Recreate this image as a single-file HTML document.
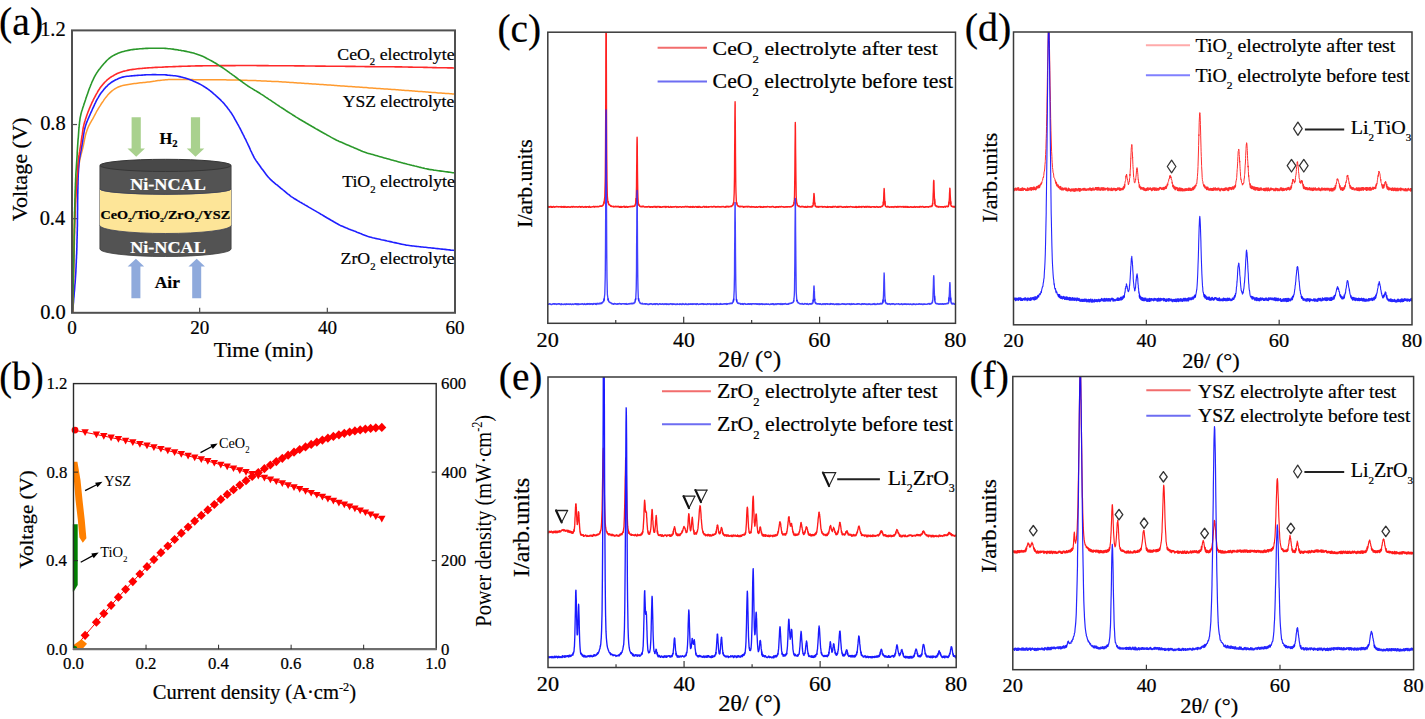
<!DOCTYPE html><html><head><meta charset="utf-8"><title>figure</title><style>html,body{margin:0;padding:0;background:#fff;overflow:hidden;}svg{display:block;}</style></head><body>
<svg width="1425" height="719" viewBox="0 0 1425 719" font-family="Liberation Serif">
<rect width="1425" height="719" fill="#fff"/>
<path d="M131.6,117.3 L140.79999999999998,117.3 L140.79999999999998,148.6 L144.95,148.6 L136.2,156.7 L127.44999999999999,148.6 L131.6,148.6 Z" fill="#a9d18e"/>
<path d="M190.9,117.3 L200.1,117.3 L200.1,148.6 L204.25,148.6 L195.5,156.7 L186.75,148.6 L190.9,148.6 Z" fill="#a9d18e"/>
<path d="M131.4,298.2 L140.4,298.2 L140.4,266.4 L144.15,266.4 L135.9,258.8 L127.65,266.4 L131.4,266.4 Z" fill="#8faadc"/>
<path d="M192.2,298.2 L201.2,298.2 L201.2,266.4 L204.95,266.4 L196.7,258.8 L188.45,266.4 L192.2,266.4 Z" fill="#8faadc"/>
<path d="M99.9,165.4 L231.1,165.4 L231.1,249 A65.6,7.5 0 0 1 99.9,249 Z" fill="#535353" stroke="#3c3c3c" stroke-width="0.8"/>
<path d="M99.9,189 A65.6,5.8 0 0 0 231.1,189 L231.1,225.5 A65.6,8.0 0 0 1 99.9,225.5 Z" fill="#fde598"/>
<path d="M99.9,189 A65.6,5.3 0 0 0 231.1,189" fill="none" stroke="#3a3f55" stroke-width="0.8"/>
<path d="M99.9,225.5 A65.6,8.0 0 0 0 231.1,225.5" fill="none" stroke="#3a3f55" stroke-width="0.8"/>
<ellipse cx="165.5" cy="165.4" rx="65.6" ry="6.1" fill="#484848" stroke="#363636" stroke-width="1.0"/>
<path d="M72.6,313.0 72.6,310.9 72.7,309.8 72.7,308.4 72.7,307.0 72.7,305.5 72.8,304.0 72.8,302.5 72.8,301.0 72.8,299.5 72.9,298.0 72.9,296.5 72.9,295.0 72.9,293.5 73.0,292.0 73.0,290.5 73.0,289.0 73.0,287.5 73.1,286.0 73.1,284.5 73.1,283.0 73.1,281.5 73.2,280.0 73.2,278.5 73.2,277.0 73.2,275.5 73.3,274.0 73.3,272.5 73.3,271.0 73.3,269.5 73.4,268.0 73.4,266.5 73.4,265.0 73.4,263.5 73.5,262.0 73.5,260.5 73.5,259.0 73.6,257.5 73.6,256.0 73.6,254.5 73.7,253.0 73.7,251.5 73.7,250.0 73.8,248.5 73.8,247.0 73.9,245.5 73.9,244.0 73.9,242.5 74.0,241.0 74.0,239.5 74.0,238.0 74.0,236.5 74.1,235.0 74.1,233.5 74.1,232.0 74.1,230.5 74.2,229.0 74.2,227.5 74.2,226.0 74.2,224.5 74.2,223.0 74.3,221.5 74.3,220.0 74.4,218.5 74.4,217.0 74.5,215.5 74.6,214.0 74.6,212.5 74.7,211.0 74.8,209.5 74.9,208.0 74.9,206.5 75.0,205.0 75.1,203.5 75.3,202.0 75.4,200.6 75.5,199.1 75.6,197.6 75.8,196.1 75.9,194.6 76.0,193.1 76.2,191.6 76.3,190.1 76.4,188.6 76.5,187.1 76.6,185.6 76.7,184.1 76.8,182.6 76.9,181.1 77.0,179.6 77.1,178.1 77.2,176.6 77.4,175.1 77.6,173.6 77.8,172.2 78.0,170.7 78.2,169.2 78.5,167.7 78.7,166.2 78.9,164.8 79.2,163.3 79.5,161.8 79.7,160.3 80.1,158.9 80.4,157.4 80.8,156.0 81.1,154.5 81.5,153.0 81.9,151.6 82.3,150.1 82.6,148.7 83.0,147.2 83.3,145.8 83.6,144.3 83.9,142.8 84.2,141.4 84.5,139.9 84.8,138.4 85.1,137.0 85.4,135.5 85.8,134.1 86.3,132.6 86.7,131.2 87.2,129.8 87.7,128.4 88.3,127.0 88.9,125.6 89.6,124.3 90.3,123.0 91.1,121.7 91.8,120.4 92.6,119.1 93.3,117.8 94.0,116.5 94.7,115.2 95.4,113.8 96.1,112.5 96.8,111.2 97.6,109.9 98.3,108.6 99.1,107.3 99.9,106.1 100.7,104.8 101.5,103.5 102.4,102.3 103.2,101.1 104.0,99.8 104.9,98.6 105.8,97.4 106.8,96.3 107.7,95.1 108.7,94.0 109.8,92.9 110.9,91.9 112.0,90.9 113.2,90.0 114.4,89.2 115.7,88.4 117.0,87.7 118.3,87.0 119.7,86.5 121.1,86.0 122.5,85.6 124.0,85.3 125.4,85.0 126.9,84.7 128.4,84.4 129.9,84.2 131.4,84.0 132.8,83.8 134.3,83.6 135.8,83.4 137.3,83.2 138.8,83.0 140.3,82.8 141.8,82.7 143.3,82.5 144.8,82.4 146.2,82.2 147.7,82.0 149.2,81.9 150.7,81.7 152.2,81.5 153.7,81.3 155.2,81.1 156.7,80.8 158.1,80.6 159.6,80.4 161.1,80.2 162.6,80.1 164.1,79.9 165.6,79.8 167.1,79.7 168.6,79.6 170.1,79.6 171.6,79.5 173.1,79.5 174.6,79.4 176.1,79.4 177.6,79.4 179.1,79.4 180.6,79.4 182.1,79.4 183.6,79.4 185.1,79.5 186.6,79.5 188.1,79.5 189.6,79.6 191.1,79.6 192.6,79.6 194.1,79.7 195.6,79.7 197.1,79.7 198.6,79.8 200.1,79.8 201.6,79.8 203.1,79.8 204.6,79.8 206.1,79.8 207.6,79.8 209.1,79.8 210.6,79.7 212.1,79.7 213.6,79.7 215.1,79.7 216.6,79.7 218.1,79.7 219.6,79.7 221.1,79.7 222.6,79.8 224.1,79.8 225.6,79.8 227.1,79.9 228.6,79.9 230.1,79.9 231.6,80.0 233.1,80.0 234.6,80.0 236.1,80.1 237.6,80.1 239.1,80.1 240.6,80.2 242.1,80.2 243.6,80.3 245.1,80.3 246.6,80.3 248.1,80.4 249.6,80.4 251.1,80.5 252.6,80.5 254.1,80.6 255.6,80.6 257.1,80.7 258.6,80.8 260.1,80.8 261.6,80.9 263.1,81.0 264.5,81.0 266.0,81.1 267.5,81.2 269.0,81.2 270.5,81.3 272.0,81.4 273.5,81.4 275.0,81.5 276.5,81.6 278.0,81.6 279.5,81.7 281.0,81.8 282.5,81.9 284.0,82.0 285.5,82.1 287.0,82.2 288.5,82.3 290.0,82.4 291.5,82.5 293.0,82.6 294.5,82.7 296.0,82.8 297.5,82.9 299.0,83.0 300.5,83.1 302.0,83.2 303.5,83.3 305.0,83.4 306.5,83.5 308.0,83.6 309.5,83.7 311.0,83.8 312.5,83.9 314.0,84.0 315.5,84.1 316.9,84.2 318.4,84.3 319.9,84.4 321.4,84.5 322.9,84.6 324.4,84.7 325.9,84.8 327.4,84.9 328.9,85.0 330.4,85.1 331.9,85.2 333.4,85.3 334.9,85.5 336.4,85.6 337.9,85.7 339.4,85.8 340.9,85.9 342.4,86.0 343.9,86.1 345.4,86.2 346.9,86.3 348.4,86.4 349.9,86.5 351.4,86.6 352.9,86.7 354.4,86.8 355.9,86.9 357.4,87.0 358.8,87.1 360.3,87.2 361.8,87.3 363.3,87.4 364.8,87.5 366.3,87.6 367.8,87.7 369.3,87.9 370.8,88.0 372.3,88.1 373.8,88.2 375.3,88.3 376.8,88.4 378.3,88.5 379.8,88.6 381.3,88.7 382.8,88.8 384.3,88.9 385.8,89.0 387.3,89.1 388.8,89.2 390.3,89.3 391.8,89.4 393.3,89.5 394.8,89.6 396.3,89.7 397.8,89.8 399.2,90.0 400.7,90.1 402.2,90.2 403.7,90.3 405.2,90.4 406.7,90.5 408.2,90.6 409.7,90.7 411.2,90.8 412.7,91.0 414.2,91.1 415.7,91.2 417.2,91.3 418.7,91.4 420.2,91.5 421.7,91.6 423.2,91.7 424.7,91.8 426.2,92.0 427.7,92.1 429.2,92.2 430.7,92.3 432.2,92.4 433.7,92.5 435.1,92.6 436.6,92.7 438.1,92.9 439.6,93.0 441.1,93.1 442.6,93.2 444.1,93.3 445.6,93.4 447.1,93.5 448.6,93.6 450.0,93.7 451.4,93.8 452.6,93.9 453.5,94.0 454.8,94.1" fill="none" stroke="#ff9a2e" stroke-width="1.5" stroke-linejoin="round"/>
<path d="M72.6,313.0 72.8,310.9 72.9,309.8 73.0,308.4 73.1,307.0 73.2,305.5 73.3,304.0 73.5,302.5 73.6,301.0 73.7,299.5 73.8,298.1 74.0,296.6 74.1,295.1 74.2,293.6 74.3,292.1 74.5,290.6 74.6,289.1 74.7,287.6 74.8,286.1 74.9,284.6 75.1,283.1 75.2,281.6 75.3,280.1 75.4,278.6 75.5,277.1 75.6,275.6 75.7,274.1 75.8,272.6 75.9,271.1 75.9,269.6 76.0,268.1 76.1,266.6 76.1,265.1 76.2,263.6 76.3,262.1 76.3,260.6 76.4,259.1 76.5,257.6 76.5,256.1 76.6,254.6 76.7,253.1 76.7,251.6 76.8,250.1 76.8,248.7 76.9,247.2 76.9,245.7 76.9,244.2 77.0,242.7 77.0,241.2 77.0,239.7 77.1,238.2 77.1,236.7 77.2,235.2 77.2,233.7 77.2,232.2 77.3,230.7 77.3,229.2 77.3,227.7 77.4,226.2 77.4,224.7 77.4,223.2 77.4,221.7 77.4,220.2 77.5,218.7 77.5,217.2 77.5,215.7 77.5,214.2 77.5,212.7 77.5,211.2 77.6,209.7 77.6,208.2 77.6,206.7 77.6,205.2 77.6,203.7 77.6,202.2 77.6,200.7 77.7,199.2 77.7,197.7 77.7,196.2 77.7,194.7 77.8,193.2 77.8,191.7 77.8,190.2 77.9,188.7 77.9,187.2 77.9,185.7 78.0,184.2 78.0,182.7 78.0,181.2 78.1,179.7 78.1,178.2 78.2,176.7 78.2,175.2 78.3,173.7 78.4,172.2 78.5,170.7 78.6,169.2 78.7,167.7 78.8,166.2 78.9,164.7 79.0,163.2 79.2,161.7 79.3,160.2 79.5,158.7 79.8,157.3 80.0,155.8 80.3,154.3 80.6,152.8 80.9,151.4 81.2,149.9 81.4,148.4 81.7,146.9 82.0,145.5 82.2,144.0 82.4,142.5 82.7,141.0 82.9,139.5 83.1,138.0 83.3,136.6 83.5,135.1 83.8,133.6 84.0,132.1 84.3,130.7 84.6,129.2 85.0,127.7 85.4,126.3 85.8,124.9 86.3,123.4 86.8,122.1 87.4,120.7 88.0,119.3 88.6,117.9 89.2,116.5 89.8,115.2 90.4,113.8 91.0,112.4 91.6,111.1 92.2,109.7 92.8,108.3 93.5,107.0 94.1,105.6 94.7,104.2 95.4,102.9 96.0,101.5 96.7,100.2 97.4,98.9 98.2,97.6 98.9,96.3 99.7,95.0 100.5,93.8 101.4,92.6 102.3,91.4 103.3,90.2 104.2,89.1 105.2,87.9 106.2,86.8 107.3,85.8 108.3,84.7 109.5,83.8 110.7,82.9 111.9,82.0 113.2,81.2 114.5,80.5 115.8,79.8 117.2,79.2 118.5,78.6 119.9,78.1 121.3,77.6 122.7,77.1 124.2,76.8 125.6,76.5 127.1,76.3 128.6,76.2 130.1,76.0 131.6,75.9 133.1,75.8 134.6,75.6 136.1,75.5 137.6,75.4 139.1,75.3 140.6,75.2 142.1,75.1 143.6,75.0 145.0,74.9 146.5,74.8 148.0,74.7 149.5,74.7 151.0,74.7 152.5,74.6 154.0,74.6 155.5,74.6 157.0,74.7 158.5,74.7 160.0,74.7 161.5,74.7 163.0,74.8 164.5,74.8 166.0,74.9 167.5,75.1 169.0,75.2 170.5,75.4 172.0,75.5 173.5,75.7 175.0,75.8 176.5,76.0 177.9,76.3 179.4,76.6 180.9,76.9 182.3,77.3 183.8,77.7 185.2,78.1 186.6,78.5 188.1,79.0 189.5,79.5 190.9,80.0 192.3,80.6 193.6,81.2 195.0,81.8 196.4,82.4 197.7,83.0 199.1,83.7 200.4,84.4 201.7,85.1 203.0,85.9 204.3,86.7 205.5,87.5 206.8,88.3 208.0,89.2 209.2,90.0 210.4,91.0 211.6,91.9 212.7,92.9 213.8,93.9 215.0,94.8 216.1,95.9 217.2,96.9 218.3,97.9 219.4,98.9 220.5,99.9 221.5,101.0 222.6,102.0 223.6,103.1 224.6,104.3 225.5,105.4 226.5,106.6 227.4,107.8 228.3,109.0 229.2,110.1 230.1,111.4 231.0,112.6 231.8,113.8 232.6,115.1 233.4,116.4 234.1,117.7 234.8,119.0 235.6,120.3 236.3,121.6 237.0,122.9 237.7,124.2 238.5,125.5 239.2,126.9 239.9,128.2 240.6,129.5 241.3,130.9 241.9,132.2 242.6,133.5 243.3,134.9 244.0,136.2 244.6,137.6 245.3,138.9 246.0,140.2 246.6,141.6 247.3,143.0 247.9,144.3 248.5,145.7 249.2,147.0 249.8,148.4 250.4,149.8 251.0,151.1 251.7,152.5 252.3,153.8 253.0,155.2 253.6,156.5 254.3,157.8 255.1,159.1 255.9,160.4 256.7,161.6 257.6,162.8 258.5,164.1 259.4,165.3 260.3,166.5 261.1,167.7 262.0,168.9 262.9,170.1 263.8,171.3 264.7,172.5 265.6,173.7 266.5,174.9 267.4,176.1 268.4,177.2 269.4,178.3 270.4,179.4 271.5,180.4 272.6,181.4 273.8,182.4 274.9,183.3 276.1,184.3 277.3,185.2 278.4,186.2 279.6,187.1 280.7,188.1 281.9,189.0 283.1,190.0 284.2,190.9 285.4,191.9 286.5,192.8 287.7,193.8 288.9,194.7 290.0,195.7 291.2,196.6 292.5,197.4 293.7,198.2 295.0,199.0 296.3,199.8 297.6,200.6 298.8,201.3 300.1,202.1 301.4,202.8 302.7,203.6 304.0,204.3 305.3,205.1 306.6,205.8 307.9,206.6 309.2,207.4 310.5,208.1 311.8,208.9 313.1,209.6 314.4,210.4 315.7,211.1 317.0,211.9 318.3,212.6 319.6,213.4 320.9,214.2 322.2,214.9 323.5,215.7 324.8,216.5 326.0,217.2 327.3,218.0 328.6,218.7 329.9,219.5 331.2,220.3 332.5,221.0 333.8,221.8 335.1,222.5 336.4,223.3 337.7,224.0 339.0,224.7 340.3,225.4 341.7,226.0 343.1,226.6 344.5,227.2 345.9,227.8 347.2,228.3 348.6,228.9 350.0,229.4 351.4,230.0 352.8,230.5 354.2,231.1 355.6,231.6 357.0,232.2 358.4,232.7 359.8,233.3 361.2,233.8 362.6,234.4 364.0,234.9 365.4,235.4 366.8,236.0 368.2,236.5 369.6,236.9 371.1,237.3 372.5,237.7 374.0,238.0 375.5,238.4 376.9,238.7 378.4,239.0 379.8,239.3 381.3,239.7 382.8,240.0 384.2,240.3 385.7,240.6 387.2,241.0 388.6,241.3 390.1,241.6 391.6,241.9 393.0,242.3 394.5,242.6 396.0,242.9 397.4,243.2 398.9,243.5 400.3,243.9 401.8,244.2 403.3,244.5 404.8,244.8 406.2,245.1 407.7,245.3 409.2,245.5 410.7,245.7 412.2,245.9 413.7,246.0 415.1,246.2 416.6,246.4 418.1,246.5 419.6,246.7 421.1,246.9 422.6,247.0 424.1,247.2 425.6,247.3 427.1,247.5 428.6,247.7 430.1,247.8 431.5,248.0 433.0,248.1 434.5,248.3 436.0,248.5 437.5,248.6 439.0,248.8 440.5,249.0 442.0,249.1 443.5,249.3 445.0,249.4 446.5,249.6 447.9,249.8 449.4,249.9 450.8,250.1 452.1,250.2 453.1,250.3 454.8,250.5" fill="none" stroke="#1f1fff" stroke-width="1.6" stroke-linejoin="round"/>
<path d="M72.6,313.0 72.7,310.9 72.7,309.8 72.7,308.4 72.8,307.0 72.8,305.5 72.9,304.0 72.9,302.5 73.0,301.0 73.0,299.5 73.1,298.0 73.1,296.5 73.1,295.0 73.2,293.5 73.2,292.0 73.3,290.5 73.3,289.0 73.3,287.5 73.4,286.0 73.4,284.5 73.4,283.0 73.5,281.5 73.5,280.0 73.5,278.5 73.6,277.0 73.6,275.5 73.6,274.0 73.6,272.5 73.7,271.0 73.7,269.5 73.7,268.0 73.8,266.5 73.8,265.0 73.8,263.5 73.9,262.0 73.9,260.5 73.9,259.0 74.0,257.5 74.0,256.0 74.0,254.5 74.1,253.0 74.1,251.5 74.1,250.0 74.2,248.5 74.2,247.0 74.2,245.5 74.3,244.0 74.3,242.5 74.3,241.0 74.4,239.5 74.4,238.0 74.4,236.5 74.5,235.0 74.5,233.5 74.6,232.0 74.6,230.5 74.6,229.0 74.7,227.5 74.7,226.0 74.8,224.5 74.8,223.0 74.9,221.5 74.9,220.0 75.0,218.5 75.0,217.0 75.1,215.5 75.1,214.0 75.2,212.5 75.2,211.0 75.3,209.5 75.3,208.0 75.4,206.5 75.4,205.0 75.5,203.5 75.6,202.0 75.6,200.5 75.7,199.0 75.8,197.5 75.9,196.1 76.0,194.6 76.1,193.1 76.1,191.6 76.2,190.1 76.3,188.6 76.4,187.1 76.5,185.6 76.6,184.1 76.7,182.6 76.8,181.1 76.9,179.6 77.0,178.1 77.2,176.6 77.3,175.1 77.4,173.6 77.5,172.1 77.6,170.6 77.7,169.1 77.7,167.6 77.8,166.1 77.9,164.6 78.0,163.1 78.2,161.6 78.3,160.1 78.5,158.7 78.7,157.2 78.9,155.7 79.2,154.2 79.4,152.7 79.7,151.2 79.9,149.8 80.1,148.3 80.4,146.8 80.6,145.3 80.9,143.8 81.1,142.4 81.3,140.9 81.5,139.4 81.7,137.9 81.9,136.4 82.2,134.9 82.4,133.5 82.6,132.0 82.8,130.5 83.0,129.0 83.3,127.5 83.6,126.1 83.9,124.6 84.3,123.2 84.7,121.7 85.2,120.3 85.6,118.9 86.1,117.5 86.6,116.0 87.1,114.6 87.6,113.2 88.1,111.8 88.7,110.4 89.2,109.0 89.8,107.6 90.4,106.2 91.0,104.9 91.6,103.5 92.2,102.1 92.9,100.8 93.5,99.4 94.2,98.1 94.9,96.8 95.6,95.5 96.3,94.1 97.1,92.8 97.8,91.5 98.6,90.2 99.4,89.0 100.2,87.7 101.1,86.5 102.0,85.4 103.0,84.2 104.0,83.1 105.0,82.0 106.1,81.0 107.2,79.9 108.3,79.0 109.5,78.1 110.7,77.2 112.0,76.4 113.3,75.7 114.6,74.9 115.9,74.2 117.2,73.5 118.6,72.9 119.9,72.4 121.4,71.9 122.8,71.5 124.2,71.1 125.7,70.8 127.2,70.4 128.6,70.1 130.1,69.8 131.6,69.6 133.0,69.4 134.5,69.2 136.0,69.0 137.5,68.8 139.0,68.6 140.5,68.5 142.0,68.4 143.5,68.2 145.0,68.1 146.5,68.0 148.0,67.9 149.5,67.8 151.0,67.7 152.5,67.6 154.0,67.5 155.5,67.4 157.0,67.4 158.5,67.3 160.0,67.2 161.4,67.2 162.9,67.1 164.4,67.0 165.9,66.9 167.4,66.9 168.9,66.8 170.4,66.7 171.9,66.7 173.4,66.6 174.9,66.6 176.4,66.5 177.9,66.5 179.4,66.4 180.9,66.4 182.4,66.3 183.9,66.3 185.4,66.2 186.9,66.2 188.4,66.1 189.9,66.1 191.4,66.0 192.9,66.0 194.4,66.0 195.9,65.9 197.4,65.9 198.9,65.9 200.4,65.9 201.9,65.9 203.4,65.8 204.9,65.8 206.4,65.8 207.9,65.8 209.4,65.8 210.9,65.7 212.4,65.7 213.9,65.7 215.4,65.7 216.9,65.6 218.4,65.6 219.9,65.6 221.4,65.6 222.9,65.6 224.4,65.6 225.9,65.6 227.4,65.6 228.9,65.6 230.4,65.6 231.9,65.6 233.4,65.6 234.9,65.6 236.4,65.5 237.9,65.5 239.4,65.5 240.9,65.5 242.4,65.5 243.9,65.5 245.4,65.5 246.9,65.5 248.4,65.5 249.9,65.5 251.4,65.5 252.9,65.5 254.4,65.5 255.9,65.5 257.4,65.6 258.9,65.6 260.4,65.6 261.9,65.6 263.4,65.6 264.9,65.6 266.4,65.6 267.9,65.6 269.4,65.7 270.9,65.7 272.4,65.7 273.9,65.7 275.4,65.7 276.9,65.7 278.4,65.7 279.9,65.7 281.4,65.8 282.9,65.8 284.4,65.8 285.9,65.8 287.4,65.8 288.9,65.8 290.4,65.8 291.9,65.8 293.4,65.8 294.9,65.9 296.4,65.9 297.9,65.9 299.4,65.9 300.9,65.9 302.4,65.9 303.9,65.9 305.4,66.0 306.9,66.0 308.4,66.0 309.9,66.0 311.4,66.0 312.9,66.0 314.4,66.0 315.9,66.1 317.4,66.1 318.9,66.1 320.4,66.1 321.9,66.1 323.4,66.1 324.9,66.1 326.4,66.2 327.9,66.2 329.4,66.2 330.9,66.2 332.4,66.2 333.9,66.2 335.4,66.3 336.9,66.3 338.4,66.3 339.9,66.3 341.4,66.3 342.9,66.3 344.4,66.3 345.9,66.4 347.4,66.4 348.9,66.4 350.4,66.4 351.9,66.4 353.4,66.4 354.9,66.4 356.4,66.5 357.9,66.5 359.4,66.5 360.9,66.5 362.4,66.5 363.9,66.5 365.4,66.6 366.9,66.6 368.4,66.6 369.9,66.6 371.4,66.6 372.9,66.6 374.4,66.6 375.9,66.7 377.4,66.7 378.9,66.7 380.4,66.7 381.9,66.7 383.4,66.7 384.9,66.7 386.4,66.8 387.9,66.8 389.4,66.8 390.9,66.8 392.4,66.8 393.9,66.8 395.4,66.9 396.9,66.9 398.4,66.9 399.9,66.9 401.4,66.9 402.9,67.0 404.4,67.0 405.9,67.0 407.4,67.0 408.9,67.1 410.4,67.1 411.9,67.1 413.4,67.2 414.9,67.2 416.4,67.2 417.9,67.3 419.4,67.3 420.9,67.3 422.4,67.3 423.9,67.4 425.4,67.4 426.9,67.4 428.4,67.5 429.9,67.5 431.4,67.5 432.9,67.6 434.4,67.6 435.9,67.6 437.4,67.7 438.9,67.7 440.4,67.7 441.9,67.7 443.4,67.8 444.9,67.8 446.4,67.8 447.9,67.9 449.4,67.9 450.8,67.9 452.1,67.9 453.1,68.0 454.8,68.0" fill="none" stroke="#ff2a2a" stroke-width="1.6" stroke-linejoin="round"/>
<path d="M72.6,313.0 72.6,310.9 72.7,309.8 72.7,308.4 72.7,307.0 72.8,305.5 72.8,304.0 72.8,302.5 72.9,301.0 72.9,299.5 72.9,298.0 72.9,296.5 73.0,295.0 73.0,293.5 73.0,292.0 73.1,290.5 73.1,289.0 73.1,287.5 73.2,286.0 73.2,284.5 73.2,283.0 73.3,281.5 73.3,280.0 73.3,278.5 73.4,277.0 73.4,275.5 73.4,274.0 73.5,272.5 73.5,271.0 73.5,269.5 73.6,268.0 73.6,266.5 73.6,265.0 73.7,263.5 73.7,262.0 73.8,260.5 73.8,259.0 73.8,257.5 73.9,256.0 73.9,254.5 73.9,253.0 74.0,251.5 74.0,250.0 74.0,248.5 74.0,247.0 74.1,245.5 74.1,244.0 74.1,242.5 74.1,241.0 74.2,239.5 74.2,238.0 74.2,236.5 74.2,235.0 74.3,233.5 74.3,232.0 74.3,230.5 74.3,229.0 74.4,227.5 74.4,226.0 74.4,224.5 74.5,223.0 74.5,221.5 74.5,220.0 74.5,218.5 74.6,217.0 74.6,215.5 74.6,214.0 74.6,212.5 74.7,211.0 74.7,209.5 74.7,208.0 74.8,206.5 74.8,205.0 74.8,203.5 74.9,202.0 74.9,200.5 74.9,199.0 75.0,197.5 75.0,196.0 75.0,194.5 75.1,193.0 75.1,191.5 75.2,190.0 75.3,188.5 75.3,187.0 75.4,185.5 75.4,184.0 75.5,182.5 75.6,181.0 75.6,179.5 75.7,178.0 75.8,176.5 75.8,175.0 75.9,173.5 76.0,172.0 76.1,170.6 76.2,169.1 76.3,167.6 76.4,166.1 76.5,164.6 76.6,163.1 76.7,161.6 76.8,160.1 76.9,158.6 77.0,157.1 77.1,155.6 77.2,154.1 77.2,152.6 77.3,151.1 77.4,149.6 77.5,148.1 77.6,146.6 77.7,145.1 77.8,143.6 77.9,142.1 78.0,140.6 78.1,139.1 78.3,137.6 78.4,136.1 78.5,134.6 78.6,133.1 78.7,131.6 78.8,130.1 78.9,128.6 79.1,127.2 79.2,125.7 79.4,124.2 79.5,122.7 79.7,121.2 79.9,119.7 80.1,118.2 80.4,116.7 80.7,115.3 81.0,113.8 81.4,112.4 81.8,110.9 82.3,109.5 82.7,108.1 83.2,106.7 83.7,105.2 84.1,103.8 84.6,102.4 85.1,101.0 85.6,99.5 86.0,98.1 86.5,96.7 87.0,95.3 87.5,93.9 88.0,92.5 88.5,91.0 89.0,89.6 89.5,88.2 90.1,86.8 90.6,85.4 91.2,84.0 91.7,82.7 92.3,81.3 93.0,79.9 93.6,78.6 94.3,77.2 95.0,75.9 95.7,74.6 96.5,73.3 97.3,72.1 98.2,70.8 99.1,69.6 100.0,68.5 100.9,67.3 101.9,66.1 102.8,65.0 103.8,63.8 104.8,62.7 105.8,61.6 106.8,60.5 107.9,59.5 109.0,58.5 110.2,57.6 111.4,56.7 112.7,55.9 114.0,55.2 115.3,54.5 116.6,53.9 118.0,53.3 119.4,52.8 120.8,52.3 122.2,51.8 123.7,51.4 125.1,51.0 126.6,50.7 128.1,50.4 129.5,50.1 131.0,49.8 132.5,49.6 134.0,49.4 135.5,49.3 136.9,49.1 138.4,49.0 139.9,48.8 141.4,48.7 142.9,48.6 144.4,48.5 145.9,48.4 147.4,48.4 148.9,48.3 150.4,48.3 151.9,48.3 153.4,48.2 154.9,48.2 156.4,48.2 157.9,48.2 159.4,48.2 160.9,48.2 162.4,48.3 163.9,48.3 165.4,48.4 166.9,48.5 168.4,48.7 169.9,48.8 171.4,49.0 172.9,49.1 174.3,49.4 175.8,49.6 177.3,49.8 178.8,50.1 180.3,50.3 181.7,50.6 183.2,50.8 184.7,51.1 186.2,51.4 187.6,51.7 189.1,52.0 190.6,52.4 192.0,52.7 193.5,53.1 194.9,53.6 196.3,54.0 197.7,54.5 199.2,55.0 200.6,55.5 201.9,56.0 203.3,56.6 204.7,57.3 206.0,58.0 207.3,58.7 208.7,59.4 210.0,60.1 211.3,60.8 212.6,61.5 213.9,62.3 215.2,63.0 216.5,63.8 217.8,64.6 219.0,65.4 220.3,66.2 221.6,67.0 222.8,67.8 224.0,68.7 225.3,69.6 226.5,70.4 227.7,71.3 228.9,72.2 230.1,73.1 231.3,73.9 232.5,74.8 233.8,75.7 235.0,76.6 236.2,77.5 237.4,78.4 238.6,79.3 239.8,80.1 241.0,81.0 242.2,81.9 243.4,82.8 244.6,83.7 245.9,84.6 247.1,85.4 248.3,86.3 249.6,87.1 250.9,87.9 252.2,88.6 253.4,89.4 254.7,90.2 256.0,90.9 257.3,91.7 258.6,92.5 259.9,93.3 261.1,94.1 262.4,94.9 263.6,95.7 264.9,96.6 266.1,97.4 267.4,98.2 268.6,99.1 269.9,99.9 271.1,100.7 272.4,101.6 273.6,102.4 274.8,103.2 276.1,104.1 277.3,104.9 278.6,105.7 279.8,106.6 281.1,107.4 282.4,108.2 283.6,109.0 284.9,109.8 286.1,110.7 287.4,111.5 288.6,112.3 289.9,113.1 291.2,113.9 292.4,114.7 293.7,115.5 295.0,116.3 296.2,117.1 297.5,117.9 298.8,118.7 300.1,119.5 301.4,120.2 302.7,121.0 304.0,121.7 305.3,122.5 306.5,123.3 307.8,124.0 309.1,124.8 310.4,125.5 311.7,126.3 313.0,127.0 314.3,127.8 315.6,128.6 316.9,129.3 318.2,130.0 319.5,130.8 320.8,131.5 322.1,132.2 323.5,133.0 324.8,133.7 326.1,134.4 327.4,135.2 328.7,135.9 330.0,136.6 331.3,137.4 332.6,138.1 333.9,138.8 335.3,139.5 336.6,140.2 338.0,140.8 339.3,141.4 340.7,142.0 342.1,142.6 343.5,143.2 344.8,143.8 346.2,144.4 347.6,145.0 349.0,145.6 350.4,146.2 351.7,146.8 353.1,147.3 354.5,147.9 355.9,148.5 357.2,149.1 358.6,149.7 360.0,150.3 361.4,150.9 362.8,151.5 364.2,152.0 365.6,152.5 367.0,153.0 368.4,153.4 369.9,153.8 371.3,154.2 372.8,154.6 374.2,155.0 375.6,155.4 377.1,155.8 378.5,156.3 380.0,156.7 381.4,157.1 382.9,157.5 384.3,157.9 385.8,158.3 387.2,158.7 388.6,159.1 390.1,159.5 391.5,159.9 393.0,160.3 394.4,160.7 395.9,161.1 397.3,161.5 398.8,161.9 400.2,162.3 401.7,162.7 403.1,163.1 404.6,163.4 406.0,163.8 407.5,164.2 408.9,164.5 410.4,164.9 411.8,165.3 413.3,165.6 414.7,166.0 416.2,166.3 417.7,166.7 419.1,167.1 420.6,167.4 422.0,167.8 423.5,168.1 424.9,168.5 426.4,168.8 427.9,169.1 429.3,169.4 430.8,169.6 432.3,169.8 433.8,170.1 435.3,170.3 436.8,170.5 438.3,170.7 439.7,170.9 441.2,171.1 442.7,171.3 444.2,171.5 445.7,171.7 447.2,171.9 448.6,172.1 450.1,172.3 451.4,172.5 452.6,172.7 453.5,172.8 454.8,173.0" fill="none" stroke="#2a982a" stroke-width="1.6" stroke-linejoin="round"/>
<rect x="72" y="30.4" width="383" height="282.4" fill="none" stroke="#505050" stroke-width="2.0"/>
<line x1="72.00" y1="218.67" x2="77.00" y2="218.67" stroke="#505050" stroke-width="1.2" />
<line x1="72.00" y1="124.53" x2="77.00" y2="124.53" stroke="#505050" stroke-width="1.2" />
<line x1="199.67" y1="312.80" x2="199.67" y2="307.80" stroke="#505050" stroke-width="1.2" />
<line x1="327.33" y1="312.80" x2="327.33" y2="307.80" stroke="#505050" stroke-width="1.2" />
<path d="M73.5,430.1 85.1,432.3 96.4,434.5 103.8,436.0 111.1,437.6 118.4,439.1 125.6,440.7 132.8,442.3 139.9,444.0 147.0,445.6 153.9,447.3 160.9,448.9 167.8,450.6 174.6,452.3 181.3,454.1 188.1,455.8 194.7,457.6 201.3,459.3 207.8,461.1 214.3,462.9 220.8,464.7 227.2,466.5 233.5,468.4 239.8,470.2 246.0,472.1 252.2,473.9 258.3,475.8 264.4,477.7 270.4,479.5 276.3,481.4 282.3,483.3 288.1,485.3 294.0,487.2 299.7,489.1 305.5,491.0 311.2,492.9 316.8,494.9 322.4,496.8 327.9,498.8 333.4,500.7 338.9,502.7 344.3,504.6 349.6,506.6 354.9,508.5 360.2,510.5 365.4,512.4 370.6,514.4 375.8,516.4 381.8,518.7" fill="none" stroke="#ff0000" stroke-width="1.0" stroke-linejoin="round" stroke-linecap="round" />
<path d="M73.5,649.2 85.1,635.3 96.4,622.2 103.8,613.6 111.1,605.3 118.4,597.2 125.6,589.3 132.8,581.6 139.9,574.0 147.0,566.7 153.9,559.6 160.9,552.7 167.8,546.0 174.6,539.5 181.3,533.2 188.1,527.0 194.7,521.1 201.3,515.4 207.8,509.9 214.3,504.5 220.8,499.4 227.2,494.4 233.5,489.7 239.8,485.1 246.0,480.7 252.2,476.5 258.3,472.5 264.4,468.7 270.4,465.0 276.3,461.6 282.3,458.3 288.1,455.2 294.0,452.2 299.7,449.5 305.5,446.9 311.2,444.4 316.8,442.2 322.4,440.1 327.9,438.2 333.4,436.4 338.9,434.8 344.3,433.3 349.6,432.0 354.9,430.9 360.2,429.9 365.4,429.1 370.6,428.4 375.8,427.8 381.8,427.4" fill="none" stroke="#ff0000" stroke-width="1.0" stroke-linejoin="round" stroke-linecap="round" />
<circle cx="75.0" cy="430.1" r="3.4" fill="#ff0000"/>
<path d="M81.4,429.3 L88.8,429.3 L85.1,436.0 Z" fill="#ff0000"/>
<path d="M92.7,431.5 L100.1,431.5 L96.4,438.2 Z" fill="#ff0000"/>
<path d="M100.1,433.0 L107.5,433.0 L103.8,439.7 Z" fill="#ff0000"/>
<path d="M107.4,434.6 L114.8,434.6 L111.1,441.3 Z" fill="#ff0000"/>
<path d="M114.7,436.1 L122.1,436.1 L118.4,442.8 Z" fill="#ff0000"/>
<path d="M121.9,437.7 L129.3,437.7 L125.6,444.4 Z" fill="#ff0000"/>
<path d="M129.1,439.3 L136.5,439.3 L132.8,446.0 Z" fill="#ff0000"/>
<path d="M136.2,441.0 L143.6,441.0 L139.9,447.7 Z" fill="#ff0000"/>
<path d="M143.3,442.6 L150.7,442.6 L147.0,449.3 Z" fill="#ff0000"/>
<path d="M150.2,444.3 L157.6,444.3 L153.9,451.0 Z" fill="#ff0000"/>
<path d="M157.2,445.9 L164.6,445.9 L160.9,452.6 Z" fill="#ff0000"/>
<path d="M164.1,447.6 L171.5,447.6 L167.8,454.3 Z" fill="#ff0000"/>
<path d="M170.9,449.3 L178.3,449.3 L174.6,456.0 Z" fill="#ff0000"/>
<path d="M177.6,451.1 L185.0,451.1 L181.3,457.8 Z" fill="#ff0000"/>
<path d="M184.4,452.8 L191.8,452.8 L188.1,459.5 Z" fill="#ff0000"/>
<path d="M191.0,454.6 L198.4,454.6 L194.7,461.3 Z" fill="#ff0000"/>
<path d="M197.6,456.3 L205.0,456.3 L201.3,463.0 Z" fill="#ff0000"/>
<path d="M204.1,458.1 L211.5,458.1 L207.8,464.8 Z" fill="#ff0000"/>
<path d="M210.6,459.9 L218.0,459.9 L214.3,466.6 Z" fill="#ff0000"/>
<path d="M217.1,461.7 L224.5,461.7 L220.8,468.4 Z" fill="#ff0000"/>
<path d="M223.5,463.5 L230.9,463.5 L227.2,470.2 Z" fill="#ff0000"/>
<path d="M229.8,465.4 L237.2,465.4 L233.5,472.1 Z" fill="#ff0000"/>
<path d="M236.1,467.2 L243.5,467.2 L239.8,473.9 Z" fill="#ff0000"/>
<path d="M242.3,469.1 L249.7,469.1 L246.0,475.8 Z" fill="#ff0000"/>
<path d="M248.5,470.9 L255.9,470.9 L252.2,477.6 Z" fill="#ff0000"/>
<path d="M254.6,472.8 L262.0,472.8 L258.3,479.5 Z" fill="#ff0000"/>
<path d="M260.7,474.7 L268.1,474.7 L264.4,481.4 Z" fill="#ff0000"/>
<path d="M266.7,476.5 L274.1,476.5 L270.4,483.2 Z" fill="#ff0000"/>
<path d="M272.6,478.4 L280.0,478.4 L276.3,485.1 Z" fill="#ff0000"/>
<path d="M278.6,480.3 L286.0,480.3 L282.3,487.0 Z" fill="#ff0000"/>
<path d="M284.4,482.3 L291.8,482.3 L288.1,489.0 Z" fill="#ff0000"/>
<path d="M290.3,484.2 L297.7,484.2 L294.0,490.9 Z" fill="#ff0000"/>
<path d="M296.0,486.1 L303.4,486.1 L299.7,492.8 Z" fill="#ff0000"/>
<path d="M301.8,488.0 L309.2,488.0 L305.5,494.7 Z" fill="#ff0000"/>
<path d="M307.5,489.9 L314.9,489.9 L311.2,496.6 Z" fill="#ff0000"/>
<path d="M313.1,491.9 L320.5,491.9 L316.8,498.6 Z" fill="#ff0000"/>
<path d="M318.7,493.8 L326.1,493.8 L322.4,500.5 Z" fill="#ff0000"/>
<path d="M324.2,495.8 L331.6,495.8 L327.9,502.5 Z" fill="#ff0000"/>
<path d="M329.7,497.7 L337.1,497.7 L333.4,504.4 Z" fill="#ff0000"/>
<path d="M335.2,499.7 L342.6,499.7 L338.9,506.4 Z" fill="#ff0000"/>
<path d="M340.6,501.6 L348.0,501.6 L344.3,508.3 Z" fill="#ff0000"/>
<path d="M345.9,503.6 L353.3,503.6 L349.6,510.3 Z" fill="#ff0000"/>
<path d="M351.2,505.5 L358.6,505.5 L354.9,512.2 Z" fill="#ff0000"/>
<path d="M356.5,507.5 L363.9,507.5 L360.2,514.2 Z" fill="#ff0000"/>
<path d="M361.7,509.4 L369.1,509.4 L365.4,516.1 Z" fill="#ff0000"/>
<path d="M366.9,511.4 L374.3,511.4 L370.6,518.1 Z" fill="#ff0000"/>
<path d="M372.1,513.4 L379.5,513.4 L375.8,520.1 Z" fill="#ff0000"/>
<path d="M378.1,515.7 L385.5,515.7 L381.8,522.4 Z" fill="#ff0000"/>
<path d="M85.1,630.7 L89.6,635.3 L85.1,639.9 L80.6,635.3 Z" fill="#ff0000"/>
<path d="M96.4,617.6 L100.9,622.2 L96.4,626.8 L91.9,622.2 Z" fill="#ff0000"/>
<path d="M103.8,609.0 L108.3,613.6 L103.8,618.2 L99.3,613.6 Z" fill="#ff0000"/>
<path d="M111.1,600.7 L115.6,605.3 L111.1,609.9 L106.6,605.3 Z" fill="#ff0000"/>
<path d="M118.4,592.6 L122.9,597.2 L118.4,601.8 L113.9,597.2 Z" fill="#ff0000"/>
<path d="M125.6,584.7 L130.1,589.3 L125.6,593.9 L121.1,589.3 Z" fill="#ff0000"/>
<path d="M132.8,577.0 L137.3,581.6 L132.8,586.2 L128.3,581.6 Z" fill="#ff0000"/>
<path d="M139.9,569.4 L144.4,574.0 L139.9,578.6 L135.4,574.0 Z" fill="#ff0000"/>
<path d="M147.0,562.1 L151.5,566.7 L147.0,571.3 L142.5,566.7 Z" fill="#ff0000"/>
<path d="M153.9,555.0 L158.4,559.6 L153.9,564.2 L149.4,559.6 Z" fill="#ff0000"/>
<path d="M160.9,548.1 L165.4,552.7 L160.9,557.3 L156.4,552.7 Z" fill="#ff0000"/>
<path d="M167.8,541.4 L172.3,546.0 L167.8,550.6 L163.3,546.0 Z" fill="#ff0000"/>
<path d="M174.6,534.9 L179.1,539.5 L174.6,544.1 L170.1,539.5 Z" fill="#ff0000"/>
<path d="M181.3,528.6 L185.8,533.2 L181.3,537.8 L176.8,533.2 Z" fill="#ff0000"/>
<path d="M188.1,522.4 L192.6,527.0 L188.1,531.6 L183.6,527.0 Z" fill="#ff0000"/>
<path d="M194.7,516.5 L199.2,521.1 L194.7,525.7 L190.2,521.1 Z" fill="#ff0000"/>
<path d="M201.3,510.8 L205.8,515.4 L201.3,520.0 L196.8,515.4 Z" fill="#ff0000"/>
<path d="M207.8,505.3 L212.3,509.9 L207.8,514.5 L203.3,509.9 Z" fill="#ff0000"/>
<path d="M214.3,499.9 L218.8,504.5 L214.3,509.1 L209.8,504.5 Z" fill="#ff0000"/>
<path d="M220.8,494.8 L225.3,499.4 L220.8,504.0 L216.3,499.4 Z" fill="#ff0000"/>
<path d="M227.2,489.8 L231.7,494.4 L227.2,499.0 L222.7,494.4 Z" fill="#ff0000"/>
<path d="M233.5,485.1 L238.0,489.7 L233.5,494.3 L229.0,489.7 Z" fill="#ff0000"/>
<path d="M239.8,480.5 L244.3,485.1 L239.8,489.7 L235.3,485.1 Z" fill="#ff0000"/>
<path d="M246.0,476.1 L250.5,480.7 L246.0,485.3 L241.5,480.7 Z" fill="#ff0000"/>
<path d="M252.2,471.9 L256.7,476.5 L252.2,481.1 L247.7,476.5 Z" fill="#ff0000"/>
<path d="M258.3,467.9 L262.8,472.5 L258.3,477.1 L253.8,472.5 Z" fill="#ff0000"/>
<path d="M264.4,464.1 L268.9,468.7 L264.4,473.3 L259.9,468.7 Z" fill="#ff0000"/>
<path d="M270.4,460.4 L274.9,465.0 L270.4,469.6 L265.9,465.0 Z" fill="#ff0000"/>
<path d="M276.3,457.0 L280.8,461.6 L276.3,466.2 L271.8,461.6 Z" fill="#ff0000"/>
<path d="M282.3,453.7 L286.8,458.3 L282.3,462.9 L277.8,458.3 Z" fill="#ff0000"/>
<path d="M288.1,450.6 L292.6,455.2 L288.1,459.8 L283.6,455.2 Z" fill="#ff0000"/>
<path d="M294.0,447.6 L298.5,452.2 L294.0,456.8 L289.5,452.2 Z" fill="#ff0000"/>
<path d="M299.7,444.9 L304.2,449.5 L299.7,454.1 L295.2,449.5 Z" fill="#ff0000"/>
<path d="M305.5,442.3 L310.0,446.9 L305.5,451.5 L301.0,446.9 Z" fill="#ff0000"/>
<path d="M311.2,439.8 L315.7,444.4 L311.2,449.0 L306.7,444.4 Z" fill="#ff0000"/>
<path d="M316.8,437.6 L321.3,442.2 L316.8,446.8 L312.3,442.2 Z" fill="#ff0000"/>
<path d="M322.4,435.5 L326.9,440.1 L322.4,444.7 L317.9,440.1 Z" fill="#ff0000"/>
<path d="M327.9,433.6 L332.4,438.2 L327.9,442.8 L323.4,438.2 Z" fill="#ff0000"/>
<path d="M333.4,431.8 L337.9,436.4 L333.4,441.0 L328.9,436.4 Z" fill="#ff0000"/>
<path d="M338.9,430.2 L343.4,434.8 L338.9,439.4 L334.4,434.8 Z" fill="#ff0000"/>
<path d="M344.3,428.7 L348.8,433.3 L344.3,437.9 L339.8,433.3 Z" fill="#ff0000"/>
<path d="M349.6,427.4 L354.1,432.0 L349.6,436.6 L345.1,432.0 Z" fill="#ff0000"/>
<path d="M354.9,426.3 L359.4,430.9 L354.9,435.5 L350.4,430.9 Z" fill="#ff0000"/>
<path d="M360.2,425.3 L364.7,429.9 L360.2,434.5 L355.7,429.9 Z" fill="#ff0000"/>
<path d="M365.4,424.5 L369.9,429.1 L365.4,433.7 L360.9,429.1 Z" fill="#ff0000"/>
<path d="M370.6,423.8 L375.1,428.4 L370.6,433.0 L366.1,428.4 Z" fill="#ff0000"/>
<path d="M375.8,423.2 L380.3,427.8 L375.8,432.4 L371.3,427.8 Z" fill="#ff0000"/>
<path d="M381.8,422.8 L386.3,427.4 L381.8,432.0 L377.3,427.4 Z" fill="#ff0000"/>
<path d="M73.4,461.8 L77.4,461.8 L80.5,480 L82.5,500 L84.7,519.4 L86.4,538.2 L82.8,542.8 L79.4,537.5 L77.8,519.4 L75.5,500 L73.9,480 Z" fill="#ff8000"/>
<path d="M73.5,645 L81.5,639.3 L87,643.8 L82,649.5 L73.5,649.5 Z" fill="#ff8000"/>
<path d="M72.8,524.3 L77.7,524.3 L77.7,585.1 L73.8,591.5 L72.8,591.5 Z" fill="#008000"/>
<path d="M73.2,645.3 L76.5,646.5 L78,649.5 L73.2,649.5 Z" fill="#008000"/>
<rect x="73.5" y="383.6" width="362.7" height="265.6" fill="none" stroke="#2a2a2a" stroke-width="1.4"/>
<line x1="73.00" y1="649.20" x2="436.70" y2="649.20" stroke="#6e6e6e" stroke-width="2.2" />
<line x1="73.50" y1="560.67" x2="78.00" y2="560.67" stroke="#2a2a2a" stroke-width="1.0" />
<line x1="73.50" y1="472.13" x2="78.00" y2="472.13" stroke="#2a2a2a" stroke-width="1.0" />
<line x1="436.20" y1="560.67" x2="431.70" y2="560.67" stroke="#2a2a2a" stroke-width="1.0" />
<line x1="436.20" y1="472.13" x2="431.70" y2="472.13" stroke="#2a2a2a" stroke-width="1.0" />
<line x1="146.04" y1="649.20" x2="146.04" y2="644.70" stroke="#2a2a2a" stroke-width="1.0" />
<line x1="218.58" y1="649.20" x2="218.58" y2="644.70" stroke="#2a2a2a" stroke-width="1.0" />
<line x1="291.12" y1="649.20" x2="291.12" y2="644.70" stroke="#2a2a2a" stroke-width="1.0" />
<line x1="363.66" y1="649.20" x2="363.66" y2="644.70" stroke="#2a2a2a" stroke-width="1.0" />
<line x1="200.50" y1="452.60" x2="212.41" y2="446.23" stroke="#000" stroke-width="1.3" />
<path d="M217.7,443.4 L212.8,449.0 L210.3,444.4 Z" fill="#000"/>
<line x1="85.10" y1="490.70" x2="97.16" y2="484.53" stroke="#000" stroke-width="1.3" />
<path d="M102.5,481.8 L97.5,487.3 L95.1,482.7 Z" fill="#000"/>
<line x1="80.70" y1="562.20" x2="93.41" y2="555.42" stroke="#000" stroke-width="1.3" />
<path d="M98.7,552.6 L93.7,558.2 L91.3,553.6 Z" fill="#000"/>
<defs><clipPath id="cc"><rect x="547.8" y="32.2" width="407.7" height="291.1"/></clipPath><clipPath id="cd"><rect x="1013.5" y="32" width="398.5" height="292.8"/></clipPath><clipPath id="ce"><rect x="548" y="377" width="408.2" height="290.5"/></clipPath><clipPath id="cf"><rect x="1012.8" y="376.5" width="400.8" height="293.2"/></clipPath></defs>
<g clip-path="url(#cc)"><path d="M547.8,206.6 548.3,206.5 548.8,207.2 549.3,206.8 549.8,207.1 550.3,206.5 550.8,206.8 551.3,207.1 551.8,206.7 552.3,207.2 552.8,207.2 553.3,206.5 553.8,206.5 554.3,206.9 554.8,207.2 555.3,206.8 555.8,206.7 556.3,206.8 556.8,206.5 557.3,206.7 557.8,206.8 558.3,206.9 558.8,206.7 559.3,206.7 559.8,206.7 560.3,206.9 560.8,206.7 561.3,206.5 561.8,207.2 562.3,206.9 562.8,207.0 563.3,206.6 563.8,207.3 564.3,207.2 564.8,206.6 565.3,206.8 565.8,207.1 566.3,207.1 566.8,207.2 567.3,206.8 567.8,207.1 568.3,207.0 568.8,206.7 569.3,207.0 569.8,207.2 570.3,207.2 570.8,206.9 571.3,207.0 571.8,206.5 572.3,206.7 572.8,207.1 573.3,206.8 573.8,206.6 574.3,206.9 574.8,207.0 575.3,207.0 575.8,206.8 576.3,206.8 576.8,206.9 577.3,207.1 577.8,206.9 578.3,206.8 578.8,206.9 579.3,206.5 579.8,206.5 580.3,207.0 580.8,207.3 581.3,206.9 581.8,206.8 582.3,206.6 582.8,206.9 583.3,207.2 583.8,207.1 584.3,206.9 584.8,207.1 585.3,206.6 585.8,206.9 586.3,207.2 586.8,206.9 587.3,206.8 587.8,206.7 588.3,206.9 588.8,207.2 589.3,206.4 589.8,207.1 590.3,207.1 590.8,207.1 591.3,207.0 591.8,207.0 592.3,206.8 592.8,206.8 593.3,206.7 593.8,206.4 594.3,207.1 594.8,206.8 595.3,206.5 595.8,206.7 596.3,206.7 596.8,206.6 597.3,206.5 597.8,206.6 598.3,206.7 598.8,206.6 599.3,206.4 599.8,206.0 600.3,206.1 600.8,206.0 601.3,206.1 601.8,206.2 602.3,205.8 602.8,205.4 603.3,204.8 603.5,204.0 603.8,203.7 604.3,201.4 M607.9,201.1 608.3,202.8 608.8,204.3 608.8,204.6 609.3,204.7 609.8,205.1 610.3,205.5 610.8,206.2 611.3,205.9 611.8,206.5 612.3,206.5 612.8,206.5 613.3,206.3 613.8,206.9 614.3,206.8 614.8,206.6 615.3,206.4 615.8,206.8 616.3,206.6 616.8,206.8 617.3,206.6 617.8,206.8 618.3,206.4 618.8,206.6 619.3,207.1 619.8,207.1 620.3,206.6 620.8,207.1 621.3,206.6 621.8,207.1 622.3,207.0 622.8,206.7 623.3,206.6 623.8,206.4 624.3,207.1 624.8,206.4 625.3,207.1 625.8,207.2 626.3,206.8 626.8,206.5 627.3,207.1 627.8,207.2 628.3,206.9 628.8,206.8 629.3,206.7 629.8,206.6 630.3,206.5 630.8,206.8 631.3,206.6 631.8,206.4 632.3,206.3 632.8,206.6 633.3,206.2 633.8,206.3 634.3,205.9 634.4,206.2 634.8,205.9 635.3,204.5 635.3,204.6 635.8,203.2 635.8,203.5 636.2,198.0 M638.3,202.8 638.4,203.4 638.8,205.0 638.9,204.7 639.3,205.4 639.7,205.8 639.8,206.3 640.3,206.3 640.8,206.8 641.3,206.8 641.8,206.3 642.3,206.7 642.8,206.4 643.3,206.3 643.8,206.4 644.3,207.0 644.8,207.0 645.3,207.0 645.8,206.7 646.3,206.9 646.8,207.0 647.3,206.7 647.8,206.9 648.3,206.6 648.8,206.5 649.3,206.7 649.8,207.2 650.3,206.9 650.8,207.2 651.3,206.8 651.8,206.7 652.3,207.1 652.8,207.1 653.3,206.5 653.8,207.0 654.3,206.5 654.8,206.6 655.3,207.2 655.8,206.5 656.3,206.7 656.8,207.3 657.3,206.8 657.8,206.6 658.3,206.6 658.8,206.7 659.3,207.1 659.8,206.6 660.3,207.2 660.8,206.8 661.3,207.3 661.8,207.2 662.3,206.7 662.8,206.7 663.3,206.9 663.8,206.6 664.3,207.0 664.8,206.5 665.3,206.5 665.8,207.3 666.3,206.7 666.8,207.0 667.3,206.8 667.8,206.7 668.3,206.5 668.8,207.2 669.3,207.3 669.8,207.3 670.3,206.6 670.8,206.7 671.3,207.0 671.8,207.3 672.3,206.9 672.8,207.0 673.3,207.0 673.8,206.7 674.3,206.9 674.8,206.7 675.3,206.7 675.8,206.6 676.3,206.7 676.8,207.3 677.3,206.8 677.8,207.0 678.3,207.0 678.8,207.2 679.3,206.8 679.8,206.7 680.3,206.8 680.8,206.7 681.3,207.2 681.8,207.2 682.3,206.7 682.8,206.8 683.3,206.9 683.8,207.0 684.3,207.0 684.8,206.7 685.3,206.5 685.8,206.7 686.3,206.5 686.8,206.9 687.3,206.5 687.8,206.5 688.3,207.0 688.8,206.7 689.3,207.1 689.8,206.9 690.3,207.2 690.8,206.6 691.3,206.9 691.8,207.1 692.3,206.6 692.8,207.2 693.3,206.6 693.8,207.1 694.3,207.3 694.8,207.1 695.3,206.7 695.8,206.6 696.3,206.9 696.8,207.2 697.3,206.7 697.8,207.2 698.3,206.6 698.8,207.2 699.3,206.5 699.8,206.7 700.3,207.2 700.8,207.1 701.3,207.2 701.8,207.2 702.3,207.1 702.8,207.0 703.3,206.6 703.8,206.8 704.3,206.6 704.8,207.1 705.3,207.0 705.8,206.7 706.3,206.5 706.8,207.3 707.3,207.1 707.8,206.9 708.3,206.9 708.8,207.2 709.3,206.8 709.8,206.8 710.3,206.7 710.8,206.7 711.3,206.5 711.8,207.0 712.3,206.8 712.8,206.9 713.3,206.5 713.8,206.8 714.3,206.6 714.8,206.6 715.3,206.7 715.8,207.1 716.3,206.8 716.8,206.8 717.3,207.0 717.8,206.6 718.3,206.5 718.8,206.9 719.3,206.9 719.8,207.0 720.3,206.8 720.8,207.0 721.3,207.0 721.8,206.6 722.3,206.8 722.8,206.8 723.3,206.6 723.8,206.7 724.3,206.9 724.8,207.1 725.3,207.1 725.8,206.6 726.3,206.9 726.8,206.4 727.3,206.4 727.8,206.7 728.3,207.0 728.8,206.4 729.3,206.8 729.8,206.8 730.3,206.3 730.8,206.5 731.3,206.5 731.8,205.8 732.3,205.8 732.4,205.7 732.8,205.0 733.3,204.1 733.8,201.8 M736.4,201.9 736.8,204.0 736.8,203.5 737.3,205.1 737.7,205.7 737.8,205.7 738.3,206.1 738.8,206.1 739.3,206.7 739.8,206.8 740.3,206.4 740.8,206.8 741.3,206.6 741.8,206.4 742.3,206.6 742.8,206.4 743.3,207.1 743.8,207.1 744.3,206.5 744.8,206.9 745.3,206.7 745.8,206.5 746.3,206.6 746.8,206.6 747.3,207.0 747.8,206.4 748.3,206.6 748.8,206.8 749.3,206.5 749.8,206.9 750.3,206.9 750.8,207.1 751.3,206.6 751.8,206.7 752.3,206.9 752.8,206.7 753.3,206.9 753.8,206.7 754.3,207.0 754.8,207.1 755.3,207.1 755.8,207.2 756.3,206.9 756.8,206.9 757.3,207.2 757.8,207.1 758.3,206.9 758.8,206.8 759.3,206.7 759.8,206.6 760.3,207.1 760.8,206.6 761.3,207.1 761.8,206.9 762.3,207.2 762.8,207.1 763.3,207.3 763.8,206.6 764.3,206.9 764.8,206.9 765.3,206.7 765.8,206.9 766.3,206.8 766.8,206.9 767.3,206.5 767.8,206.8 768.3,206.8 768.8,206.7 769.3,206.8 769.8,207.1 770.3,207.0 770.8,206.9 771.3,207.0 771.8,206.8 772.3,206.6 772.8,206.5 773.3,206.7 773.8,207.0 774.3,207.2 774.8,207.1 775.3,206.9 775.8,207.3 776.3,206.8 776.8,207.1 777.3,206.8 777.8,207.1 778.3,207.3 778.8,206.7 779.3,206.6 779.8,207.0 780.3,206.9 780.8,206.7 781.3,206.5 781.8,206.8 782.3,206.8 782.8,206.8 783.3,207.1 783.8,206.9 784.3,207.0 784.8,207.1 785.3,207.0 785.8,206.8 786.3,207.0 786.8,206.9 787.3,206.9 787.8,206.9 788.3,206.7 788.8,206.8 789.3,206.8 789.8,207.0 790.3,206.8 790.8,206.8 791.3,206.6 791.8,206.5 792.3,206.1 792.7,205.6 792.8,205.5 793.3,205.2 793.6,204.7 793.8,203.7 794.0,202.3 M796.7,202.9 796.8,203.1 797.1,204.1 797.3,205.1 797.8,205.6 798.0,205.6 798.3,206.0 798.8,206.4 799.3,206.1 799.8,206.6 800.3,206.7 800.8,206.9 801.3,206.5 801.8,206.8 802.3,206.5 802.8,206.8 803.3,206.5 803.8,207.0 804.3,207.1 804.8,206.7 805.3,206.6 805.8,207.2 806.3,207.0 806.8,207.1 807.3,206.4 807.8,207.1 808.3,206.9 808.8,206.6 809.3,206.7 809.8,207.0 810.3,207.0 810.8,206.5 811.2,206.8 811.3,206.4 811.8,206.9 812.1,206.4 812.3,206.7 812.6,206.4 812.8,206.0 813.1,204.9 813.3,203.5 813.4,202.6 M814.7,202.5 814.8,203.7 815.0,204.7 815.3,206.1 815.5,206.5 815.8,206.2 815.9,206.1 816.3,206.8 816.8,206.9 816.9,207.1 817.3,206.8 817.8,206.6 818.3,207.1 818.8,206.5 819.3,207.0 819.8,206.5 820.3,206.8 820.8,206.8 821.3,206.8 821.8,206.6 822.3,206.6 822.8,207.1 823.3,206.8 823.8,206.9 824.3,206.6 824.8,207.0 825.3,206.7 825.8,207.0 826.3,207.2 826.8,207.3 827.3,206.5 827.8,207.1 828.3,207.2 828.8,206.7 829.3,206.8 829.8,206.9 830.3,207.2 830.8,206.8 831.3,207.2 831.8,207.1 832.3,206.6 832.8,207.2 833.3,206.5 833.8,206.6 834.3,207.0 834.8,206.5 835.3,206.8 835.8,206.6 836.3,206.9 836.8,207.2 837.3,207.2 837.8,206.5 838.3,206.5 838.8,207.2 839.3,206.5 839.8,206.7 840.3,206.6 840.8,206.6 841.3,206.5 841.8,207.0 842.3,207.1 842.8,207.0 843.3,207.2 843.8,207.0 844.3,206.8 844.8,207.0 845.3,207.3 845.8,207.0 846.3,206.7 846.8,206.5 847.3,207.2 847.8,207.0 848.3,206.8 848.8,207.0 849.3,206.9 849.8,206.9 850.3,206.5 850.8,206.8 851.3,206.8 851.8,206.7 852.3,207.2 852.8,206.8 853.3,207.0 853.8,207.1 854.3,207.1 854.8,207.1 855.3,207.1 855.8,206.7 856.3,207.3 856.8,206.6 857.3,207.2 857.8,207.2 858.3,207.2 858.8,206.5 859.3,206.6 859.8,207.1 860.3,206.9 860.8,206.8 861.3,207.3 861.8,206.5 862.3,206.9 862.8,206.8 863.3,206.6 863.8,206.8 864.3,207.1 864.8,207.2 865.3,206.5 865.8,206.9 866.3,206.6 866.8,207.1 867.3,206.6 867.8,206.5 868.3,206.8 868.8,207.1 869.3,206.7 869.8,206.6 870.3,207.1 870.8,207.1 871.3,207.2 871.8,206.7 872.3,206.8 872.8,206.7 873.3,206.9 873.8,206.7 874.3,206.7 874.8,207.1 875.3,207.2 875.8,206.9 876.3,206.5 876.8,207.0 877.3,206.8 877.8,207.2 878.3,207.0 878.8,207.1 879.3,207.0 879.8,206.8 880.3,207.1 880.8,207.0 881.3,206.5 881.8,206.3 882.2,206.2 882.3,206.3 882.7,205.6 882.8,205.7 883.2,204.5 883.3,203.3 883.5,201.6 M884.8,201.0 885.1,204.8 885.3,205.4 885.6,206.3 885.8,206.5 886.1,206.7 886.3,206.7 886.8,206.9 887.0,207.0 887.3,206.9 887.8,206.4 888.3,206.8 888.8,206.9 889.3,207.2 889.8,207.1 890.3,207.0 890.8,207.0 891.3,206.7 891.8,207.2 892.3,207.0 892.8,206.8 893.3,206.8 893.8,207.3 894.3,206.9 894.8,206.6 895.3,206.6 895.8,207.0 896.3,206.9 896.8,207.2 897.3,206.6 897.8,206.8 898.3,207.1 898.8,206.5 899.3,206.6 899.8,206.9 900.3,206.7 900.8,206.6 901.3,206.7 901.8,207.0 902.3,206.9 902.8,206.6 903.3,206.5 903.8,207.2 904.3,207.0 904.8,206.6 905.3,207.2 905.8,206.5 906.3,206.8 906.8,207.2 907.3,207.1 907.8,206.7 908.3,207.2 908.8,207.0 909.3,207.2 909.8,207.2 910.3,206.8 910.8,207.0 911.3,206.9 911.8,207.2 912.3,207.1 912.8,207.1 913.3,207.1 913.8,207.3 914.3,206.7 914.8,206.6 915.3,207.1 915.8,207.1 916.3,206.9 916.8,206.9 917.3,206.8 917.8,207.2 918.3,207.1 918.8,206.9 919.3,206.5 919.8,207.2 920.3,206.8 920.8,206.6 921.3,206.7 921.8,207.0 922.3,206.5 922.8,206.6 923.3,206.7 923.8,207.2 924.3,207.1 924.8,207.2 925.3,206.9 925.8,206.9 926.3,206.9 926.8,206.8 927.3,206.8 927.8,207.0 928.3,207.1 928.8,206.7 929.3,206.8 929.8,206.5 930.3,206.4 930.7,206.5 930.8,206.6 931.3,206.4 931.7,206.5 931.8,205.8 932.2,205.6 932.3,205.8 932.7,203.5 932.8,202.8 M934.5,198.9 934.8,203.3 934.8,203.5 935.3,205.2 935.3,205.4 935.8,206.0 935.8,205.7 936.3,206.1 936.8,206.3 936.8,206.8 937.3,206.7 937.8,206.5 938.3,207.1 938.8,206.5 939.3,206.8 939.8,207.0 940.3,206.9 940.8,206.7 941.3,207.0 941.8,206.8 942.3,207.0 942.8,206.8 943.3,207.2 943.8,207.0 944.3,206.5 944.8,206.5 945.3,207.1 945.8,206.5 946.3,206.3 946.8,206.4 947.3,206.5 947.8,206.7 947.8,206.3 948.3,206.2 948.3,206.2 948.8,204.3 948.8,204.5 949.1,201.7 M950.6,201.3 950.8,204.1 950.9,204.7 951.3,206.0 951.4,206.1 951.8,206.0 951.9,206.3 952.3,206.6 952.8,206.5 952.9,206.6 953.3,207.0 953.8,206.4 954.3,207.1 954.8,206.5 955.3,206.7" fill="none" stroke="#ff2020" stroke-width="1.6" stroke-linejoin="round"/><path d="M603.8,203.7 604.3,201.4 604.3,200.8 604.8,196.4 604.8,196.1 605.2,181.1 605.3,173.7 605.5,148.5 605.7,108.4 605.8,71.2 605.8,68.0 605.9,34.7 606.0,16.9 606.1,9.7 606.2,16.4 606.3,34.6 606.3,39.5 606.4,70.5 606.5,107.7 606.7,148.0 606.8,161.3 607.0,180.7 607.3,194.3 607.4,196.6 607.8,201.0 607.9,201.1 608.3,202.8 M635.8,203.5 636.2,198.0 636.3,194.5 636.5,185.7 636.6,172.5 636.8,158.5 636.8,156.5 636.9,145.3 637.0,139.5 637.1,137.2 637.2,139.1 637.3,145.6 637.3,148.6 637.4,159.2 637.5,171.8 637.7,185.5 637.8,191.8 638.0,197.5 638.3,202.8 638.4,203.4 M733.3,204.1 733.8,201.8 733.8,201.4 734.2,193.0 734.3,187.2 734.5,175.5 734.6,153.8 734.8,134.2 734.8,128.1 734.9,114.4 735.0,105.3 735.1,101.7 735.2,105.0 735.2,114.7 735.3,121.5 735.4,134.3 735.5,153.6 735.7,176.1 735.8,185.1 736.0,193.0 736.3,200.4 736.4,201.9 736.8,204.0 M793.8,203.7 794.0,202.3 794.3,199.9 794.5,195.8 794.7,182.1 794.8,174.9 794.9,164.8 795.0,149.2 795.2,132.4 795.2,125.6 795.3,123.5 795.3,122.3 795.4,125.5 795.5,133.4 795.6,148.7 795.8,164.3 795.8,166.8 796.0,181.9 796.2,195.8 796.3,197.7 796.7,202.9 796.8,203.1 M813.3,203.5 813.4,202.6 813.5,199.8 813.7,197.6 813.8,195.5 813.8,195.1 813.9,193.6 814.0,193.5 814.1,193.9 814.2,194.8 814.3,196.0 814.4,197.4 814.5,200.0 814.7,202.5 814.8,203.7 M883.3,203.3 883.5,201.6 883.7,197.6 883.8,194.4 883.8,193.9 884.0,190.5 884.1,188.7 884.1,188.5 884.2,188.9 884.3,189.7 884.3,190.2 884.5,194.5 884.6,197.5 884.8,200.9 884.8,201.0 885.1,204.8 M932.7,203.5 932.8,202.8 933.0,198.8 933.2,193.3 933.3,192.1 933.4,188.6 933.5,183.5 933.6,181.3 933.8,180.3 933.8,180.4 933.9,180.8 934.0,183.2 934.1,188.4 934.3,193.5 934.3,194.7 934.5,198.9 934.8,203.3 M948.8,204.5 949.1,201.7 949.3,198.7 949.4,197.6 949.5,194.0 949.7,190.8 949.8,189.3 949.8,188.2 949.9,188.3 950.0,188.8 950.1,190.6 950.2,193.8 950.3,195.8 950.4,197.4 950.6,201.3 950.8,204.1" fill="none" stroke="#ff2020" stroke-width="1.35" stroke-linejoin="round"/></g>
<g clip-path="url(#cc)"><path d="M547.8,304.2 548.3,304.2 548.8,304.2 549.3,303.8 549.8,304.0 550.3,304.0 550.8,304.3 551.3,304.5 551.8,304.5 552.3,304.1 552.8,304.0 553.3,303.9 553.8,303.7 554.3,303.7 554.8,304.1 555.3,303.9 555.8,304.0 556.3,304.4 556.8,304.1 557.3,304.1 557.8,303.9 558.3,303.7 558.8,303.9 559.3,303.8 559.8,304.1 560.3,304.5 560.8,304.2 561.3,303.8 561.8,304.4 562.3,304.3 562.8,304.3 563.3,304.4 563.8,304.3 564.3,304.3 564.8,304.0 565.3,304.5 565.8,304.5 566.3,303.8 566.8,304.3 567.3,304.3 567.8,304.1 568.3,304.1 568.8,304.1 569.3,304.4 569.8,304.1 570.3,304.3 570.8,304.0 571.3,304.4 571.8,304.4 572.3,304.0 572.8,304.1 573.3,304.4 573.8,304.3 574.3,304.1 574.8,303.9 575.3,303.9 575.8,304.2 576.3,303.8 576.8,304.4 577.3,303.9 577.8,304.4 578.3,303.9 578.8,304.4 579.3,304.2 579.8,304.1 580.3,304.1 580.8,304.2 581.3,304.1 581.8,303.9 582.3,303.8 582.8,304.1 583.3,304.4 583.8,304.2 584.3,303.7 584.8,304.3 585.3,304.2 585.8,304.4 586.3,303.8 586.8,304.2 587.3,303.7 587.8,304.2 588.3,303.9 588.8,303.8 589.3,304.3 589.8,303.7 590.3,304.0 590.8,304.3 591.3,303.8 591.8,303.8 592.3,304.3 592.8,303.9 593.3,304.2 593.8,303.6 594.3,303.8 594.8,303.7 595.3,304.1 595.8,303.6 596.3,304.3 596.8,303.5 597.3,304.0 597.8,303.4 598.3,303.6 598.8,304.0 599.3,303.4 599.8,303.4 600.3,303.7 600.8,303.3 601.3,302.9 601.8,303.5 602.3,302.5 602.8,302.0 603.3,301.6 603.5,301.6 603.8,300.8 604.3,298.3 M607.9,298.5 608.3,300.3 608.8,301.1 608.8,301.6 609.3,302.0 609.8,302.4 610.3,302.6 610.8,303.0 611.3,303.1 611.8,303.6 612.3,303.6 612.8,304.0 613.3,304.1 613.8,304.2 614.3,303.6 614.8,303.8 615.3,303.7 615.8,303.9 616.3,304.0 616.8,304.1 617.3,304.1 617.8,303.7 618.3,303.9 618.8,304.0 619.3,303.6 619.8,303.6 620.3,303.9 620.8,303.7 621.3,304.2 621.8,303.8 622.3,303.7 622.8,303.7 623.3,303.8 623.8,303.7 624.3,304.0 624.8,303.9 625.3,303.8 625.8,304.1 626.3,303.7 626.8,304.3 627.3,304.3 627.8,304.1 628.3,303.9 628.8,303.9 629.3,303.9 629.8,303.5 630.3,303.8 630.8,303.8 631.3,303.5 631.8,303.4 632.3,303.8 632.8,303.4 633.3,303.3 633.8,303.4 634.3,302.8 634.4,302.4 634.8,302.4 635.3,300.7 635.3,300.3 635.8,298.4 M638.4,298.2 638.8,300.7 638.9,300.6 639.3,301.6 639.7,302.2 639.8,302.3 640.3,303.3 640.8,303.4 641.3,303.8 641.8,303.7 642.3,303.3 642.8,303.9 643.3,304.0 643.8,304.0 644.3,303.9 644.8,303.8 645.3,303.9 645.8,304.2 646.3,303.8 646.8,304.0 647.3,304.0 647.8,304.4 648.3,304.2 648.8,304.4 649.3,304.3 649.8,303.9 650.3,303.8 650.8,304.0 651.3,303.8 651.8,304.0 652.3,304.2 652.8,304.4 653.3,304.1 653.8,304.3 654.3,303.7 654.8,303.9 655.3,304.5 655.8,303.8 656.3,304.0 656.8,303.7 657.3,303.7 657.8,304.4 658.3,304.5 658.8,304.2 659.3,303.8 659.8,303.9 660.3,303.9 660.8,304.2 661.3,304.2 661.8,304.0 662.3,304.1 662.8,303.8 663.3,304.1 663.8,304.4 664.3,304.3 664.8,303.8 665.3,304.1 665.8,304.3 666.3,303.9 666.8,304.4 667.3,304.0 667.8,304.2 668.3,304.0 668.8,304.5 669.3,304.3 669.8,304.1 670.3,303.8 670.8,304.0 671.3,303.7 671.8,304.2 672.3,304.4 672.8,303.8 673.3,304.1 673.8,304.1 674.3,304.0 674.8,304.3 675.3,304.4 675.8,304.2 676.3,304.1 676.8,304.5 677.3,303.9 677.8,304.3 678.3,304.2 678.8,304.3 679.3,304.4 679.8,303.9 680.3,304.2 680.8,304.0 681.3,304.2 681.8,304.5 682.3,304.2 682.8,303.7 683.3,304.1 683.8,304.3 684.3,304.4 684.8,304.2 685.3,304.3 685.8,303.7 686.3,304.4 686.8,304.3 687.3,304.2 687.8,304.4 688.3,304.4 688.8,303.8 689.3,304.3 689.8,304.3 690.3,303.8 690.8,304.3 691.3,304.2 691.8,303.8 692.3,304.3 692.8,303.8 693.3,304.2 693.8,304.0 694.3,303.9 694.8,304.1 695.3,304.1 695.8,303.9 696.3,304.5 696.8,303.7 697.3,303.7 697.8,304.1 698.3,304.4 698.8,304.2 699.3,304.3 699.8,304.1 700.3,304.2 700.8,304.0 701.3,303.9 701.8,304.1 702.3,303.7 702.8,303.7 703.3,304.3 703.8,303.8 704.3,304.3 704.8,304.3 705.3,304.0 705.8,304.2 706.3,304.3 706.8,304.4 707.3,303.8 707.8,303.8 708.3,304.0 708.8,304.1 709.3,303.9 709.8,303.7 710.3,304.1 710.8,304.5 711.3,304.0 711.8,304.1 712.3,304.0 712.8,304.0 713.3,304.4 713.8,303.9 714.3,304.2 714.8,304.1 715.3,304.1 715.8,304.4 716.3,303.7 716.8,304.3 717.3,303.9 717.8,304.2 718.3,304.3 718.8,304.2 719.3,304.0 719.8,304.3 720.3,303.7 720.8,304.2 721.3,304.0 721.8,304.1 722.3,304.3 722.8,304.3 723.3,304.1 723.8,303.9 724.3,303.8 724.8,304.0 725.3,303.8 725.8,303.8 726.3,304.3 726.8,303.6 727.3,304.2 727.8,303.8 728.3,303.8 728.8,303.7 729.3,303.5 729.8,303.7 730.3,303.4 730.8,303.5 731.3,303.2 731.8,303.5 732.3,303.2 732.4,302.7 732.8,302.4 733.3,301.5 733.8,298.7 M736.4,299.2 736.8,301.3 736.8,301.5 737.3,302.4 737.7,303.1 737.8,302.6 738.3,303.3 738.8,303.5 739.3,303.4 739.8,303.6 740.3,303.5 740.8,304.2 741.3,303.7 741.8,303.9 742.3,304.2 742.8,303.7 743.3,304.3 743.8,303.7 744.3,303.6 744.8,303.9 745.3,303.9 745.8,304.3 746.3,304.3 746.8,304.2 747.3,304.0 747.8,304.1 748.3,303.8 748.8,304.3 749.3,304.0 749.8,303.9 750.3,304.2 750.8,303.8 751.3,303.9 751.8,304.4 752.3,303.7 752.8,303.8 753.3,303.8 753.8,303.9 754.3,304.0 754.8,303.9 755.3,303.9 755.8,303.9 756.3,303.9 756.8,304.2 757.3,303.9 757.8,304.0 758.3,304.3 758.8,303.7 759.3,303.8 759.8,304.4 760.3,304.0 760.8,304.3 761.3,303.8 761.8,304.1 762.3,304.4 762.8,303.9 763.3,304.3 763.8,304.2 764.3,304.0 764.8,304.5 765.3,304.0 765.8,304.1 766.3,304.2 766.8,303.9 767.3,304.3 767.8,304.2 768.3,304.1 768.8,304.1 769.3,304.5 769.8,304.5 770.3,304.3 770.8,304.0 771.3,304.0 771.8,304.1 772.3,303.7 772.8,303.8 773.3,304.5 773.8,303.8 774.3,304.4 774.8,304.2 775.3,304.4 775.8,303.7 776.3,303.9 776.8,304.3 777.3,303.7 777.8,303.7 778.3,303.9 778.8,303.8 779.3,303.8 779.8,304.2 780.3,303.7 780.8,304.4 781.3,304.2 781.8,303.7 782.3,304.4 782.8,303.8 783.3,304.0 783.8,304.1 784.3,303.7 784.8,304.0 785.3,303.6 785.8,303.7 786.3,304.3 786.8,304.2 787.3,304.0 787.8,304.1 788.3,304.2 788.8,303.6 789.3,303.8 789.8,303.5 790.3,303.4 790.8,303.3 791.3,303.2 791.8,302.9 792.3,302.8 792.7,302.6 792.8,302.6 793.3,302.0 793.6,301.3 793.8,300.3 M796.8,299.8 797.1,301.1 797.3,301.7 797.8,302.1 798.0,302.7 798.3,302.7 798.8,303.0 799.3,303.5 799.8,303.7 800.3,303.8 800.8,303.9 801.3,304.0 801.8,303.8 802.3,303.5 802.8,304.1 803.3,304.2 803.8,304.2 804.3,304.0 804.8,303.6 805.3,303.7 805.8,303.7 806.3,304.1 806.8,304.0 807.3,303.7 807.8,304.3 808.3,304.4 808.8,304.3 809.3,303.9 809.8,303.8 810.3,303.7 810.8,304.1 811.2,304.0 811.3,303.6 811.8,304.0 812.1,303.6 812.3,303.4 812.6,303.1 812.8,303.0 813.1,301.6 813.3,299.7 M814.7,298.8 814.8,300.4 815.0,301.7 815.3,302.9 815.5,303.0 815.8,303.4 815.9,303.3 816.3,303.4 816.8,303.8 816.9,303.6 817.3,303.9 817.8,304.0 818.3,303.8 818.8,303.7 819.3,304.1 819.8,304.3 820.3,303.8 820.8,304.1 821.3,304.2 821.8,304.4 822.3,304.2 822.8,303.9 823.3,303.8 823.8,304.3 824.3,303.9 824.8,303.7 825.3,304.4 825.8,303.8 826.3,303.9 826.8,303.9 827.3,303.9 827.8,304.3 828.3,304.0 828.8,304.0 829.3,304.0 829.8,304.3 830.3,303.7 830.8,304.1 831.3,303.8 831.8,303.8 832.3,304.2 832.8,304.0 833.3,303.7 833.8,304.2 834.3,304.4 834.8,304.2 835.3,304.1 835.8,304.3 836.3,304.4 836.8,303.8 837.3,303.9 837.8,304.5 838.3,304.4 838.8,303.8 839.3,304.3 839.8,304.4 840.3,304.2 840.8,304.2 841.3,304.1 841.8,303.9 842.3,303.9 842.8,303.7 843.3,304.2 843.8,303.8 844.3,304.2 844.8,304.0 845.3,304.0 845.8,304.5 846.3,304.0 846.8,304.1 847.3,304.0 847.8,303.9 848.3,303.9 848.8,304.1 849.3,304.3 849.8,303.8 850.3,304.4 850.8,304.2 851.3,303.7 851.8,304.3 852.3,304.0 852.8,304.1 853.3,303.8 853.8,304.1 854.3,304.1 854.8,304.3 855.3,304.2 855.8,304.3 856.3,304.3 856.8,303.9 857.3,303.7 857.8,304.1 858.3,303.8 858.8,303.8 859.3,303.9 859.8,304.1 860.3,304.2 860.8,304.2 861.3,304.4 861.8,303.8 862.3,304.1 862.8,303.8 863.3,304.2 863.8,304.0 864.3,303.8 864.8,303.9 865.3,304.2 865.8,304.1 866.3,304.4 866.8,304.0 867.3,304.0 867.8,304.4 868.3,304.2 868.8,303.8 869.3,304.3 869.8,304.0 870.3,304.4 870.8,304.2 871.3,304.3 871.8,304.4 872.3,304.1 872.8,304.4 873.3,303.7 873.8,303.9 874.3,304.3 874.8,303.7 875.3,304.2 875.8,304.4 876.3,304.2 876.8,304.3 877.3,303.7 877.8,304.0 878.3,304.1 878.8,303.9 879.3,303.9 879.8,304.1 880.3,303.6 880.8,303.4 881.3,303.8 881.8,303.9 882.2,303.5 882.3,303.3 882.7,302.4 882.8,302.7 883.2,299.7 M885.1,299.7 885.3,301.6 885.6,302.5 885.8,302.8 886.1,303.5 886.3,303.1 886.8,303.6 887.0,303.6 887.3,303.6 887.8,304.2 888.3,304.0 888.8,303.9 889.3,303.9 889.8,303.9 890.3,304.4 890.8,304.3 891.3,304.1 891.8,303.8 892.3,304.1 892.8,303.8 893.3,303.9 893.8,303.7 894.3,304.2 894.8,304.4 895.3,304.2 895.8,304.1 896.3,303.9 896.8,304.0 897.3,304.0 897.8,304.0 898.3,303.9 898.8,303.9 899.3,304.3 899.8,304.4 900.3,304.3 900.8,304.2 901.3,303.7 901.8,303.9 902.3,304.4 902.8,304.5 903.3,304.1 903.8,304.1 904.3,304.2 904.8,303.9 905.3,304.3 905.8,304.0 906.3,304.4 906.8,304.1 907.3,304.2 907.8,304.1 908.3,304.1 908.8,304.1 909.3,304.4 909.8,304.3 910.3,304.0 910.8,304.1 911.3,304.4 911.8,304.3 912.3,304.2 912.8,304.5 913.3,303.8 913.8,304.2 914.3,304.2 914.8,304.0 915.3,304.5 915.8,304.5 916.3,304.0 916.8,304.2 917.3,304.3 917.8,304.2 918.3,304.0 918.8,304.3 919.3,304.0 919.8,303.8 920.3,304.2 920.8,304.2 921.3,304.0 921.8,304.1 922.3,304.5 922.8,304.3 923.3,304.0 923.8,304.4 924.3,304.1 924.8,304.0 925.3,304.2 925.8,304.3 926.3,304.3 926.8,304.2 927.3,304.1 927.8,303.9 928.3,303.6 928.8,303.9 929.3,303.6 929.8,304.2 930.3,303.7 930.7,303.8 930.8,303.9 931.3,303.3 931.7,303.5 931.8,303.1 932.2,302.3 932.3,302.6 932.7,300.3 932.8,300.1 M934.5,295.8 934.8,300.2 934.8,300.7 935.3,302.4 935.3,302.5 935.8,303.5 935.8,303.3 936.3,303.7 936.8,303.7 936.8,303.5 937.3,303.8 937.8,303.9 938.3,303.7 938.8,304.2 939.3,304.3 939.8,303.7 940.3,303.8 940.8,304.2 941.3,304.2 941.8,303.8 942.3,304.1 942.8,303.8 943.3,304.3 943.8,304.1 944.3,304.0 944.8,303.7 945.3,303.9 945.8,303.9 946.3,303.7 946.8,303.5 947.3,303.4 947.8,303.6 947.8,303.8 948.3,303.3 948.3,303.1 948.8,301.8 948.8,301.0 949.1,297.4 M950.6,297.6 950.8,300.3 950.9,301.6 951.3,302.6 951.4,303.2 951.8,303.7 951.9,303.4 952.3,304.0 952.8,303.4 952.9,303.5 953.3,303.8 953.8,303.6 954.3,304.2 954.8,304.0 955.3,304.2" fill="none" stroke="#2020ff" stroke-width="1.6" stroke-linejoin="round" stroke-opacity="0.85"/><path d="M603.8,300.8 604.3,298.3 604.3,298.3 604.8,293.8 604.8,293.8 605.2,278.6 605.3,271.7 605.5,247.1 605.7,207.0 605.8,170.6 605.8,167.6 605.9,134.5 606.0,116.5 606.1,110.0 606.2,116.2 606.3,133.7 606.3,139.0 606.4,170.0 606.5,206.0 606.7,246.5 606.8,259.2 607.0,278.3 607.3,291.6 607.4,294.6 607.8,297.7 607.9,298.5 608.3,300.3 M635.3,300.3 635.8,298.4 635.8,297.6 636.2,289.1 636.3,284.4 636.5,270.2 636.6,247.5 636.8,224.9 636.8,221.4 636.9,204.1 637.0,193.6 637.1,190.4 637.2,193.3 637.3,203.5 637.3,209.5 637.4,226.5 637.5,247.2 637.7,269.9 637.8,278.8 638.0,289.2 638.3,297.0 638.4,298.2 638.8,300.7 M733.3,301.5 733.8,298.7 733.8,298.1 734.2,290.4 734.3,285.1 734.5,274.2 734.6,253.0 734.8,233.9 734.8,228.2 734.9,215.1 735.0,206.2 735.1,202.6 735.2,205.9 735.2,215.5 735.3,221.9 735.4,234.2 735.5,253.4 735.7,274.0 735.8,283.0 736.0,291.0 736.3,298.2 736.4,299.2 736.8,301.3 M793.6,301.3 793.8,300.3 794.0,298.7 794.3,295.3 794.5,289.9 794.7,272.7 794.8,264.7 794.9,251.5 795.0,231.3 795.2,210.7 795.2,202.2 795.3,199.3 795.3,198.5 795.4,202.0 795.5,211.8 795.6,231.2 795.8,250.9 795.8,253.6 796.0,272.5 796.2,290.6 796.3,293.2 796.7,298.5 796.8,299.8 797.1,301.1 M813.1,301.6 813.3,299.7 813.4,298.4 813.5,295.2 813.7,291.3 813.8,289.3 813.8,287.9 813.9,286.5 814.0,286.0 814.1,286.5 814.2,288.2 814.3,290.4 814.4,291.3 814.5,295.2 814.7,298.8 814.8,300.4 M882.8,302.7 883.2,299.7 883.3,298.6 883.5,295.1 883.7,288.9 883.8,283.6 883.8,283.1 884.0,276.8 884.1,274.3 884.1,273.0 884.2,274.1 884.3,275.4 884.3,276.5 884.5,282.9 884.6,288.8 884.8,294.3 884.8,295.1 885.1,299.7 885.3,301.6 M932.7,300.3 932.8,300.1 933.0,295.7 933.2,289.6 933.3,287.8 933.4,284.3 933.5,279.5 933.6,277.2 933.8,275.6 933.8,276.0 933.9,276.9 934.0,279.7 934.1,284.9 934.3,290.5 934.3,291.3 934.5,295.8 934.8,300.2 M948.8,301.0 949.1,297.4 949.3,294.8 949.4,293.0 949.5,289.1 949.7,285.4 949.8,283.1 949.8,282.7 949.9,282.6 950.0,283.6 950.1,284.8 950.2,289.7 950.3,291.4 950.4,293.5 950.6,297.6 950.8,300.3" fill="none" stroke="#2020ff" stroke-width="1.35" stroke-linejoin="round" stroke-opacity="0.85"/></g>
<rect x="547.8" y="32.2" width="407.7" height="291.1" fill="none" stroke="#3a3a3a" stroke-width="1.5"/>
<line x1="615.75" y1="323.30" x2="615.75" y2="320.10" stroke="#3a3a3a" stroke-width="1.2" />
<line x1="683.70" y1="323.30" x2="683.70" y2="316.80" stroke="#3a3a3a" stroke-width="1.2" />
<line x1="751.65" y1="323.30" x2="751.65" y2="320.10" stroke="#3a3a3a" stroke-width="1.2" />
<line x1="819.60" y1="323.30" x2="819.60" y2="316.80" stroke="#3a3a3a" stroke-width="1.2" />
<line x1="887.55" y1="323.30" x2="887.55" y2="320.10" stroke="#3a3a3a" stroke-width="1.2" />
<line x1="657.60" y1="47.80" x2="707.00" y2="47.80" stroke="#f26d6d" stroke-width="2.0" />
<line x1="657.60" y1="81.50" x2="707.00" y2="81.50" stroke="#6d6df2" stroke-width="2.0" />
<g clip-path="url(#cd)"><path d="M1013.5,188.6 1013.8,188.6 1014.1,190.5 1014.4,189.1 1014.7,190.1 1015.0,189.1 1015.3,189.6 1015.6,188.3 1015.9,189.5 1016.2,190.1 1016.5,189.2 1016.8,189.8 1017.1,189.6 1017.4,188.0 1017.7,189.8 1018.0,189.4 1018.3,188.6 1018.6,187.9 1018.9,190.1 1019.2,189.0 1019.5,189.7 1019.8,190.1 1020.1,189.7 1020.4,190.2 1020.7,188.8 1021.0,189.9 1021.3,188.9 1021.6,190.2 1021.9,190.1 1022.2,188.0 1022.5,188.1 1022.8,188.3 1023.1,190.3 1023.4,188.9 1023.7,189.4 1024.0,188.5 1024.3,189.1 1024.6,188.8 1024.9,188.7 1025.2,189.3 1025.5,189.3 1025.8,190.1 1026.1,189.5 1026.4,190.1 1026.7,189.9 1027.0,190.3 1027.3,189.5 1027.6,188.1 1027.9,189.9 1028.2,190.2 1028.5,190.0 1028.8,189.1 1029.1,189.5 1029.4,188.2 1029.7,189.8 1030.0,189.1 1030.3,188.3 1030.6,187.8 1030.9,189.8 1031.2,190.1 1031.5,187.8 1031.8,189.6 1032.1,188.6 1032.4,187.9 1032.7,188.2 1033.0,189.4 1033.3,189.6 1033.6,187.4 1033.9,188.9 1034.2,187.4 1034.5,189.1 1034.8,188.0 1035.1,189.4 1035.4,189.6 1035.7,188.2 1036.0,189.4 1036.3,187.6 1036.6,186.8 1036.9,188.1 1037.2,186.5 1037.5,186.8 1037.8,187.1 1038.1,187.5 1038.4,186.1 1038.7,185.6 1038.7,187.7 1039.0,186.0 1039.3,187.4 1039.6,186.9 1039.9,185.2 1040.2,185.0 1040.5,184.7 1040.8,184.5 1041.1,183.8 1041.4,183.1 1041.7,182.6 M1055.8,183.4 1056.1,182.3 1056.4,183.2 1056.7,185.1 1057.0,185.2 1057.3,186.0 1057.6,185.2 1057.9,185.0 1058.2,185.8 1058.5,187.4 1058.7,186.3 1058.8,186.5 1059.1,186.9 1059.4,187.1 1059.7,187.3 1060.0,188.8 1060.3,187.0 1060.6,186.7 1060.9,189.3 1061.2,189.3 1061.5,189.6 1061.8,188.3 1062.1,189.7 1062.4,189.8 1062.7,188.0 1063.0,189.5 1063.3,189.8 1063.6,189.4 1063.9,189.1 1064.2,188.5 1064.5,188.7 1064.8,188.5 1065.1,188.1 1065.4,189.5 1065.7,188.8 1066.0,190.2 1066.3,188.2 1066.6,190.5 1066.9,190.0 1067.2,190.6 1067.5,190.6 1067.8,190.6 1068.1,189.8 1068.4,188.4 1068.7,190.3 1069.0,188.8 1069.3,189.2 1069.6,190.2 1069.9,189.8 1070.2,189.6 1070.5,191.0 1070.8,190.1 1071.1,189.4 1071.4,189.2 1071.7,190.8 1072.0,189.8 1072.3,190.6 1072.6,189.5 1072.9,189.1 1073.2,190.0 1073.5,190.8 1073.8,189.1 1074.1,190.7 1074.4,191.1 1074.7,190.8 1075.0,190.8 1075.3,188.7 1075.6,190.3 1075.9,190.9 1076.2,188.8 1076.5,189.4 1076.8,189.4 1077.1,190.0 1077.4,189.8 1077.7,189.9 1078.0,190.7 1078.3,188.6 1078.6,188.8 1078.9,188.9 1079.2,188.9 1079.5,188.8 1079.8,191.1 1080.1,190.8 1080.4,188.8 1080.7,189.8 1081.0,189.3 1081.3,189.3 1081.6,189.4 1081.9,190.1 1082.2,190.0 1082.5,189.4 1082.8,188.9 1083.1,189.2 1083.4,188.7 1083.7,189.8 1084.0,190.2 1084.3,189.3 1084.6,188.5 1084.9,188.7 1085.2,189.2 1085.5,189.8 1085.8,190.2 1086.1,189.2 1086.4,190.2 1086.7,189.7 1087.0,189.2 1087.3,189.1 1087.6,189.4 1087.9,189.9 1088.2,189.1 1088.5,189.8 1088.8,189.2 1089.1,188.6 1089.4,189.3 1089.7,189.7 1090.0,188.1 1090.3,189.0 1090.6,189.0 1090.9,190.1 1091.2,190.3 1091.5,188.8 1091.8,190.1 1092.1,189.8 1092.4,188.5 1092.7,189.0 1093.0,188.1 1093.3,189.8 1093.6,189.4 1093.9,190.0 1094.2,189.8 1094.5,189.4 1094.8,189.6 1095.1,189.1 1095.4,187.9 1095.7,189.2 1096.0,187.7 1096.3,188.0 1096.6,189.7 1096.9,187.8 1097.2,187.9 1097.5,187.9 1097.8,189.9 1098.1,188.1 1098.4,187.7 1098.7,189.8 1099.0,187.9 1099.3,189.8 1099.6,189.4 1099.9,189.8 1100.2,190.1 1100.5,189.2 1100.8,189.7 1101.1,187.8 1101.4,189.7 1101.7,189.0 1102.0,189.5 1102.3,188.0 1102.6,189.6 1102.9,190.1 1103.2,187.9 1103.5,188.6 1103.8,189.2 1104.1,189.9 1104.4,188.4 1104.7,188.2 1105.0,188.4 1105.3,189.4 1105.6,189.7 1105.9,188.8 1106.2,188.8 1106.5,188.8 1106.8,188.7 1107.1,188.9 1107.4,188.1 1107.7,189.2 1108.0,190.4 1108.3,189.0 1108.6,189.8 1108.9,188.3 1109.2,189.7 1109.5,189.9 1109.8,189.7 1110.1,189.3 1110.4,189.2 1110.7,189.6 1111.0,190.3 1111.3,188.3 1111.6,188.2 1111.9,189.9 1112.2,190.4 1112.5,189.3 1112.8,189.1 1113.1,189.9 1113.4,188.5 1113.7,188.7 1114.0,188.5 1114.3,189.5 1114.6,188.8 1114.9,188.6 1115.2,189.8 1115.5,190.5 1115.8,188.7 1116.1,189.8 1116.4,189.0 1116.7,190.2 1117.0,189.5 1117.3,188.6 1117.6,188.5 1117.9,188.0 1118.2,189.1 1118.5,188.9 1118.8,188.3 1119.1,188.8 1119.2,188.7 1119.4,189.8 1119.7,188.1 1120.0,190.3 1120.3,189.0 1120.6,189.2 1120.9,188.8 1121.2,189.7 1121.5,189.6 1121.6,188.9 1121.8,188.7 1122.1,189.2 1122.4,189.5 1122.7,188.2 1122.8,189.0 1123.0,189.5 1123.3,188.0 1123.6,187.1 1123.9,186.7 1124.0,187.7 1124.1,187.5 1124.2,187.9 1124.5,186.7 1124.7,184.2 M1139.2,184.5 1139.4,185.2 1139.4,187.1 1139.5,187.1 1139.8,186.4 1140.1,186.8 1140.4,187.7 1140.6,188.7 1140.7,188.9 1141.0,188.9 1141.3,188.6 1141.6,187.6 1141.8,188.3 1141.9,187.8 1142.2,188.8 1142.5,188.9 1142.8,188.0 1143.1,188.2 1143.4,189.6 1143.7,187.7 1144.0,189.8 1144.2,190.0 1144.3,190.2 1144.6,188.7 1144.9,189.2 1145.2,189.3 1145.5,189.5 1145.8,190.4 1146.1,189.6 1146.4,188.6 1146.7,190.1 1147.0,189.1 1147.3,189.5 1147.6,189.8 1147.9,187.9 1148.2,189.9 1148.5,189.6 1148.8,189.2 1149.1,189.3 1149.4,189.1 1149.7,188.4 1150.0,189.3 1150.3,188.0 1150.6,189.2 1150.9,189.6 1151.2,189.0 1151.5,189.4 1151.8,190.4 1152.1,190.2 1152.4,188.2 1152.7,189.9 1153.0,189.5 1153.3,188.0 1153.6,188.8 1153.9,188.4 1154.2,188.0 1154.5,189.2 1154.8,190.2 1155.1,188.6 1155.4,190.0 1155.7,189.6 1156.0,188.1 1156.3,190.0 1156.6,189.3 1156.9,190.1 1157.2,189.5 1157.5,189.6 1157.8,188.5 1158.1,189.7 1158.3,190.0 1158.4,189.9 1158.7,188.7 1159.0,189.6 1159.3,188.8 1159.6,187.8 1159.9,187.6 1160.2,187.7 1160.5,188.0 1160.8,187.9 1161.1,188.7 1161.4,189.2 1161.7,188.8 1162.0,188.5 1162.3,189.0 1162.3,188.1 1162.6,188.5 1162.9,189.2 1163.2,188.3 1163.5,187.7 1163.8,189.5 1164.1,189.0 1164.3,188.0 1164.4,188.0 1164.7,188.3 1165.0,188.4 1165.3,187.3 1165.6,186.6 1165.9,186.9 1166.2,188.2 1166.3,186.4 1166.5,187.0 1166.8,185.9 1167.1,185.3 1167.4,184.6 1167.5,185.0 1167.7,183.7 M1172.8,184.8 1173.0,186.6 1173.1,185.2 1173.4,185.7 1173.7,186.3 1174.0,188.2 1174.2,188.0 1174.3,187.3 1174.6,187.0 1174.9,188.7 1175.2,189.6 1175.5,188.8 1175.8,187.4 1176.1,187.5 1176.2,187.7 1176.4,188.0 1176.7,187.7 1177.0,187.8 1177.3,189.4 1177.6,190.1 1177.9,188.4 1178.2,190.4 1178.2,189.1 1178.5,190.0 1178.8,190.3 1179.1,190.4 1179.4,188.1 1179.7,188.9 1180.0,189.7 1180.3,190.6 1180.6,188.4 1180.9,188.9 1181.2,190.4 1181.5,188.5 1181.8,189.2 1182.1,189.1 1182.2,190.0 1182.4,190.7 1182.7,188.7 1183.0,190.2 1183.3,190.2 1183.6,190.5 1183.9,189.8 1184.2,190.7 1184.5,189.3 1184.8,189.4 1185.1,188.9 1185.4,190.4 1185.7,189.6 1186.0,189.0 1186.3,188.8 1186.6,190.2 1186.9,189.9 1187.2,190.1 1187.5,189.3 1187.8,189.5 1188.1,188.6 1188.4,190.1 1188.7,188.3 1189.0,189.4 1189.3,190.1 1189.6,189.9 1189.9,188.3 1190.2,188.6 1190.5,190.2 1190.8,189.6 1191.1,190.1 1191.4,190.1 1191.7,188.9 1191.9,190.0 1192.0,189.5 1192.3,188.4 1192.6,188.4 1192.9,187.5 1193.2,188.2 1193.5,189.5 1193.8,187.1 1194.1,188.2 1194.4,186.7 1194.5,186.5 1194.7,187.9 1195.0,186.5 1195.3,185.6 1195.6,185.5 1195.8,186.3 M1203.7,184.5 1204.0,185.6 1204.3,186.4 1204.6,185.7 1204.9,187.2 1205.1,187.8 1205.2,187.1 1205.5,187.9 1205.8,188.0 1206.1,187.1 1206.4,187.6 1206.7,189.4 1207.0,187.8 1207.3,188.1 1207.6,187.3 1207.7,187.7 1207.9,187.6 1208.2,189.6 1208.5,189.2 1208.8,189.6 1209.1,189.9 1209.4,189.0 1209.7,189.9 1210.0,188.9 1210.3,188.6 1210.6,190.0 1210.9,190.0 1211.2,190.1 1211.5,188.9 1211.8,189.7 1212.1,188.8 1212.4,190.3 1212.7,190.2 1213.0,188.5 1213.3,190.2 1213.6,188.3 1213.9,188.1 1214.2,189.7 1214.5,188.6 1214.8,189.2 1215.1,189.6 1215.4,188.0 1215.7,189.9 1216.0,188.7 1216.3,189.1 1216.6,188.9 1216.9,189.9 1217.2,190.0 1217.5,188.8 1217.8,188.3 1218.1,188.8 1218.4,189.1 1218.7,188.3 1219.0,188.5 1219.3,190.1 1219.6,189.9 1219.9,190.6 1220.2,190.7 1220.5,190.4 1220.8,189.1 1221.1,188.5 1221.4,188.9 1221.7,189.3 1222.0,189.5 1222.3,189.5 1222.6,189.1 1222.9,190.3 1223.2,188.9 1223.5,189.3 1223.8,190.4 1224.1,190.2 1224.4,188.9 1224.7,188.7 1225.0,190.2 1225.3,188.1 1225.6,188.4 1225.9,189.4 1226.2,189.4 1226.5,188.4 1226.8,188.1 1227.1,188.5 1227.4,189.9 1227.7,189.1 1228.0,190.4 1228.3,189.9 1228.6,190.4 1228.9,187.9 1229.2,188.2 1229.5,187.7 1229.8,188.8 1230.0,188.5 1230.1,187.8 1230.4,189.0 1230.7,187.8 1231.0,188.3 1231.3,188.0 1231.6,189.4 1231.9,188.3 1232.2,187.8 1232.5,187.1 1232.8,188.0 1232.9,188.5 1233.1,188.5 1233.4,189.0 1233.7,188.5 1234.0,186.8 1234.3,186.3 1234.3,187.8 1234.6,187.6 1234.9,186.5 1235.2,186.7 1235.5,185.1 M1249.9,183.5 1250.2,184.8 1250.5,187.3 1250.8,185.6 1250.9,187.7 1251.1,186.0 1251.4,188.4 1251.7,187.8 1252.0,187.9 1252.3,186.7 1252.4,186.5 1252.6,188.5 1252.9,187.1 1253.2,187.2 1253.5,189.0 1253.8,189.2 1254.1,187.1 1254.4,189.6 1254.7,188.5 1255.0,188.2 1255.2,187.5 1255.3,188.3 1255.6,189.9 1255.9,188.1 1256.2,187.8 1256.5,187.8 1256.8,187.8 1257.1,188.4 1257.4,189.9 1257.7,187.8 1258.0,188.1 1258.3,190.1 1258.6,190.3 1258.9,190.3 1259.2,188.4 1259.5,188.7 1259.8,190.2 1260.1,189.1 1260.4,189.6 1260.7,188.6 1261.0,187.9 1261.3,188.8 1261.6,189.8 1261.9,189.9 1262.2,189.4 1262.5,189.1 1262.8,189.3 1263.1,189.1 1263.4,189.3 1263.7,190.1 1264.0,188.5 1264.3,189.5 1264.6,190.4 1264.9,190.2 1265.2,188.5 1265.5,190.5 1265.8,190.2 1266.1,188.4 1266.4,188.7 1266.7,188.5 1267.0,188.2 1267.3,190.6 1267.6,189.1 1267.9,190.3 1268.2,188.3 1268.5,188.1 1268.8,190.3 1269.1,190.1 1269.4,190.6 1269.7,189.8 1270.0,189.4 1270.3,190.0 1270.6,188.3 1270.9,189.4 1271.2,189.2 1271.5,188.4 1271.8,189.6 1272.1,188.8 1272.4,189.3 1272.7,189.0 1273.0,188.8 1273.3,188.9 1273.6,189.6 1273.9,190.5 1274.2,190.4 1274.5,190.2 1274.8,190.2 1275.1,188.7 1275.4,190.5 1275.7,188.7 1276.0,188.3 1276.3,189.3 1276.6,189.9 1276.9,188.9 1277.2,189.6 1277.5,188.7 1277.8,190.5 1278.1,189.1 1278.4,189.2 1278.7,189.3 1279.0,190.2 1279.3,190.5 1279.6,189.3 1279.9,189.1 1280.2,189.5 1280.5,188.1 1280.8,189.0 1281.1,190.1 1281.4,190.0 1281.7,188.1 1282.0,190.2 1282.3,188.9 1282.6,190.5 1282.9,188.9 1283.2,188.5 1283.5,189.3 1283.8,190.2 1284.1,189.0 1284.4,190.1 1284.7,189.7 1285.0,188.8 1285.3,188.6 1285.6,189.2 1285.9,188.9 1285.9,188.8 1286.2,189.5 1286.5,190.1 1286.8,189.3 1287.1,188.1 1287.4,188.3 1287.7,188.7 1287.9,189.3 1288.0,188.0 1288.3,187.8 1288.3,188.5 1288.6,188.3 1288.9,187.6 1289.2,188.9 1289.5,189.8 1289.5,188.7 1289.8,189.2 1290.1,189.3 1290.4,189.1 1290.7,189.0 1290.7,187.7 1291.0,187.9 1291.1,186.3 1291.3,187.7 1291.4,186.1 1291.6,185.8 1291.9,185.7 M1303.0,184.1 1303.3,186.2 1303.4,186.3 1303.6,187.9 1303.8,188.3 1303.9,186.4 1304.1,187.6 1304.2,187.6 1304.5,187.4 1304.8,187.7 1305.1,187.9 1305.3,189.1 1305.4,188.2 1305.7,187.6 1306.0,188.0 1306.3,188.6 1306.5,189.0 1306.6,188.1 1306.9,189.4 1307.0,188.1 1307.2,189.3 1307.5,189.2 1307.8,188.1 1308.1,189.6 1308.4,188.7 1308.7,189.1 1308.9,189.2 1309.0,189.3 1309.3,188.8 1309.6,187.8 1309.9,189.7 1310.2,189.9 1310.5,189.0 1310.8,189.2 1311.1,188.4 1311.4,190.0 1311.7,189.5 1312.0,188.3 1312.3,189.8 1312.6,190.3 1312.9,188.6 1313.2,190.3 1313.5,189.0 1313.8,188.2 1314.1,189.6 1314.4,188.6 1314.7,189.6 1315.0,189.2 1315.3,188.0 1315.6,189.1 1315.9,190.0 1316.2,189.0 1316.5,189.2 1316.8,190.0 1317.1,188.9 1317.4,189.1 1317.7,189.3 1318.0,189.9 1318.3,188.3 1318.6,188.1 1318.9,189.8 1319.2,189.3 1319.5,188.6 1319.8,190.2 1320.1,190.2 1320.4,189.3 1320.7,190.5 1321.0,190.1 1321.3,189.9 1321.6,188.7 1321.9,188.0 1322.2,189.7 1322.5,189.9 1322.8,188.9 1323.1,189.3 1323.4,189.5 1323.7,188.7 1324.0,189.9 1324.3,189.6 1324.6,189.1 1324.9,188.4 1325.2,189.6 1325.5,189.0 1325.8,190.1 1326.1,188.6 1326.4,189.2 1326.7,188.7 1327.0,189.3 1327.3,189.8 1327.6,188.5 1327.9,188.4 1328.0,189.5 1328.2,188.8 1328.5,189.6 1328.8,188.8 1329.1,188.6 1329.4,189.7 1329.7,190.7 1330.0,190.6 1330.3,189.7 1330.6,189.4 1330.9,188.5 1331.2,189.0 1331.2,189.1 1331.5,190.8 1331.8,188.6 1332.1,190.7 1332.4,189.5 1332.7,189.3 1332.8,188.8 1333.0,190.6 1333.3,188.5 1333.6,189.4 1333.9,189.1 1334.2,188.1 1334.4,187.9 1334.5,189.8 1334.8,188.9 1335.1,188.1 1335.4,187.9 1335.4,185.7 1335.7,186.3 M1339.6,185.1 1339.8,187.1 1339.9,186.1 1340.2,188.2 1340.5,188.1 1340.8,189.6 1341.1,189.6 1341.2,189.4 1341.4,188.5 1341.7,187.8 1342.0,189.2 1342.3,189.7 1342.4,190.2 1342.6,188.3 1342.8,188.1 1342.9,190.3 1343.2,189.6 1343.5,188.8 1343.8,189.3 1344.0,187.6 1344.1,188.5 1344.4,188.5 1344.4,188.3 1344.7,186.6 1345.0,185.9 1345.3,186.2 M1349.8,184.9 1350.1,186.4 1350.4,188.0 1350.7,187.3 1350.8,187.1 1351.0,187.9 1351.3,187.3 1351.6,188.1 1351.9,188.9 1352.2,188.9 1352.4,189.1 1352.5,188.3 1352.8,187.7 1353.1,187.8 1353.4,188.6 1353.7,188.3 1354.0,189.2 1354.0,188.5 1354.3,189.8 1354.6,189.4 1354.9,189.5 1355.2,189.7 1355.5,189.2 1355.8,188.9 1356.1,188.6 1356.4,188.0 1356.7,189.9 1357.0,189.1 1357.1,188.1 1357.3,190.2 1357.6,189.3 1357.9,189.4 1358.2,189.0 1358.5,188.1 1358.8,190.4 1359.1,188.2 1359.4,188.7 1359.7,190.4 1360.0,188.1 1360.3,189.1 1360.6,189.0 1360.9,188.4 1361.2,190.2 1361.5,188.8 1361.8,187.8 1362.1,189.0 1362.4,187.8 1362.7,189.6 1363.0,190.0 1363.3,190.1 1363.6,187.9 1363.9,189.5 1364.2,188.5 1364.5,189.0 1364.8,188.5 1365.1,188.5 1365.4,188.1 1365.7,189.3 1366.0,187.9 1366.3,190.2 1366.6,187.8 1366.9,190.2 1367.2,188.2 1367.5,187.9 1367.8,189.6 1368.1,189.1 1368.4,189.7 1368.7,189.0 1369.0,189.3 1369.1,187.9 1369.3,189.4 1369.6,189.0 1369.9,190.1 1370.2,187.6 1370.5,187.8 1370.8,189.3 1371.1,190.0 1371.4,188.6 1371.7,189.3 1372.0,188.9 1372.3,188.4 1372.4,188.6 1372.6,189.0 1372.9,187.4 1373.2,188.1 1373.5,189.1 1373.8,187.8 1374.1,188.3 1374.4,187.6 1374.7,187.7 1375.0,188.3 1375.3,188.2 1375.6,188.4 1375.8,186.9 1375.9,186.0 1376.2,185.6 1376.5,184.0 M1381.8,185.0 1381.9,184.6 1382.2,185.8 1382.5,186.9 1382.5,187.1 1382.8,187.9 1383.0,186.1 1383.1,187.9 1383.4,187.5 1383.7,186.9 1383.8,187.5 1384.0,184.8 1384.1,186.1 1384.2,186.1 M1386.4,184.1 1386.6,184.3 1386.7,186.9 1387.0,186.2 1387.1,186.7 1387.3,188.6 1387.6,187.3 1387.8,187.0 1387.9,189.2 1388.2,187.8 1388.5,187.9 1388.8,189.8 1389.0,188.0 1389.1,189.8 1389.2,188.3 1389.4,188.3 1389.7,188.1 1390.0,189.0 1390.2,189.1 1390.3,188.7 1390.6,189.0 1390.9,188.5 1391.2,189.9 1391.5,190.2 1391.8,189.8 1392.1,190.0 1392.4,188.0 1392.6,188.5 1392.7,188.4 1393.0,188.3 1393.3,190.4 1393.6,190.3 1393.9,190.3 1394.2,189.4 1394.5,188.3 1394.8,189.1 1395.1,188.2 1395.4,190.4 1395.7,188.7 1396.0,188.8 1396.3,190.5 1396.6,188.6 1396.9,190.5 1397.2,188.9 1397.5,189.8 1397.8,188.4 1398.1,190.5 1398.4,189.2 1398.7,189.1 1399.0,189.9 1399.3,189.7 1399.6,188.9 1399.9,188.6 1400.2,189.7 1400.5,188.3 1400.8,190.5 1401.1,189.2 1401.4,188.7 1401.7,189.2 1402.0,188.6 1402.3,189.1 1402.6,189.7 1402.9,189.4 1403.2,189.2 1403.5,189.1 1403.8,189.6 1404.1,190.4 1404.4,189.5 1404.7,190.4 1405.0,189.7 1405.3,188.7 1405.6,188.9 1405.9,190.6 1406.2,189.7 1406.5,189.4 1406.8,189.8 1407.1,190.7 1407.4,189.4 1407.7,189.4 1408.0,189.4 1408.3,188.5 1408.6,189.9 1408.9,189.7 1409.2,189.8 1409.5,189.6 1409.8,189.7 1410.1,190.3 1410.4,188.9 1410.7,191.0 1411.0,188.8 1411.3,190.7 1411.6,188.9 1411.9,190.5" fill="none" stroke="#ff3030" stroke-width="1.6" stroke-linejoin="round"/><path d="M1041.4,183.1 1041.7,182.6 1042.0,182.7 1042.0,181.6 1042.3,180.6 1042.6,180.4 1042.9,178.2 1043.2,177.2 1043.5,177.7 1043.7,175.7 1043.8,175.2 1044.1,172.1 1044.4,171.1 1044.7,169.0 1045.0,164.3 1045.3,161.5 1045.3,160.7 1045.6,154.4 1045.9,148.6 1046.2,138.7 1046.4,133.3 1046.5,126.7 1046.8,113.4 1047.0,101.1 1047.1,95.2 1047.4,77.3 1047.5,70.8 1047.7,61.1 1048.0,42.0 1048.0,41.0 1048.3,29.5 1048.4,26.6 1048.6,22.1 1048.7,21.5 1048.9,23.5 1049.0,27.5 1049.2,32.6 1049.4,40.7 1049.5,48.7 1049.8,64.7 1049.9,70.4 1050.1,85.1 1050.4,99.9 1050.4,101.3 1050.7,118.6 1051.0,130.5 1051.0,131.9 1051.3,142.0 1051.6,151.3 1051.9,156.5 1052.0,159.8 1052.2,162.3 1052.5,167.5 1052.8,169.5 1053.1,172.9 1053.4,173.1 1053.7,175.1 1053.7,176.0 1054.0,177.9 1054.3,178.0 1054.6,178.5 1054.9,179.1 1055.2,181.1 1055.4,180.7 1055.5,182.6 1055.8,183.4 1056.1,182.3 M1124.5,186.7 1124.7,184.2 1124.8,183.7 1125.1,182.1 1125.2,181.2 1125.4,181.2 1125.6,180.3 1125.7,179.5 1125.9,176.2 1126.0,177.3 1126.2,175.1 1126.3,174.9 1126.4,175.6 1126.6,174.1 1126.6,174.2 1126.7,176.2 1126.9,175.8 1126.9,176.1 1127.2,178.5 1127.2,179.1 1127.5,178.9 1127.6,180.4 1127.8,181.7 1127.9,182.2 1128.1,182.2 1128.1,183.2 1128.4,184.8 1128.7,183.3 1128.8,183.6 1129.0,182.0 1129.2,181.7 1129.3,182.0 1129.6,178.2 1129.9,177.4 1129.9,176.9 1129.9,174.2 1130.0,175.7 1130.2,170.9 1130.5,167.1 1130.5,166.0 1130.8,158.1 1130.8,158.4 1131.1,152.3 1131.2,150.9 1131.2,149.1 1131.4,147.3 1131.5,146.9 1131.7,144.8 1131.7,144.4 1132.0,144.8 1132.0,146.0 1132.2,149.2 1132.2,150.6 1132.3,151.4 1132.6,157.7 1132.6,157.0 1132.9,164.6 1133.0,166.7 1133.2,169.4 1133.5,175.3 1133.5,175.4 1133.5,174.2 1133.6,177.2 1133.8,177.6 1134.1,180.4 1134.3,182.3 1134.4,182.5 1134.6,182.8 1134.7,183.1 1135.0,182.3 1135.3,180.9 1135.4,180.3 1135.5,178.9 1135.6,180.2 1135.8,178.4 1135.9,177.3 1136.2,174.9 1136.5,171.0 1136.6,170.3 1136.8,169.0 1136.8,170.2 1137.0,167.6 1137.1,168.9 1137.3,168.9 1137.4,171.1 1137.5,170.9 1137.7,172.8 1137.9,174.8 1138.0,176.6 1138.2,179.6 1138.3,179.2 1138.6,183.1 1138.7,182.0 1138.9,183.6 1139.2,184.5 1139.4,185.2 M1167.5,185.0 1167.7,183.7 1168.0,182.4 1168.2,181.7 1168.3,181.7 1168.6,181.3 1168.8,179.2 1168.9,178.9 1169.2,178.8 1169.5,177.8 1169.5,178.4 1169.8,175.8 1169.8,176.7 1170.1,176.3 1170.2,175.3 1170.4,177.8 1170.6,176.2 1170.7,176.0 1171.0,177.9 1171.0,177.2 1171.3,179.4 1171.6,179.9 1171.6,179.5 1171.9,180.4 1172.2,183.4 1172.2,182.3 1172.5,184.6 1172.8,184.8 1173.0,186.6 M1195.6,185.5 1195.8,186.3 1195.9,186.0 1196.2,183.8 1196.5,183.3 1196.8,183.7 1197.1,179.5 1197.2,179.7 1197.4,176.7 1197.7,172.8 1198.0,166.8 1198.0,166.3 1198.3,157.0 1198.5,150.0 1198.6,145.6 1198.9,134.6 1198.9,135.7 1199.2,122.6 1199.3,120.0 1199.5,116.1 1199.5,113.3 1199.8,112.6 1200.1,113.0 1200.1,114.8 1200.3,120.2 1200.4,124.4 1200.7,135.2 1200.7,136.0 1201.0,147.1 1201.1,151.4 1201.3,156.5 1201.6,165.7 1201.6,166.3 1201.9,171.0 1202.2,177.6 1202.4,179.6 1202.5,180.8 1202.8,181.5 1203.1,183.8 1203.4,184.6 1203.7,186.1 1203.7,184.5 1204.0,185.6 M1235.2,186.7 1235.5,185.1 1235.8,183.3 1235.8,182.9 1236.1,180.8 1236.4,180.0 1236.6,178.2 1236.7,177.6 1237.0,172.4 1237.2,169.4 1237.3,168.8 1237.6,163.1 1237.7,161.6 1237.9,156.6 1238.0,155.0 1238.1,153.0 1238.2,151.4 1238.4,150.8 1238.5,150.7 1238.7,149.1 1238.8,149.1 1238.9,149.9 1239.1,151.8 1239.2,154.5 1239.4,156.3 1239.7,162.2 1239.7,160.9 1240.0,166.5 1240.1,168.5 1240.3,171.4 1240.6,176.5 1240.7,177.1 1240.9,179.5 1240.9,178.9 1241.2,179.5 1241.5,182.5 1241.5,182.5 1241.8,183.2 1242.1,183.3 1242.3,184.6 1242.4,185.2 1242.7,183.1 1243.0,184.4 1243.0,183.6 1243.3,183.4 1243.6,183.5 1243.8,183.1 1243.9,181.5 1244.2,178.2 1244.4,178.4 1244.5,175.3 1244.6,174.5 1244.8,173.1 1245.1,167.0 1245.2,165.2 1245.4,163.0 1245.6,158.5 1245.7,155.3 1246.0,149.7 1246.0,148.5 1246.3,144.6 1246.3,144.5 1246.6,145.1 1246.6,142.7 1246.9,144.5 1246.9,144.5 1247.2,148.3 1247.3,150.5 1247.5,155.7 1247.6,158.7 1247.8,161.6 1248.1,167.2 1248.1,165.9 1248.4,171.6 1248.6,176.6 1248.7,175.2 1249.0,178.9 1249.3,181.8 1249.5,182.4 1249.6,183.6 1249.9,183.5 1250.2,184.8 M1291.6,185.8 1291.9,185.7 1291.9,184.1 1292.2,182.5 1292.3,183.8 1292.5,182.2 1292.6,180.2 1292.7,180.0 1292.8,180.3 1292.9,179.1 1293.1,180.9 1293.1,179.2 1293.3,179.4 1293.4,179.8 1293.6,180.5 1293.7,180.5 1294.0,181.7 1294.0,181.9 1294.2,181.7 1294.3,180.9 1294.3,183.2 1294.6,182.5 1294.6,180.9 1294.8,181.6 1294.9,182.1 1295.2,181.5 1295.5,177.3 1295.5,177.0 1295.8,175.9 1295.8,175.4 1296.1,174.0 1296.3,171.5 1296.4,169.4 1296.7,166.5 1296.8,166.1 1297.0,165.4 1297.0,163.5 1297.1,163.3 1297.3,161.8 1297.4,163.1 1297.6,161.7 1297.8,164.7 1297.9,164.6 1298.1,166.1 1298.2,165.7 1298.2,166.4 1298.5,170.2 1298.5,171.7 1298.8,173.5 1299.0,175.1 1299.1,177.6 1299.4,178.9 1299.4,178.8 1299.7,179.6 1299.7,180.1 1300.0,182.8 1300.1,181.0 1300.3,182.5 1300.3,182.7 1300.5,182.1 1300.6,183.1 1300.6,183.5 1300.9,183.0 1300.9,182.6 1301.2,180.7 1301.3,180.2 1301.5,180.8 1301.5,180.5 1301.8,180.2 1301.8,182.0 1302.0,180.7 1302.1,182.6 1302.2,183.2 1302.2,181.2 1302.4,183.9 1302.6,183.4 1302.7,183.3 1302.9,184.2 1303.0,184.1 1303.3,186.2 M1335.4,185.7 1335.7,186.3 1336.0,185.3 1336.0,183.8 1336.3,183.2 1336.5,183.7 1336.6,181.5 1336.9,181.3 1337.0,179.5 1337.2,180.0 1337.3,178.8 1337.5,179.1 1337.6,178.7 1337.8,180.1 1337.9,180.0 1338.0,179.6 1338.1,180.3 1338.2,180.1 1338.4,181.7 1338.7,181.6 1338.7,182.5 1339.0,183.8 1339.2,184.2 1339.3,183.7 1339.6,185.1 1339.8,187.1 M1345.0,185.9 1345.3,186.2 1345.3,186.7 1345.6,183.8 1345.9,182.0 1346.0,181.8 1346.2,182.5 1346.5,179.9 1346.5,179.9 1346.8,179.6 1346.9,177.9 1347.1,176.3 1347.2,177.1 1347.3,175.1 1347.4,175.5 1347.6,176.4 1347.7,175.1 1347.9,175.1 1348.0,176.7 1348.2,177.1 1348.3,179.2 1348.6,178.6 1348.7,180.9 1348.9,181.0 1349.2,183.6 1349.2,182.8 1349.5,184.8 1349.8,185.1 1349.8,184.9 1350.1,186.4 M1376.2,185.6 1376.5,184.0 1376.8,183.4 1376.8,184.2 1377.1,182.9 1377.4,180.2 1377.5,179.8 1377.7,177.9 1378.0,176.4 1378.0,176.9 1378.3,174.6 1378.3,175.9 1378.5,174.2 1378.6,172.8 1378.8,172.3 1378.9,171.0 1379.1,172.5 1379.2,172.6 1379.5,172.1 1379.5,173.2 1379.8,173.4 1379.8,173.3 1380.1,175.2 1380.3,176.4 1380.4,178.2 1380.7,179.9 1380.7,180.4 1380.8,179.4 1381.0,182.3 1381.3,183.1 1381.5,183.6 1381.6,184.4 1381.8,185.0 1381.9,184.6 M1384.1,186.1 1384.2,186.1 1384.3,183.9 1384.6,184.1 1384.9,184.1 1385.0,182.2 1385.2,183.1 1385.2,183.2 1385.4,181.8 1385.5,181.1 1385.7,181.5 1385.8,183.4 1385.8,182.4 1385.9,182.4 1386.1,183.4 1386.3,185.3 1386.4,184.1 1386.6,184.3" fill="none" stroke="#ff3030" stroke-width="1.0" stroke-linejoin="round"/></g>
<g clip-path="url(#cd)"><path d="M1013.5,300.0 1013.8,298.5 1014.1,299.3 1014.4,298.6 1014.7,298.4 1015.0,298.2 1015.3,298.4 1015.6,300.3 1015.9,300.0 1016.2,299.9 1016.5,299.9 1016.8,298.3 1017.1,298.6 1017.4,299.4 1017.7,299.7 1018.0,300.0 1018.3,300.1 1018.6,298.0 1018.9,299.4 1019.2,299.5 1019.5,299.1 1019.8,298.2 1020.1,299.0 1020.4,298.0 1020.7,300.2 1021.0,300.0 1021.3,299.2 1021.6,298.6 1021.9,300.2 1022.2,299.3 1022.5,300.1 1022.8,300.0 1023.1,299.2 1023.4,298.9 1023.7,299.4 1024.0,299.0 1024.3,298.3 1024.6,298.7 1024.9,300.0 1025.2,298.0 1025.5,298.0 1025.8,299.5 1026.1,298.7 1026.4,299.3 1026.7,299.2 1027.0,298.8 1027.3,300.5 1027.6,298.4 1027.9,299.0 1028.2,298.4 1028.5,299.6 1028.8,298.6 1029.1,298.8 1029.4,299.8 1029.7,298.7 1030.0,299.3 1030.3,300.2 1030.6,298.1 1030.9,297.9 1031.2,298.3 1031.5,299.7 1031.8,299.3 1032.1,298.2 1032.4,298.4 1032.7,298.0 1033.0,298.6 1033.3,297.5 1033.6,299.1 1033.9,299.6 1034.2,299.6 1034.5,299.0 1034.8,299.5 1035.1,296.9 1035.4,297.5 1035.7,299.1 1036.0,298.5 1036.3,297.4 1036.6,298.7 1036.9,297.7 1037.2,298.0 1037.5,296.4 1037.8,296.0 1037.8,296.6 1038.1,295.6 1038.4,296.0 M1058.8,294.4 1059.1,297.0 1059.4,294.9 1059.6,297.3 1059.7,295.4 1060.0,297.4 1060.3,297.5 1060.6,297.9 1060.9,297.2 1061.2,298.2 1061.5,296.5 1061.8,297.9 1062.1,297.1 1062.4,298.7 1062.7,298.4 1063.0,297.7 1063.3,298.0 1063.6,296.7 1063.9,296.8 1064.2,298.3 1064.5,298.1 1064.8,299.2 1065.1,298.5 1065.4,297.4 1065.7,298.0 1066.0,299.1 1066.3,298.5 1066.6,297.2 1066.9,299.4 1067.2,299.4 1067.5,297.5 1067.8,298.7 1068.1,298.3 1068.4,299.4 1068.7,298.2 1069.0,298.0 1069.3,298.7 1069.6,300.0 1069.9,297.7 1070.2,297.8 1070.5,299.2 1070.8,299.9 1071.1,298.9 1071.4,298.7 1071.7,299.9 1072.0,299.7 1072.3,297.9 1072.6,300.0 1072.9,298.2 1073.2,298.5 1073.5,300.0 1073.8,298.9 1074.1,299.9 1074.4,298.3 1074.7,300.2 1075.0,298.4 1075.3,298.4 1075.6,299.3 1075.9,298.9 1076.2,299.5 1076.5,300.4 1076.8,300.0 1077.1,298.2 1077.4,299.0 1077.7,299.7 1078.0,299.5 1078.3,300.2 1078.6,299.6 1078.9,298.6 1079.2,299.1 1079.5,300.7 1079.8,299.4 1080.1,300.5 1080.4,301.1 1080.7,300.3 1081.0,300.4 1081.3,300.3 1081.6,299.6 1081.9,301.2 1082.2,300.0 1082.5,301.2 1082.8,299.7 1083.1,301.2 1083.4,301.0 1083.7,300.6 1084.0,300.2 1084.3,299.4 1084.6,301.1 1084.9,300.1 1085.2,300.9 1085.5,299.5 1085.8,299.4 1086.1,299.6 1086.4,301.3 1086.7,299.7 1087.0,301.6 1087.3,300.3 1087.6,300.8 1087.9,300.2 1088.2,301.0 1088.5,299.6 1088.8,300.4 1089.1,301.8 1089.4,299.8 1089.7,301.1 1090.0,300.2 1090.3,300.2 1090.6,299.4 1090.9,299.4 1091.2,301.8 1091.5,301.5 1091.8,301.4 1092.1,301.4 1092.4,301.8 1092.7,299.7 1093.0,300.8 1093.3,300.6 1093.6,300.8 1093.9,301.7 1094.2,301.2 1094.5,301.7 1094.8,299.5 1095.1,300.9 1095.4,300.9 1095.7,301.1 1096.0,300.7 1096.3,301.2 1096.6,299.8 1096.9,301.4 1097.2,300.1 1097.5,300.5 1097.8,301.3 1098.1,300.8 1098.4,299.7 1098.7,299.5 1099.0,299.7 1099.3,300.5 1099.6,301.4 1099.9,301.1 1100.2,299.8 1100.5,299.8 1100.8,300.8 1101.1,299.4 1101.4,299.7 1101.7,298.7 1102.0,299.1 1102.3,300.0 1102.6,300.4 1102.9,300.2 1103.2,299.5 1103.5,301.0 1103.8,300.1 1104.1,298.9 1104.4,298.7 1104.7,301.0 1105.0,301.0 1105.3,300.9 1105.6,300.0 1105.9,299.3 1106.2,298.7 1106.5,299.1 1106.8,299.0 1107.1,300.8 1107.4,300.7 1107.7,300.4 1108.0,298.8 1108.3,299.0 1108.6,299.2 1108.9,300.8 1109.2,298.8 1109.5,300.4 1109.8,300.1 1110.1,299.8 1110.4,300.9 1110.7,299.0 1111.0,299.7 1111.3,298.8 1111.6,298.6 1111.9,298.4 1112.2,299.1 1112.5,298.6 1112.8,298.5 1113.1,300.9 1113.4,299.0 1113.7,300.6 1114.0,300.1 1114.3,300.2 1114.6,299.9 1114.9,300.7 1115.2,300.5 1115.5,300.1 1115.8,299.6 1116.1,299.9 1116.4,300.0 1116.7,299.5 1117.0,299.4 1117.3,298.4 1117.3,300.2 1117.6,299.3 1117.9,298.1 1118.2,298.4 1118.5,300.2 1118.8,298.5 1119.1,298.8 1119.4,299.5 1119.7,299.9 1120.0,298.5 1120.3,298.6 1120.4,298.6 1120.6,297.6 1120.9,299.7 1121.2,297.4 1121.5,299.7 1121.8,297.5 1121.9,297.5 1122.1,299.2 1122.4,298.9 1122.7,297.2 1122.7,298.0 1123.0,297.5 1123.3,297.8 1123.4,296.2 1123.6,297.5 1123.9,297.3 1124.2,295.6 M1139.5,294.8 1139.6,297.2 1139.8,297.0 1140.1,298.2 1140.4,297.7 1140.7,297.0 1140.8,297.7 1140.9,298.1 1141.0,299.5 1141.3,297.6 1141.6,298.0 1141.9,299.7 1142.2,297.9 1142.2,300.2 1142.5,298.5 1142.8,299.3 1143.1,299.6 1143.4,300.4 1143.7,298.3 1144.0,300.3 1144.3,298.7 1144.6,300.1 1144.8,298.3 1144.9,300.3 1145.2,298.8 1145.5,298.9 1145.8,298.5 1146.1,299.3 1146.4,299.3 1146.7,301.0 1147.0,300.0 1147.3,299.4 1147.6,301.1 1147.9,299.0 1148.2,299.1 1148.5,301.0 1148.8,301.0 1149.1,300.3 1149.4,301.1 1149.7,298.7 1150.0,300.9 1150.3,300.3 1150.6,300.2 1150.9,300.7 1151.2,298.8 1151.5,299.0 1151.8,298.8 1152.1,299.7 1152.4,299.9 1152.7,299.9 1153.0,299.4 1153.3,300.4 1153.6,300.6 1153.9,300.4 1154.2,298.5 1154.5,298.8 1154.8,299.0 1155.1,299.0 1155.4,299.9 1155.7,298.9 1156.0,300.0 1156.3,299.3 1156.6,299.3 1156.9,300.2 1157.2,300.8 1157.5,298.8 1157.8,299.3 1158.1,300.9 1158.4,298.9 1158.7,298.4 1159.0,298.9 1159.3,300.5 1159.6,300.3 1159.9,300.8 1160.2,299.7 1160.5,298.5 1160.8,299.2 1161.1,300.3 1161.4,299.4 1161.7,298.8 1162.0,299.4 1162.3,299.7 1162.6,299.4 1162.9,299.6 1163.2,298.9 1163.5,298.6 1163.8,300.6 1164.1,300.5 1164.4,299.7 1164.7,298.9 1165.0,299.4 1165.3,300.1 1165.6,301.0 1165.9,299.9 1166.2,301.2 1166.5,300.1 1166.8,299.2 1167.1,300.3 1167.4,300.3 1167.7,300.3 1168.0,300.7 1168.3,298.9 1168.6,300.0 1168.9,300.9 1169.2,299.2 1169.5,299.0 1169.8,299.4 1170.1,299.6 1170.4,300.0 1170.7,299.7 1171.0,300.6 1171.3,299.4 1171.6,299.9 1171.9,300.7 1172.2,300.4 1172.5,301.5 1172.8,301.4 1173.1,299.6 1173.4,299.8 1173.7,300.4 1174.0,300.4 1174.3,299.9 1174.6,301.2 1174.9,299.5 1175.2,300.2 1175.5,299.3 1175.8,301.2 1176.1,300.5 1176.4,301.5 1176.7,299.3 1177.0,300.7 1177.3,300.4 1177.6,299.0 1177.9,301.0 1178.2,301.1 1178.5,299.0 1178.8,301.3 1179.1,300.8 1179.4,300.3 1179.7,300.2 1180.0,299.4 1180.3,298.9 1180.6,299.9 1180.9,300.9 1181.2,299.2 1181.5,299.9 1181.8,299.3 1182.1,300.4 1182.4,301.1 1182.7,300.9 1183.0,299.3 1183.3,299.6 1183.6,298.5 1183.9,299.8 1184.2,300.7 1184.5,300.6 1184.8,298.6 1185.1,299.5 1185.4,298.6 1185.7,299.4 1186.0,300.7 1186.3,299.0 1186.6,300.5 1186.9,300.7 1187.2,300.3 1187.5,298.7 1187.8,300.5 1188.1,300.5 1188.4,300.7 1188.7,298.1 1189.0,298.0 1189.3,298.7 1189.6,299.3 1189.9,299.0 1190.2,298.1 1190.5,299.4 1190.7,299.5 1190.8,299.4 1191.1,299.0 1191.4,299.0 1191.7,299.3 1192.0,297.6 1192.3,298.4 1192.6,297.5 1192.9,297.3 1193.2,298.8 1193.5,297.5 1193.8,297.4 1193.8,297.2 1194.1,297.7 1194.4,296.2 1194.7,297.2 1195.0,295.3 1195.3,297.2 M1204.3,297.1 1204.6,295.0 1204.9,295.3 1205.2,297.9 1205.5,295.9 1205.8,297.9 1205.8,297.6 1206.1,296.9 1206.4,297.2 1206.7,299.2 1207.0,297.8 1207.3,297.5 1207.6,298.1 1207.9,299.0 1208.2,297.9 1208.5,297.4 1208.8,299.3 1208.9,297.5 1209.1,297.4 1209.4,297.3 1209.7,300.0 1210.0,298.5 1210.3,299.3 1210.6,298.9 1210.9,300.0 1211.2,298.4 1211.5,298.4 1211.8,299.3 1212.1,297.5 1212.4,298.5 1212.7,299.5 1213.0,299.1 1213.3,298.9 1213.6,300.0 1213.9,298.7 1214.2,299.5 1214.5,298.7 1214.8,297.9 1215.1,298.7 1215.4,298.2 1215.7,297.8 1216.0,298.5 1216.3,298.1 1216.6,298.9 1216.9,299.7 1217.2,299.7 1217.5,300.1 1217.8,298.6 1218.1,299.6 1218.4,300.2 1218.7,298.9 1219.0,300.3 1219.3,298.2 1219.6,300.3 1219.9,300.2 1220.2,300.5 1220.5,300.1 1220.8,299.9 1221.1,299.2 1221.4,299.9 1221.7,300.4 1222.0,299.6 1222.3,299.7 1222.6,300.5 1222.9,298.9 1223.2,299.0 1223.5,298.3 1223.8,300.5 1224.1,299.8 1224.4,300.0 1224.7,298.9 1225.0,298.7 1225.3,299.5 1225.6,300.5 1225.9,299.2 1226.2,299.4 1226.5,299.4 1226.8,300.5 1227.1,298.6 1227.4,300.5 1227.7,298.3 1228.0,300.0 1228.3,300.2 1228.6,299.4 1228.8,300.1 1228.9,298.9 1229.2,298.5 1229.5,299.0 1229.8,298.8 1230.1,299.9 1230.4,299.4 1230.7,299.6 1231.0,300.4 1231.3,299.8 1231.6,299.8 1231.9,300.1 1232.1,300.0 1232.2,299.4 1232.5,298.3 1232.8,298.6 1233.1,299.1 1233.4,299.0 1233.7,299.1 1233.7,298.6 1234.0,298.2 1234.3,296.8 1234.6,297.3 1234.9,295.6 1235.2,296.0 M1250.5,296.7 1250.8,296.7 1251.1,296.5 1251.4,297.3 1251.5,297.7 1251.7,297.8 1252.0,296.9 1252.3,298.9 1252.6,298.2 1252.9,297.2 1253.2,297.9 1253.2,297.3 1253.5,298.4 1253.8,297.6 1254.1,298.8 1254.4,298.3 1254.7,299.8 1255.0,299.7 1255.3,298.2 1255.6,299.9 1255.9,299.3 1256.2,298.6 1256.5,300.3 1256.5,297.9 1256.8,299.0 1257.1,299.5 1257.4,298.4 1257.7,299.3 1258.0,300.3 1258.3,298.9 1258.6,299.9 1258.9,298.5 1259.2,300.6 1259.5,300.5 1259.8,298.5 1260.1,300.0 1260.4,298.9 1260.7,298.1 1261.0,298.6 1261.3,299.9 1261.6,299.2 1261.9,299.4 1262.2,298.3 1262.5,298.4 1262.8,298.9 1263.1,299.3 1263.4,300.0 1263.7,299.1 1264.0,298.7 1264.3,300.2 1264.6,299.7 1264.9,299.8 1265.2,299.9 1265.5,299.1 1265.8,298.5 1266.1,298.1 1266.4,299.5 1266.7,299.7 1267.0,300.1 1267.3,300.2 1267.6,299.1 1267.9,299.0 1268.2,300.3 1268.5,298.0 1268.8,298.7 1269.1,299.2 1269.4,299.3 1269.7,299.4 1270.0,298.2 1270.3,299.1 1270.6,298.2 1270.9,298.8 1271.2,298.3 1271.5,298.6 1271.8,299.5 1272.1,298.9 1272.4,298.3 1272.7,299.1 1273.0,299.6 1273.3,298.7 1273.6,298.6 1273.9,299.1 1274.2,299.8 1274.5,298.1 1274.8,299.8 1275.1,298.2 1275.4,300.4 1275.7,298.6 1276.0,300.3 1276.3,298.3 1276.6,299.5 1276.9,298.9 1277.2,300.3 1277.5,300.3 1277.8,298.7 1278.1,298.5 1278.4,300.3 1278.7,299.5 1279.0,299.4 1279.3,299.4 1279.6,299.5 1279.9,300.0 1280.2,299.6 1280.5,298.9 1280.8,299.8 1281.1,301.2 1281.4,300.6 1281.7,300.5 1282.0,301.1 1282.3,299.9 1282.6,299.7 1282.9,300.8 1283.2,299.0 1283.5,300.8 1283.8,299.2 1284.1,300.4 1284.4,300.1 1284.7,300.8 1285.0,298.9 1285.3,300.5 1285.6,300.9 1285.8,298.9 1285.9,300.5 1286.2,299.5 1286.5,300.7 1286.8,301.3 1287.1,298.7 1287.4,299.7 1287.7,299.9 1288.0,301.2 1288.3,301.0 1288.6,298.6 1288.9,298.8 1289.2,299.5 1289.5,300.4 1289.7,300.4 1289.8,299.7 1290.1,300.6 1290.4,300.2 1290.7,300.3 1291.0,299.5 1291.3,298.4 1291.6,299.5 1291.9,299.2 1292.2,299.5 1292.5,297.3 1292.8,296.5 1293.1,296.8 1293.4,295.9 M1301.5,296.2 1301.8,298.1 1302.1,297.3 1302.4,297.4 1302.7,298.7 1303.0,298.9 1303.3,300.1 1303.3,300.0 1303.6,298.8 1303.9,299.0 1304.2,299.6 1304.5,299.4 1304.8,299.7 1305.1,299.3 1305.2,300.5 1305.4,300.6 1305.7,300.4 1306.0,300.4 1306.3,300.8 1306.6,299.2 1306.9,301.0 1307.2,299.1 1307.5,298.9 1307.8,300.0 1308.1,299.1 1308.4,299.4 1308.7,300.3 1309.0,299.2 1309.1,299.8 1309.3,299.8 1309.6,301.3 1309.9,299.0 1310.2,300.2 1310.5,300.1 1310.8,299.3 1311.1,299.8 1311.4,299.8 1311.7,299.8 1312.0,300.3 1312.3,300.3 1312.6,300.1 1312.9,300.0 1313.2,300.4 1313.5,300.1 1313.8,299.1 1314.1,300.5 1314.4,299.8 1314.7,301.0 1315.0,299.1 1315.3,300.1 1315.6,299.5 1315.9,300.3 1316.2,300.8 1316.5,300.3 1316.8,300.1 1317.1,301.0 1317.4,299.1 1317.7,301.1 1318.0,299.6 1318.3,300.1 1318.6,298.8 1318.9,298.5 1319.2,298.8 1319.5,299.8 1319.8,298.9 1320.1,300.4 1320.4,298.7 1320.7,300.0 1321.0,300.5 1321.3,300.0 1321.6,300.5 1321.9,300.3 1322.2,300.3 1322.5,298.2 1322.8,299.4 1323.1,298.8 1323.4,299.1 1323.7,299.9 1324.0,299.9 1324.3,298.5 1324.6,298.4 1324.9,298.1 1325.2,299.8 1325.5,300.0 1325.8,298.1 1326.0,298.2 1326.1,298.2 1326.4,300.4 1326.7,298.0 1327.0,299.3 1327.3,300.1 1327.6,298.2 1327.9,299.5 1328.2,298.6 1328.5,299.4 1328.8,298.9 1329.1,298.1 1329.4,300.0 1329.7,299.0 1329.8,300.2 1330.0,299.2 1330.3,300.1 1330.6,299.3 1330.9,297.7 1331.2,297.6 1331.5,300.1 1331.8,299.2 1331.8,299.5 1332.1,299.6 1332.4,298.3 1332.7,299.1 1333.0,298.8 1333.3,297.1 1333.6,298.1 1333.7,299.0 1333.9,297.8 1334.2,298.0 1334.5,295.6 1334.8,295.9 1334.9,295.9 1335.1,295.5 M1340.3,295.7 1340.5,295.3 1340.8,297.0 1341.1,296.5 1341.4,296.9 1341.5,297.8 1341.7,296.9 1342.0,298.7 1342.1,297.1 1342.3,297.4 1342.6,298.7 1342.9,297.3 1343.2,297.3 1343.4,298.4 1343.5,297.7 1343.8,298.1 1344.0,298.0 1344.1,298.0 1344.4,295.1 1344.7,295.0 M1350.4,295.5 1350.7,295.7 1351.0,297.2 1351.2,296.9 1351.3,297.5 1351.6,298.3 1351.9,297.5 1352.2,298.9 1352.5,299.2 1352.8,299.8 1353.0,297.5 1353.1,298.5 1353.4,297.9 1353.7,297.9 1354.0,298.8 1354.3,299.7 1354.6,298.0 1354.8,299.8 1354.9,299.9 1355.2,300.3 1355.5,299.8 1355.8,298.4 1356.1,299.8 1356.4,299.4 1356.7,298.7 1357.0,300.0 1357.3,298.9 1357.6,300.2 1357.9,300.4 1358.2,299.1 1358.5,298.5 1358.5,300.2 1358.8,298.5 1359.1,298.5 1359.4,300.5 1359.7,298.8 1360.0,298.9 1360.3,299.3 1360.6,300.2 1360.9,298.8 1361.2,299.1 1361.5,298.5 1361.8,299.0 1362.1,300.3 1362.4,300.1 1362.7,300.0 1363.0,300.8 1363.3,298.5 1363.6,299.2 1363.9,300.1 1364.2,299.4 1364.5,301.0 1364.8,299.1 1365.1,301.0 1365.4,300.4 1365.7,300.3 1366.0,301.0 1366.3,299.7 1366.6,299.4 1366.9,299.7 1367.2,300.5 1367.5,300.7 1367.5,300.2 1367.8,300.6 1368.1,300.3 1368.4,300.5 1368.7,298.8 1369.0,300.7 1369.3,299.9 1369.6,299.3 1369.9,298.8 1370.2,300.0 1370.5,299.0 1370.8,299.3 1371.1,299.7 1371.3,298.8 1371.4,298.9 1371.7,298.4 1372.0,299.1 1372.3,300.3 1372.6,298.7 1372.9,298.7 1373.2,298.2 1373.3,299.4 1373.5,299.7 1373.8,298.1 1374.1,299.6 1374.4,297.3 1374.7,297.4 1375.0,297.0 1375.2,298.5 1375.3,296.5 1375.6,297.7 1375.9,295.6 1376.2,295.0 M1382.2,295.9 1382.5,296.1 1382.8,296.9 1382.8,297.3 1383.0,297.7 1383.1,296.8 1383.4,295.6 1383.6,295.5 1383.7,296.8 1384.0,296.3 M1386.4,295.4 1386.7,296.1 1386.7,297.6 1386.9,297.5 1387.0,298.2 1387.2,298.6 1387.3,299.2 1387.6,298.9 1387.9,299.6 1388.0,299.0 1388.2,299.6 1388.5,300.5 1388.8,300.7 1389.1,300.7 1389.3,300.2 1389.4,299.7 1389.7,299.6 1390.0,299.6 1390.3,301.1 1390.6,300.4 1390.6,300.8 1390.8,300.5 1390.9,299.0 1391.2,300.0 1391.5,299.8 1391.8,301.4 1392.1,300.7 1392.4,299.9 1392.7,300.3 1393.0,301.3 1393.2,300.4 1393.3,300.9 1393.6,300.0 1393.9,300.2 1394.2,301.1 1394.5,299.6 1394.8,300.9 1395.1,301.3 1395.4,301.7 1395.7,300.5 1396.0,300.8 1396.3,301.8 1396.6,301.2 1396.9,301.4 1397.2,300.6 1397.5,299.5 1397.8,301.3 1398.1,299.4 1398.4,301.0 1398.7,299.9 1399.0,301.3 1399.3,300.8 1399.6,300.5 1399.9,300.4 1400.2,299.9 1400.5,301.7 1400.8,300.5 1401.1,301.5 1401.4,299.3 1401.7,299.1 1402.0,299.4 1402.3,299.8 1402.6,301.5 1402.9,299.3 1403.2,300.3 1403.5,301.1 1403.8,299.6 1404.1,299.6 1404.4,299.4 1404.7,298.9 1405.0,300.3 1405.3,300.2 1405.6,299.3 1405.9,300.2 1406.2,300.0 1406.5,300.5 1406.8,299.3 1407.1,299.2 1407.4,300.9 1407.7,300.4 1408.0,300.5 1408.3,299.5 1408.6,300.1 1408.9,299.5 1409.2,300.3 1409.5,301.0 1409.8,299.8 1410.1,299.7 1410.4,300.3 1410.7,299.8 1411.0,299.4 1411.3,298.5 1411.6,300.6 1411.9,299.8" fill="none" stroke="#0d0dff" stroke-width="1.7" stroke-linejoin="round" stroke-opacity="0.9"/><path d="M1038.1,295.6 1038.4,296.0 1038.7,297.2 1039.0,295.3 1039.3,294.1 1039.6,293.8 1039.9,293.7 1040.2,294.8 1040.5,293.2 1040.8,292.4 1041.1,291.2 1041.4,292.8 1041.5,291.2 1041.7,289.9 1042.0,288.6 1042.3,287.5 1042.6,286.5 1042.9,286.4 1043.2,283.3 1043.3,282.7 1043.5,282.2 1043.8,279.1 1044.1,278.0 1044.4,271.8 1044.7,267.9 1045.0,262.0 1045.1,259.2 1045.3,254.0 1045.6,241.7 1045.9,227.1 1046.2,212.7 1046.2,209.2 1046.5,189.3 1046.8,164.4 1046.9,158.2 1047.1,138.6 1047.4,108.5 1047.4,104.3 1047.7,78.6 1048.0,53.8 1048.0,52.1 1048.3,32.1 1048.3,31.8 1048.6,21.8 1048.7,20.8 1048.9,25.8 1049.1,30.9 1049.2,39.7 1049.4,54.8 1049.5,62.0 1049.8,89.0 1050.0,106.1 1050.1,118.8 1050.4,146.9 1050.5,155.9 1050.7,172.6 1051.0,197.7 1051.2,213.8 1051.3,217.5 1051.6,232.2 1051.9,246.0 1052.2,256.4 1052.3,259.7 1052.5,264.3 1052.8,269.5 1053.1,274.4 1053.4,278.1 1053.7,279.8 1054.0,283.8 1054.1,284.8 1054.3,283.5 1054.6,287.5 1054.9,288.8 1055.2,289.2 1055.5,288.6 1055.8,291.8 1056.0,290.2 1056.1,292.7 1056.4,292.7 1056.7,291.7 1057.0,292.5 1057.3,294.3 1057.6,294.5 1057.9,295.4 1058.2,296.2 1058.5,294.7 1058.8,294.4 1059.1,297.0 M1123.9,297.3 1124.2,295.6 1124.3,295.8 1124.5,295.0 1124.8,292.2 1124.9,292.9 1125.1,291.7 1125.3,289.6 1125.4,288.1 1125.7,287.8 1125.7,288.5 1125.8,286.4 1126.0,286.3 1126.1,286.6 1126.3,285.4 1126.4,283.8 1126.6,285.4 1126.7,284.6 1126.9,286.6 1127.0,286.5 1127.2,286.3 1127.2,287.9 1127.5,288.3 1127.5,287.7 1127.8,290.2 1127.9,290.7 1128.1,291.2 1128.4,291.6 1128.5,291.1 1128.7,291.0 1129.0,289.9 1129.3,288.3 1129.3,289.2 1129.4,286.6 1129.6,284.4 1129.6,285.9 1129.9,282.0 1130.2,277.9 1130.2,277.9 1130.5,272.2 1130.7,269.2 1130.8,266.5 1130.9,265.9 1131.1,263.7 1131.1,262.9 1131.4,258.0 1131.4,260.1 1131.7,258.4 1131.7,257.5 1131.8,256.4 1132.0,259.5 1132.0,259.1 1132.3,262.3 1132.3,261.2 1132.5,264.9 1132.6,265.6 1132.8,269.8 1132.9,271.1 1133.2,275.8 1133.2,278.0 1133.2,278.1 1133.5,282.2 1133.8,284.4 1133.8,285.0 1134.1,287.7 1134.4,287.9 1134.4,289.0 1134.7,291.0 1134.7,290.4 1135.0,290.4 1135.2,288.1 1135.3,288.7 1135.5,287.9 1135.6,286.7 1135.7,284.7 1135.9,282.5 1136.1,279.6 1136.2,281.1 1136.2,280.6 1136.5,276.4 1136.5,277.4 1136.8,274.6 1136.8,275.1 1137.0,275.2 1137.1,273.9 1137.3,275.5 1137.4,275.4 1137.5,277.5 1137.7,277.9 1137.8,279.4 1137.9,281.5 1138.0,283.9 1138.3,285.5 1138.3,287.5 1138.6,288.6 1138.8,293.1 1138.9,291.4 1139.2,293.1 1139.5,294.8 1139.6,297.2 M1195.0,295.3 1195.3,297.2 1195.3,295.1 1195.6,296.0 1195.9,294.5 1196.2,293.0 1196.5,290.9 1196.8,288.8 1196.8,289.7 1197.1,285.7 1197.4,281.0 1197.7,274.6 1197.7,275.1 1198.0,266.1 1198.3,257.9 1198.3,258.0 1198.6,247.1 1198.7,242.0 1198.9,236.1 1199.2,225.2 1199.2,226.9 1199.5,218.8 1199.8,216.2 1200.1,219.5 1200.4,225.7 1200.7,235.5 1200.9,241.3 1201.0,246.5 1201.3,257.1 1201.3,257.5 1201.6,266.2 1201.9,274.7 1201.9,274.4 1202.2,280.5 1202.5,285.9 1202.8,288.4 1202.8,290.0 1203.1,292.1 1203.4,292.6 1203.7,295.1 1204.0,294.2 1204.3,294.7 1204.3,297.1 1204.6,295.0 M1234.9,295.6 1235.2,296.0 1235.4,294.2 1235.5,293.2 1235.8,294.2 1236.1,292.0 1236.4,288.4 1236.4,287.4 1236.7,286.3 1236.8,285.3 1237.0,281.0 1237.0,282.6 1237.3,278.7 1237.5,275.1 1237.6,272.9 1237.9,268.2 1238.0,267.0 1238.2,265.8 1238.3,265.6 1238.5,264.4 1238.7,263.0 1238.8,264.7 1239.0,263.6 1239.1,266.0 1239.3,267.0 1239.4,267.6 1239.7,272.0 1239.8,275.0 1240.0,276.2 1240.1,276.5 1240.3,280.7 1240.3,280.5 1240.6,284.5 1240.9,287.4 1241.0,288.1 1241.2,290.5 1241.5,290.7 1241.7,292.2 1241.8,291.2 1241.9,291.9 1242.1,291.9 1242.4,294.1 1242.7,292.7 1243.0,293.2 1243.3,292.7 1243.3,291.3 1243.6,289.8 1243.6,289.7 1243.9,288.3 1244.2,285.3 1244.3,283.0 1244.5,282.9 1244.8,278.0 1245.0,275.7 1245.1,273.5 1245.2,271.1 1245.4,267.8 1245.5,266.2 1245.7,261.1 1246.0,257.4 1246.0,257.2 1246.3,251.4 1246.3,251.4 1246.6,250.0 1246.6,250.8 1246.9,253.0 1247.0,252.6 1247.2,256.6 1247.3,256.6 1247.5,260.9 1247.8,265.3 1247.8,266.9 1248.1,271.8 1248.3,274.0 1248.4,277.4 1248.5,279.5 1248.7,283.3 1248.9,284.6 1249.0,287.3 1249.3,290.0 1249.6,290.7 1249.9,294.0 1250.2,295.7 1250.5,296.7 1250.8,296.7 M1293.1,296.8 1293.4,295.9 1293.5,295.8 1293.7,294.5 1294.0,294.8 1294.3,292.9 1294.6,290.7 1294.7,289.5 1294.9,289.3 1295.2,285.5 1295.5,284.6 1295.5,283.0 1295.8,281.3 1296.1,276.2 1296.1,276.6 1296.4,274.2 1296.7,271.0 1296.7,270.3 1297.0,269.2 1297.0,267.1 1297.3,267.8 1297.4,266.8 1297.6,266.5 1297.8,267.5 1297.9,267.8 1298.2,271.1 1298.2,270.7 1298.5,273.9 1298.8,277.6 1298.8,278.2 1299.1,281.2 1299.4,283.1 1299.4,284.3 1299.7,287.3 1300.0,290.4 1300.2,290.1 1300.3,291.5 1300.6,293.9 1300.9,294.2 1301.2,295.3 1301.3,296.4 1301.5,296.2 1301.8,298.1 M1334.9,295.9 1335.1,295.5 1335.4,295.3 1335.7,293.4 1335.7,293.5 1336.0,292.2 1336.2,291.6 1336.3,291.1 1336.6,289.4 1336.7,288.7 1336.8,289.7 1336.9,288.2 1337.2,288.3 1337.2,287.1 1337.5,288.6 1337.6,286.6 1337.8,287.2 1338.0,287.4 1338.1,288.9 1338.4,289.4 1338.4,288.2 1338.7,289.3 1339.0,291.7 1339.0,291.0 1339.3,291.6 1339.6,292.4 1339.6,294.1 1339.9,295.0 1340.2,296.2 1340.3,294.7 1340.3,295.7 1340.5,295.3 M1344.4,295.1 1344.7,295.0 1345.0,294.1 1345.0,293.5 1345.3,293.9 1345.4,292.2 1345.6,292.4 1345.8,289.3 1345.9,289.4 1346.2,287.9 1346.3,287.6 1346.5,285.5 1346.8,284.8 1346.8,282.9 1347.1,281.8 1347.2,281.0 1347.4,280.5 1347.6,281.2 1347.7,281.9 1347.9,281.0 1348.0,282.0 1348.3,283.3 1348.6,286.5 1348.8,286.9 1348.9,288.0 1349.2,288.5 1349.3,290.7 1349.4,289.2 1349.5,290.1 1349.8,293.0 1350.1,294.1 1350.1,294.2 1350.4,295.5 1350.7,295.7 M1375.9,295.6 1376.2,295.0 1376.4,293.8 1376.5,295.3 1376.8,292.9 1377.1,292.9 1377.2,291.8 1377.4,290.3 1377.7,288.5 1377.7,288.6 1377.8,288.3 1378.0,287.9 1378.3,284.3 1378.3,284.0 1378.6,285.0 1378.7,283.8 1378.9,283.2 1379.1,282.6 1379.2,281.5 1379.5,282.5 1379.5,284.0 1379.8,283.7 1379.9,285.0 1380.1,285.7 1380.2,285.7 1380.4,286.3 1380.5,286.7 1380.7,289.7 1381.0,290.1 1381.1,291.2 1381.3,292.5 1381.5,294.0 1381.6,292.7 1381.8,294.3 1381.9,295.3 1382.2,295.9 1382.5,296.1 M1383.7,296.8 1384.0,296.3 1384.1,295.4 1384.3,295.6 1384.5,293.7 1384.6,294.0 1384.9,293.2 1384.9,294.1 1385.0,294.6 1385.2,292.4 1385.2,291.9 1385.4,292.5 1385.5,293.8 1385.7,294.4 1385.8,292.2 1386.0,293.3 1386.1,294.1 1386.3,296.1 1386.4,295.4 1386.7,296.1" fill="none" stroke="#0d0dff" stroke-width="1.1" stroke-linejoin="round" stroke-opacity="0.9"/></g>
<rect x="1013.5" y="32.0" width="398.5" height="292.8" fill="none" stroke="#3a3a3a" stroke-width="1.5"/>
<line x1="1146.33" y1="324.80" x2="1146.33" y2="319.80" stroke="#3a3a3a" stroke-width="1.2" />
<line x1="1279.17" y1="324.80" x2="1279.17" y2="319.80" stroke="#3a3a3a" stroke-width="1.2" />
<line x1="1145.90" y1="45.30" x2="1190.00" y2="45.30" stroke="#ffaaaa" stroke-width="2.0" />
<line x1="1145.90" y1="75.20" x2="1190.00" y2="75.20" stroke="#8080ff" stroke-width="2.0" />
<path d="M1171.6,160.2 L1175.8999999999999,166.5 L1171.6,172.8 L1167.3,166.5 Z" fill="none" stroke="#333" stroke-width="1.25" stroke-linejoin="round"/>
<path d="M1291.5,159.39999999999998 L1295.8,165.7 L1291.5,172.0 L1287.2,165.7 Z" fill="none" stroke="#333" stroke-width="1.25" stroke-linejoin="round"/>
<path d="M1303.8,159.39999999999998 L1308.1,165.7 L1303.8,172.0 L1299.5,165.7 Z" fill="none" stroke="#333" stroke-width="1.25" stroke-linejoin="round"/>
<path d="M1297.9,122.1 L1302.2,128.7 L1297.9,135.29999999999998 L1293.6000000000001,128.7 Z" fill="none" stroke="#333" stroke-width="1.25" stroke-linejoin="round"/>
<line x1="1304.90" y1="129.40" x2="1344.20" y2="129.40" stroke="#222" stroke-width="2.0" />
<g clip-path="url(#ce)"><path d="M548.0,532.7 548.4,532.2 548.8,532.6 549.2,531.4 549.6,532.0 550.0,531.6 550.4,532.1 550.8,532.2 551.2,531.3 551.6,531.6 552.0,531.7 552.4,532.8 552.8,532.5 553.2,531.6 553.6,532.6 554.0,531.5 554.4,532.3 554.8,531.4 555.2,531.2 555.6,532.6 556.0,531.5 556.4,531.4 556.8,532.6 557.2,532.3 557.6,531.3 558.0,532.3 558.4,531.6 558.8,531.7 559.2,530.8 559.6,531.9 560.0,531.4 560.4,531.8 560.8,531.6 561.2,530.5 561.6,530.5 562.0,530.1 562.4,530.0 562.8,529.9 563.2,530.2 563.6,530.7 564.0,529.7 564.4,530.8 564.8,530.2 565.2,530.2 565.6,531.1 566.0,530.6 566.4,530.4 566.8,530.8 567.2,531.3 567.6,530.4 568.0,532.0 568.4,530.6 568.8,531.9 569.2,532.2 569.6,531.0 570.0,532.4 570.4,531.9 570.7,532.3 570.8,531.4 571.2,531.6 571.6,531.9 572.0,533.2 572.4,532.0 572.5,532.9 572.8,533.1 573.2,532.9 573.3,531.9 573.6,531.5 573.9,531.1 574.0,531.2 574.2,529.3 M580.0,531.6 580.2,531.8 580.4,533.0 580.8,534.8 581.0,534.7 581.1,535.0 581.2,534.3 581.6,534.7 581.7,535.2 582.0,534.9 582.4,534.8 582.8,535.1 583.2,534.8 583.3,535.2 583.6,536.2 584.0,536.2 584.4,535.8 584.8,535.6 585.2,535.4 585.6,535.0 586.0,535.3 586.4,536.1 586.8,536.3 587.2,535.5 587.6,536.2 588.0,536.2 588.4,536.0 588.8,536.0 589.2,536.1 589.6,535.5 590.0,536.0 590.4,535.3 590.8,535.6 591.2,536.0 591.6,535.9 592.0,535.2 592.4,536.2 592.8,535.7 593.2,535.6 593.6,534.6 594.0,535.4 594.4,534.9 594.8,535.5 595.2,535.1 595.6,535.6 596.0,535.2 596.4,535.4 596.8,534.5 597.2,534.9 597.6,534.9 597.8,534.9 598.0,534.1 598.4,534.6 598.8,534.4 599.2,533.7 599.6,533.8 599.6,533.7 600.0,532.4 600.4,531.6 M606.4,531.1 606.8,531.9 607.1,532.2 607.2,533.0 607.6,533.3 608.0,534.0 608.4,534.2 608.8,533.9 609.0,535.0 609.2,533.7 609.6,534.5 610.0,534.4 610.4,534.7 610.8,534.3 611.2,535.5 611.6,534.9 612.0,534.4 612.4,535.4 612.8,534.6 613.2,535.4 613.6,535.1 614.0,535.5 614.4,536.1 614.8,535.9 615.2,535.3 615.6,535.9 616.0,535.7 616.4,535.2 616.8,534.9 617.2,535.6 617.6,535.5 618.0,536.1 618.4,536.1 618.8,535.5 619.2,535.0 619.6,535.8 620.0,534.2 620.2,534.3 620.4,535.0 620.8,534.9 621.2,533.9 621.6,534.4 622.0,534.5 622.1,533.6 622.4,533.2 622.8,532.2 623.0,531.8 M628.6,531.4 628.8,533.2 629.2,532.8 629.6,533.8 629.6,533.6 630.0,534.3 630.4,534.5 630.8,534.9 631.2,534.1 631.5,535.2 631.6,534.5 632.0,535.0 632.4,534.7 632.8,534.7 633.2,535.2 633.6,535.1 634.0,535.0 634.4,535.6 634.8,535.4 635.2,534.5 635.6,534.8 636.0,535.2 636.4,535.9 636.8,535.8 637.2,535.3 637.6,534.4 638.0,535.6 638.4,535.0 638.8,535.2 639.2,535.3 639.4,535.2 639.6,534.9 640.0,535.5 640.4,534.5 640.8,534.4 641.2,534.9 641.2,533.9 641.6,533.7 641.6,534.6 642.0,532.9 642.0,534.1 642.4,533.2 642.8,531.2 M647.9,531.0 648.0,531.5 648.0,532.5 648.4,533.4 648.6,533.9 648.7,532.7 648.8,533.3 649.2,533.2 649.4,533.6 649.5,533.4 649.6,534.1 649.8,533.0 650.0,532.2 650.4,532.0 M654.0,532.0 654.4,532.0 654.6,532.4 M657.3,530.3 657.6,532.6 657.7,533.6 658.0,533.8 658.4,535.1 658.5,534.7 658.8,535.1 659.2,535.2 659.3,535.5 659.6,535.1 660.0,534.7 660.4,534.7 660.8,535.0 660.9,534.8 661.2,536.2 661.6,535.6 662.0,536.0 662.4,534.9 662.8,535.6 663.2,536.3 663.6,535.9 664.0,535.6 664.4,535.6 664.8,535.1 665.2,535.1 665.6,535.1 666.0,535.5 666.4,535.5 666.8,536.3 667.2,535.1 667.6,535.2 668.0,535.3 668.4,535.1 668.7,535.2 668.8,535.2 669.2,535.5 669.6,534.8 670.0,536.2 670.4,535.2 670.6,536.1 670.8,535.7 671.2,535.6 671.6,535.1 671.6,535.9 672.0,534.4 672.4,535.0 672.6,534.1 672.8,534.4 673.2,533.4 673.2,532.4 673.6,530.8 M675.6,532.3 675.9,533.1 676.0,533.1 676.4,534.9 676.5,533.5 676.8,533.9 677.2,535.2 677.5,534.7 677.6,534.2 677.8,535.0 678.0,535.7 678.4,535.0 678.5,534.7 678.8,534.3 679.2,534.2 679.4,535.5 679.6,534.8 680.0,535.4 680.4,533.9 680.4,534.2 680.8,533.6 680.9,534.0 681.2,533.2 681.6,533.0 681.9,532.7 682.0,532.3 682.4,530.8 M686.0,531.6 686.2,532.2 686.3,532.5 686.4,531.7 686.8,531.9 687.1,532.0 M693.6,530.2 694.0,531.9 694.0,532.4 694.0,533.2 694.4,534.1 694.6,533.7 694.8,533.2 694.8,533.6 695.2,533.5 695.6,533.5 695.7,532.9 696.0,533.7 696.0,534.1 696.4,533.7 696.8,532.1 697.2,531.9 M702.8,531.4 703.2,532.4 703.6,533.7 704.0,533.8 704.2,534.6 704.4,533.9 704.8,534.3 705.2,534.3 705.5,535.6 705.6,535.4 706.0,535.5 706.4,535.2 706.8,534.9 707.2,534.6 707.6,535.7 708.0,535.2 708.3,534.5 708.4,534.7 708.8,534.6 709.2,535.6 709.6,535.9 710.0,534.8 710.4,535.8 710.8,535.0 711.2,535.6 711.5,535.8 711.6,535.5 712.0,535.7 712.4,535.0 712.8,534.4 713.2,535.2 713.5,535.2 713.6,534.6 714.0,534.8 714.4,534.6 714.5,534.1 714.8,534.4 715.2,534.2 715.5,534.0 715.6,534.0 715.6,533.5 716.0,533.2 716.0,532.8 716.4,531.0 M718.5,531.2 718.8,531.6 718.8,532.7 719.2,532.8 719.4,533.7 719.5,532.7 719.6,533.8 720.0,533.2 720.1,533.4 720.3,532.6 720.4,532.0 720.5,531.8 M722.5,531.8 722.8,533.6 722.9,533.8 723.2,534.2 723.3,534.0 723.4,533.8 723.6,534.9 724.0,535.0 724.4,535.4 724.4,534.9 724.8,535.8 725.2,534.8 725.4,535.0 725.6,535.0 726.0,535.6 726.4,536.1 726.8,534.9 727.2,535.7 727.4,535.9 727.6,535.1 728.0,534.9 728.4,535.7 728.8,536.1 729.2,536.2 729.6,536.0 730.0,535.5 730.4,535.6 730.8,535.8 731.2,536.4 731.6,535.4 732.0,535.4 732.4,536.0 732.8,536.5 733.2,535.3 733.6,535.1 734.0,535.2 734.4,535.9 734.8,536.0 735.2,535.3 735.6,535.4 736.0,536.0 736.4,536.1 736.8,536.2 737.2,536.2 737.6,535.1 738.0,535.8 738.4,536.4 738.8,536.5 739.2,535.5 739.6,536.3 740.0,536.0 740.4,536.4 740.8,535.3 741.2,536.0 741.6,536.1 742.0,535.5 742.2,534.9 742.4,535.0 742.8,534.8 743.2,534.6 743.6,534.5 743.9,535.1 744.0,534.3 744.4,535.0 744.8,534.6 744.8,534.7 745.2,534.0 745.6,532.3 M749.2,532.5 749.6,532.0 749.7,533.2 749.9,533.2 750.0,532.6 750.4,532.2 750.5,532.6 750.8,532.1 750.8,532.7 751.0,532.4 M757.7,531.5 757.9,532.2 758.0,532.5 758.3,532.1 758.4,532.2 758.5,533.4 758.8,532.6 758.8,533.3 759.1,532.6 759.2,532.3 M761.2,531.9 761.4,531.8 761.5,532.4 761.6,533.3 762.0,533.7 762.0,534.2 762.4,535.5 762.8,535.7 762.9,534.6 763.2,534.5 763.6,535.9 763.7,536.1 764.0,535.6 764.4,534.9 764.8,535.1 765.2,536.3 765.4,536.3 765.6,534.9 766.0,535.2 766.4,535.6 766.8,535.4 767.2,536.2 767.6,535.6 768.0,536.2 768.4,535.3 768.8,535.9 769.2,536.6 769.6,536.2 770.0,535.2 770.4,535.2 770.8,536.1 771.2,535.7 771.6,535.6 772.0,535.8 772.4,536.0 772.8,536.6 773.0,535.4 773.2,535.9 773.6,535.4 774.0,535.8 774.4,536.1 774.8,535.0 775.2,535.5 775.3,535.9 775.6,534.7 776.0,535.8 776.4,535.1 776.5,535.2 776.8,535.2 777.2,535.2 777.6,533.4 777.6,534.0 778.0,532.3 778.4,531.4 M781.6,531.4 781.8,531.9 782.0,533.5 782.3,533.3 782.4,533.8 782.8,534.8 783.2,533.9 783.5,534.4 783.6,534.6 784.0,534.8 784.1,534.2 784.4,534.6 784.7,533.9 784.8,533.9 785.2,534.2 785.3,533.8 785.6,535.0 785.7,533.8 786.0,533.5 786.4,533.7 786.5,533.4 786.8,531.6 787.0,531.4 M792.8,531.7 792.9,531.5 793.2,532.6 793.5,532.9 793.5,534.1 793.6,533.8 794.0,534.9 794.0,534.3 794.4,534.0 794.5,534.1 794.8,534.3 795.2,535.5 795.5,534.4 795.6,534.2 795.9,534.6 796.0,534.2 796.4,534.8 796.4,535.1 796.8,535.1 797.2,534.3 797.4,534.2 797.6,534.7 797.6,535.0 798.0,534.5 798.4,534.4 798.7,534.4 798.8,533.1 799.2,532.3 799.4,531.7 M802.8,532.1 803.0,533.1 803.2,533.2 803.4,532.7 803.6,534.4 804.0,533.6 804.2,533.9 804.4,533.9 804.6,532.9 804.8,532.7 804.9,532.4 805.2,531.0 M807.7,531.3 808.0,532.1 808.1,532.2 808.2,533.0 808.4,534.2 808.8,534.9 808.9,534.3 809.2,534.0 809.6,535.3 810.0,534.3 810.0,535.0 810.4,534.3 810.8,535.8 810.9,535.1 811.2,535.0 811.2,534.7 811.6,535.1 812.0,535.8 812.4,534.9 812.8,534.5 813.2,534.9 813.6,535.5 813.6,534.7 813.6,535.1 814.0,535.4 814.4,534.4 814.8,535.0 815.0,534.4 815.2,533.7 815.6,533.2 816.0,534.1 816.4,532.5 816.4,532.4 816.8,531.6 M821.6,532.0 821.9,531.8 822.0,533.0 822.4,533.2 822.8,533.8 823.2,533.6 823.2,534.6 823.3,533.7 823.6,534.9 824.0,534.3 824.4,534.8 824.6,534.9 824.8,534.7 825.2,535.4 825.6,535.5 825.6,534.5 826.0,534.5 826.4,535.4 826.7,534.2 826.8,534.6 826.8,534.6 827.2,535.4 827.3,534.0 827.6,534.6 828.0,534.4 828.0,534.4 828.4,532.5 828.7,533.1 828.8,531.8 829.0,531.6 M834.9,531.7 835.0,532.4 835.2,532.3 835.2,532.8 835.4,532.2 835.6,533.0 836.0,534.5 836.1,533.4 836.3,533.4 836.4,533.4 836.8,534.6 837.2,533.3 837.3,533.8 837.4,533.6 837.5,534.0 837.6,533.3 838.0,532.4 838.2,530.8 M841.5,531.3 841.6,532.4 842.0,533.0 842.0,532.7 842.2,534.4 842.4,534.6 842.8,534.7 843.1,534.1 843.2,534.4 843.4,534.5 843.6,534.5 844.0,533.9 844.3,534.5 844.4,534.9 844.6,534.7 844.8,534.8 845.0,534.2 845.2,534.1 845.5,533.7 845.6,533.5 845.8,532.8 846.0,531.8 846.2,531.7 M847.1,531.3 847.2,531.3 847.5,532.7 847.6,533.1 847.8,532.7 848.0,533.6 848.3,534.7 848.4,534.0 848.8,534.0 849.0,535.0 849.2,534.7 849.6,534.5 850.0,534.9 850.2,534.4 850.4,534.7 850.7,535.2 850.8,534.7 851.2,534.5 851.4,535.4 851.6,536.1 852.0,535.9 852.4,535.1 852.8,536.0 853.2,534.7 853.4,534.8 853.6,534.6 853.7,534.6 854.0,535.5 854.4,535.7 854.8,535.2 855.2,535.6 855.6,534.9 856.0,535.4 856.2,534.7 856.4,534.3 856.8,533.0 857.0,532.9 857.2,532.3 857.5,531.7 M860.4,532.0 860.8,532.5 860.8,533.2 861.2,533.4 861.6,534.9 861.6,535.4 862.0,535.3 862.4,534.6 862.8,535.5 863.0,535.5 863.2,535.5 863.6,535.1 864.0,535.4 864.4,535.7 864.4,535.1 864.8,536.1 865.2,535.4 865.6,535.5 866.0,535.2 866.4,535.6 866.8,536.6 867.1,535.6 867.2,535.3 867.6,535.7 868.0,536.6 868.4,535.3 868.8,535.7 869.2,535.5 869.6,536.2 870.0,535.8 870.4,535.3 870.8,536.5 871.2,535.6 871.6,536.2 872.0,535.8 872.4,536.4 872.8,535.1 873.1,535.4 873.2,535.4 873.6,535.4 874.0,536.3 874.4,535.7 874.8,535.5 875.2,535.7 875.6,536.2 875.9,535.7 876.0,535.5 876.4,535.8 876.8,535.7 877.2,535.4 877.3,535.4 877.6,534.9 878.0,535.3 878.4,535.8 878.6,534.8 878.8,534.8 879.2,534.9 879.5,534.6 879.6,533.7 880.0,533.5 880.0,533.9 880.4,532.1 880.8,531.4 880.8,532.4 881.1,532.3 M881.6,531.3 881.9,532.3 882.0,531.4 882.3,532.7 882.4,532.4 882.7,533.3 882.8,534.0 883.2,534.4 883.3,535.0 883.6,535.4 884.0,535.3 884.1,535.7 884.4,534.8 884.8,535.4 885.2,535.2 885.5,535.7 885.6,534.9 886.0,536.2 886.4,535.4 886.8,536.1 886.8,536.4 887.2,536.4 887.6,535.6 888.0,536.3 888.4,536.6 888.8,535.2 889.2,536.2 889.6,536.2 889.6,535.8 890.0,535.5 890.4,535.4 890.8,535.8 891.2,536.6 891.5,535.8 891.6,535.5 892.0,536.1 892.4,535.8 892.8,536.1 892.9,535.8 893.2,535.5 893.6,535.0 894.0,536.1 894.3,535.7 894.4,534.9 894.8,534.9 895.1,534.5 895.2,534.2 895.6,533.9 895.6,533.6 896.0,531.8 M898.0,532.5 898.4,532.7 898.4,533.2 898.8,533.5 898.9,533.9 899.2,534.4 899.6,536.2 899.8,535.2 900.0,535.3 900.4,535.1 900.8,535.3 901.1,536.8 901.2,536.4 901.6,536.7 902.0,536.6 902.4,536.5 902.5,535.7 902.8,535.5 903.2,535.7 903.6,535.4 904.0,535.5 904.4,536.4 904.8,536.0 905.2,535.2 905.2,535.7 905.6,536.5 906.0,536.5 906.4,536.3 906.8,536.3 907.2,536.5 907.6,535.9 908.0,535.6 908.4,535.9 908.8,535.4 909.2,535.0 909.6,535.3 910.0,535.6 910.4,535.0 910.8,535.0 911.2,535.2 911.6,535.4 912.0,536.3 912.4,535.5 912.8,536.1 913.2,535.9 913.6,535.6 914.0,535.2 914.2,535.3 914.4,535.2 914.8,535.7 915.2,536.0 915.6,535.9 916.0,535.1 916.4,534.8 916.8,534.6 917.2,535.5 917.3,535.0 917.6,534.6 918.0,535.1 918.4,534.9 918.8,534.9 918.9,535.6 919.2,535.4 919.6,534.9 920.0,535.6 920.4,534.6 920.4,535.7 920.8,534.3 921.2,534.7 921.4,534.7 921.6,534.5 922.0,533.5 922.0,534.1 922.4,533.1 922.5,533.1 922.8,531.5 922.9,531.5 923.2,531.6 M924.0,531.8 924.2,532.1 924.4,533.0 924.6,532.6 924.8,533.3 925.1,533.9 925.2,534.2 925.6,534.2 925.7,534.3 926.0,534.9 926.4,535.5 926.7,535.7 926.8,534.9 927.2,535.6 927.6,535.9 928.0,535.4 928.2,535.3 928.4,536.6 928.8,535.2 929.2,536.0 929.6,535.7 929.8,535.3 930.0,535.7 930.4,535.6 930.8,536.0 931.2,536.8 931.6,535.5 932.0,535.9 932.4,536.5 932.8,536.4 932.9,535.4 933.2,535.7 933.6,535.8 934.0,536.8 934.4,536.1 934.8,535.8 935.2,536.1 935.6,536.1 936.0,535.5 936.4,536.4 936.8,536.4 937.2,536.0 937.6,536.1 938.0,536.4 938.4,536.7 938.8,536.1 939.2,535.2 939.6,535.9 940.0,536.1 940.0,535.6 940.4,536.1 940.8,535.5 941.2,535.9 941.6,535.9 942.0,535.9 942.4,536.3 942.8,535.9 943.1,535.9 943.2,535.9 943.6,535.1 944.0,535.6 944.4,535.6 944.7,534.7 944.8,535.8 945.2,534.9 945.6,535.2 946.0,535.2 946.3,535.5 946.4,535.5 946.8,534.8 947.2,535.4 947.2,534.6 947.6,534.5 947.8,535.0 948.0,533.7 948.3,534.1 948.4,534.4 948.8,532.6 948.8,533.7 949.1,533.3 949.2,533.1 949.4,533.5 949.6,533.6 949.7,532.5 950.0,533.2 950.0,533.5 950.4,533.9 950.5,534.4 950.8,534.5 951.0,534.7 951.2,533.7 951.6,534.5 951.6,535.3 952.0,535.6 952.4,535.4 952.5,534.8 952.8,535.5 953.2,535.2 953.6,535.5 954.0,535.5 954.1,535.9 954.4,535.7 954.8,536.1 955.2,535.4 955.6,535.4 955.7,535.7 956.0,535.6" fill="none" stroke="#ff1a1a" stroke-width="1.6" stroke-linejoin="round"/><path d="M574.0,531.2 574.2,529.3 574.4,528.7 574.7,525.4 574.8,523.8 575.0,518.1 575.2,515.8 575.3,512.3 575.5,508.1 575.5,507.3 575.6,506.9 575.7,504.2 575.9,504.1 576.0,503.8 576.1,504.1 576.2,506.7 576.3,507.1 576.4,509.6 576.5,512.0 576.8,518.1 576.8,519.5 577.0,521.9 577.1,522.2 577.2,524.5 577.5,524.1 577.6,523.5 577.6,523.1 577.8,521.5 578.0,519.4 578.1,517.7 578.3,514.1 578.4,512.3 578.5,513.2 578.5,511.6 578.6,512.0 578.8,513.4 578.8,512.6 578.9,515.4 579.2,520.0 579.2,520.2 579.3,523.1 579.4,523.1 579.6,526.8 579.7,527.7 580.0,531.6 580.2,531.8 M600.0,532.4 600.4,531.6 600.6,530.5 600.8,530.7 601.2,528.3 601.5,524.0 601.6,522.6 602.0,512.2 602.1,510.0 602.4,493.4 602.4,492.2 602.7,475.2 602.8,470.5 603.0,458.7 603.2,451.1 603.2,451.1 603.4,448.2 603.6,451.3 603.6,451.2 603.8,457.8 604.0,472.6 604.0,475.4 604.3,491.4 604.4,496.5 604.7,509.5 604.8,512.5 605.2,523.0 605.3,523.6 605.6,527.2 606.0,529.7 606.2,530.8 606.4,531.1 606.8,531.9 M622.8,532.2 623.0,531.8 623.2,532.3 623.6,529.2 624.0,526.6 624.0,525.8 624.4,516.7 624.5,512.3 624.8,502.2 624.9,497.1 625.2,482.1 625.2,480.3 625.5,468.5 625.6,461.8 625.6,460.3 625.8,458.0 626.0,459.5 626.0,460.8 626.2,467.6 626.4,477.0 626.5,482.7 626.8,497.6 626.8,497.7 627.1,512.7 627.2,514.3 627.6,524.8 627.7,526.2 628.0,528.5 628.4,530.8 628.6,531.4 628.8,533.2 M642.4,533.2 642.8,531.2 642.9,530.4 643.2,528.6 643.2,528.6 643.4,524.6 643.6,521.5 643.8,518.4 644.0,513.1 644.0,511.8 644.3,505.0 644.4,503.0 644.4,502.7 644.6,500.1 644.7,500.5 644.8,501.8 644.8,501.9 645.0,503.5 645.2,506.4 645.2,507.6 645.5,511.2 645.5,511.7 645.6,511.7 645.8,511.0 645.8,512.3 646.0,511.1 646.1,511.7 646.3,512.7 646.3,512.5 646.4,512.2 646.5,513.1 646.6,516.5 646.8,518.4 646.9,520.3 646.9,521.2 647.1,523.5 647.2,525.8 647.2,525.0 647.4,527.6 647.6,529.9 647.9,531.0 648.0,531.5 M650.0,532.2 650.4,532.0 650.4,531.0 650.8,528.8 650.9,527.5 651.0,526.8 651.2,523.1 651.2,522.7 651.5,517.4 651.5,517.7 651.6,515.1 651.8,513.2 651.9,510.7 652.0,509.5 652.1,509.4 652.3,510.4 652.4,512.7 652.4,512.4 652.7,517.9 652.8,519.9 653.0,521.7 653.0,524.2 653.2,525.6 653.3,526.9 653.6,530.4 653.8,531.0 653.8,532.1 654.0,532.0 654.4,532.0 M654.4,532.0 654.6,532.4 654.7,530.9 654.8,531.5 655.1,528.4 655.2,527.3 655.4,526.1 655.5,523.6 655.6,521.7 655.6,521.1 655.9,519.0 656.0,517.0 656.0,517.1 656.2,515.4 656.3,516.9 656.4,517.1 656.5,518.1 656.7,521.8 656.8,523.6 657.0,525.7 657.2,528.9 657.2,529.0 657.3,530.3 657.6,532.6 M673.2,532.4 673.6,530.8 673.6,530.3 673.9,529.2 674.0,528.2 674.1,527.9 674.4,528.0 674.4,526.9 674.5,526.7 674.7,527.1 674.7,526.9 674.8,527.8 674.9,528.3 675.2,528.9 675.2,529.2 675.5,531.5 675.6,532.3 675.9,533.1 M682.0,532.3 682.4,530.8 682.5,530.4 682.8,531.0 683.0,529.1 683.2,528.8 683.4,527.9 683.6,527.7 683.7,526.8 683.8,527.0 684.0,526.4 684.1,527.1 684.4,527.9 684.4,527.4 684.7,528.4 684.8,527.7 685.2,528.5 685.2,529.4 685.4,529.9 685.6,530.6 685.6,530.4 686.0,531.6 686.2,532.2 M686.8,531.9 687.1,532.0 687.1,531.0 687.2,530.5 687.6,528.3 687.6,527.7 688.0,524.8 688.0,524.4 688.2,520.1 688.4,517.3 688.5,516.1 688.7,514.5 688.8,513.7 688.8,514.1 688.8,514.3 688.8,513.8 689.0,514.1 689.2,516.9 689.2,516.2 689.4,519.8 689.6,522.5 689.6,523.3 689.7,523.4 690.0,527.5 690.0,527.6 690.3,530.1 690.4,530.0 690.5,530.8 690.5,530.4 690.8,530.3 691.0,528.9 691.2,527.4 691.4,526.3 691.4,525.6 691.6,523.9 691.6,523.2 691.8,520.7 691.9,519.5 692.0,519.4 692.1,518.3 692.2,517.4 692.3,517.3 692.4,518.0 692.6,519.7 692.8,523.1 692.8,522.8 693.1,525.7 693.2,528.0 693.4,529.9 693.5,529.2 693.6,530.2 694.0,531.9 M696.8,532.1 697.2,531.9 697.3,530.9 697.4,531.5 697.6,530.2 698.0,528.4 698.1,527.0 698.4,523.4 698.7,520.2 698.8,519.7 699.1,514.7 699.2,513.2 699.5,509.1 699.6,508.6 699.8,507.3 700.0,505.7 700.0,506.4 700.3,506.8 700.4,506.5 700.6,509.7 700.8,511.7 701.0,514.1 701.2,518.4 701.4,519.9 701.6,523.0 702.0,526.7 702.0,527.6 702.4,529.7 702.8,531.3 702.8,531.4 703.2,532.4 M716.0,532.8 716.4,531.0 716.4,530.4 716.7,528.4 716.8,527.6 717.0,526.7 717.2,525.1 717.2,525.4 717.4,525.2 717.6,525.2 717.6,524.9 717.8,525.4 718.0,526.8 718.1,527.8 718.4,530.1 718.4,530.5 718.5,531.2 718.8,531.6 M720.4,532.0 720.5,531.8 720.8,530.3 721.1,528.8 721.2,527.8 721.3,528.0 721.3,528.6 721.5,527.4 721.6,528.7 721.7,528.1 721.9,528.6 722.0,528.5 722.2,530.0 722.4,530.8 722.5,531.8 722.8,533.6 M745.2,534.0 745.6,532.3 745.6,532.6 746.0,529.5 746.1,527.3 746.4,523.5 746.5,520.5 746.7,515.0 746.8,513.6 747.0,509.9 747.2,507.5 747.2,507.4 747.3,507.1 747.5,508.1 747.6,508.2 747.7,510.0 747.9,515.6 748.0,515.7 748.0,516.2 748.2,521.1 748.4,524.3 748.5,526.8 748.8,529.4 749.1,531.9 749.2,532.5 749.6,532.0 M750.8,532.7 751.0,532.4 751.2,530.8 751.4,529.5 751.6,528.0 751.9,523.8 752.0,522.4 752.3,515.9 752.4,511.6 752.5,508.7 752.5,508.9 752.7,502.2 752.8,500.4 752.8,500.5 753.0,497.4 753.1,496.8 753.2,496.1 753.3,497.3 753.5,500.2 753.6,504.4 753.7,508.6 754.0,515.0 754.0,515.2 754.3,522.7 754.4,522.3 754.5,523.5 754.8,526.2 754.8,524.9 755.0,525.8 755.1,524.5 755.2,523.2 755.3,522.3 755.6,519.4 755.6,519.0 755.7,517.8 755.8,515.4 756.0,514.1 756.0,515.3 756.2,513.9 756.4,514.7 756.4,514.5 756.5,516.4 756.6,517.9 756.8,520.8 756.8,520.8 756.8,520.4 757.0,524.3 757.2,527.0 757.4,528.5 757.6,530.5 757.7,531.5 757.9,532.2 M759.1,532.6 759.2,532.3 759.4,530.5 759.6,530.4 759.6,529.9 759.7,529.9 759.9,527.3 760.0,528.0 760.1,527.1 760.3,527.8 760.4,528.0 760.4,526.9 760.6,528.0 760.8,528.9 760.9,529.6 761.1,530.9 761.2,531.9 761.4,531.8 M778.0,532.3 778.4,531.4 778.4,531.1 778.8,528.0 778.8,528.3 779.2,525.8 779.2,525.9 779.5,523.9 779.6,522.5 779.8,521.9 780.0,521.7 780.0,522.1 780.2,522.6 780.4,523.5 780.5,522.8 780.8,525.1 780.8,526.5 781.2,527.8 781.2,528.6 781.6,531.5 781.6,531.4 781.8,531.9 M786.8,531.6 787.0,531.4 787.2,530.2 787.2,529.7 787.6,527.1 787.6,526.0 787.7,525.9 788.0,523.5 788.0,522.6 788.4,520.0 788.4,518.6 788.6,517.1 788.6,516.8 788.8,517.4 788.8,517.1 789.1,516.7 789.2,517.4 789.3,519.4 789.6,521.2 789.7,522.3 790.0,523.5 790.0,524.4 790.2,524.6 790.4,526.1 790.5,526.0 790.6,526.0 790.8,525.1 790.9,526.1 791.2,523.8 791.2,523.7 791.2,524.6 791.4,523.3 791.6,523.3 791.6,524.0 791.8,524.8 792.0,526.3 792.0,526.3 792.2,527.0 792.4,528.8 792.4,529.4 792.5,529.1 792.8,531.7 792.9,531.5 M799.2,532.3 799.4,531.7 799.5,531.6 799.6,531.6 799.9,529.3 800.0,528.9 800.3,526.7 800.4,526.3 800.6,525.0 800.8,523.2 800.9,522.7 801.1,522.5 801.2,522.8 801.3,523.9 801.5,524.0 801.6,524.9 801.8,526.4 801.9,527.5 802.0,526.8 802.3,529.5 802.4,529.7 802.7,530.9 802.8,532.1 803.0,533.1 M804.9,532.4 805.2,531.0 805.4,530.4 805.6,530.3 805.7,529.3 805.8,529.7 806.0,527.5 806.1,527.6 806.3,526.7 806.4,527.8 806.5,527.5 806.8,527.9 806.8,527.4 807.0,527.4 807.2,528.8 807.4,529.2 807.6,530.0 807.7,531.3 808.0,532.1 M816.4,532.4 816.8,531.6 817.2,528.8 817.6,525.5 817.7,523.8 818.0,521.8 818.1,519.3 818.4,517.0 818.6,515.8 818.8,513.7 818.8,512.8 819.1,512.1 819.2,513.0 819.4,513.7 819.6,514.2 819.7,516.2 820.0,518.3 820.1,519.1 820.4,522.6 820.5,523.9 820.8,527.1 821.0,529.3 821.2,529.2 821.6,532.0 821.9,531.8 M828.8,531.8 829.0,531.6 829.2,530.8 829.2,530.2 829.5,529.2 829.6,528.5 829.9,526.7 830.0,526.8 830.1,526.1 830.2,526.1 830.3,525.9 830.4,526.2 830.6,525.4 830.8,526.7 830.8,525.9 831.2,528.7 831.2,528.9 831.4,529.8 831.5,529.0 831.6,530.1 832.0,530.9 832.0,530.3 832.1,530.5 832.4,531.6 832.6,531.2 832.7,529.9 832.8,530.6 832.8,530.2 832.9,529.5 833.2,529.1 833.3,528.2 833.5,527.8 833.6,527.3 833.7,528.3 833.9,528.2 834.0,528.7 834.0,528.3 834.2,528.8 834.4,529.3 834.6,530.6 834.8,531.0 834.9,531.7 835.0,532.4 M838.0,532.4 838.2,530.8 838.4,531.1 838.4,530.9 838.7,529.2 838.8,528.8 839.0,526.8 839.2,525.8 839.4,524.8 839.6,523.4 839.6,522.4 839.6,523.7 839.9,523.5 840.0,522.4 840.1,522.4 840.3,524.0 840.4,524.0 840.7,526.4 840.8,526.6 840.8,527.0 841.0,528.3 841.2,529.9 841.5,531.3 841.6,532.4 M846.0,531.8 846.2,531.7 846.4,531.4 846.4,531.7 846.7,531.3 846.8,531.0 846.9,530.7 847.1,531.3 847.2,531.3 M857.2,532.3 857.5,531.7 857.6,530.5 858.0,529.1 858.0,529.7 858.4,527.0 858.4,527.6 858.6,526.3 858.8,526.8 858.9,526.7 859.2,526.2 859.2,527.2 859.5,527.5 859.6,527.9 859.9,530.0 860.0,530.5 860.3,531.0 860.4,532.0 860.8,532.5 M880.8,532.4 881.1,532.3 881.2,530.9 881.4,530.8 881.6,531.8 881.6,531.3 881.9,532.3 M895.6,533.6 896.0,531.8 896.0,531.7 896.4,531.1 896.5,530.2 896.7,530.9 896.8,529.4 897.0,530.0 897.2,529.7 897.3,530.2 897.6,530.1 897.6,530.4 898.0,532.7 898.0,532.5 898.4,532.7 M922.9,531.5 923.2,531.6 923.2,531.7 923.5,530.9 923.6,531.9 923.9,531.4 924.0,531.8 924.2,532.1" fill="none" stroke="#ff1a1a" stroke-width="1.35" stroke-linejoin="round"/></g>
<g clip-path="url(#ce)"><path d="M548.0,656.9 548.4,657.5 548.8,656.7 549.2,657.6 549.6,657.4 550.0,656.9 550.4,657.1 550.8,657.4 551.2,656.6 551.6,657.2 552.0,657.6 552.4,656.7 552.8,657.5 553.2,657.4 553.6,657.6 554.0,656.8 554.4,656.4 554.8,657.5 555.2,657.5 555.6,656.9 556.0,656.3 556.4,656.5 556.8,657.2 557.2,656.6 557.6,657.7 558.0,657.1 558.4,656.4 558.8,657.1 559.2,656.6 559.6,657.5 560.0,657.5 560.4,656.8 560.8,657.0 561.2,657.1 561.6,657.2 562.0,657.5 562.4,655.9 562.8,656.5 563.2,656.8 563.6,656.3 564.0,656.7 564.4,655.9 564.8,657.2 565.2,656.6 565.6,655.9 566.0,656.7 566.4,656.1 566.8,655.9 567.2,656.3 567.6,655.7 568.0,655.8 568.4,656.8 568.8,656.5 569.2,655.3 569.6,656.5 570.0,655.2 570.4,655.6 570.8,656.4 571.2,655.7 571.6,655.1 572.0,654.9 572.4,654.6 572.8,653.8 572.8,655.1 573.2,653.0 573.5,652.7 M580.8,653.9 581.0,653.3 581.2,653.3 581.6,654.6 581.7,654.2 582.0,654.4 582.4,655.9 582.8,655.0 583.2,656.2 583.3,655.7 583.6,656.7 584.0,656.6 584.4,655.5 584.8,655.7 585.2,657.0 585.6,656.5 586.0,656.2 586.4,656.8 586.8,656.9 587.2,656.4 587.6,656.4 588.0,655.8 588.4,656.2 588.8,655.8 589.2,656.6 589.6,656.5 590.0,655.7 590.4,656.5 590.8,655.6 591.2,655.5 591.6,656.3 592.0,656.0 592.4,656.6 592.8,656.1 593.2,656.1 593.6,655.1 594.0,656.1 594.4,654.8 594.8,655.5 595.2,655.8 595.6,655.6 596.0,655.4 596.4,654.4 596.8,654.5 597.2,654.3 597.6,652.9 598.0,653.7 M609.6,652.5 610.0,652.9 610.4,653.9 610.8,654.7 611.2,654.2 611.6,654.0 612.0,654.5 612.4,654.5 612.8,655.2 613.2,655.6 613.6,655.4 614.0,654.9 614.4,655.1 614.8,655.3 615.2,655.4 615.6,655.4 616.0,656.3 616.4,655.6 616.8,655.8 617.2,655.8 617.6,655.6 618.0,655.8 618.4,655.0 618.8,655.4 619.2,655.7 619.6,654.2 620.0,654.7 620.4,654.0 620.8,653.1 621.1,652.8 621.2,653.8 M631.2,652.6 631.4,653.7 631.6,653.0 632.0,653.9 632.4,653.9 632.8,655.5 633.2,654.2 633.6,655.8 634.0,656.0 634.4,655.3 634.8,656.0 635.2,654.9 635.6,655.1 636.0,654.9 636.4,655.1 636.8,655.0 637.2,656.3 637.6,655.1 638.0,655.9 638.4,655.4 638.8,655.1 639.2,655.5 639.6,655.0 639.9,656.2 640.0,655.2 640.4,655.4 640.8,655.1 641.2,654.8 641.5,654.3 641.6,653.8 641.6,653.6 642.0,654.1 642.3,652.3 M657.0,652.2 657.2,654.0 657.2,654.7 657.3,653.6 657.6,655.0 657.7,654.6 658.0,656.5 658.4,656.7 658.5,656.3 658.8,656.1 659.2,655.5 659.3,655.6 659.6,656.6 660.0,656.8 660.4,657.2 660.8,657.0 660.9,656.3 661.2,656.1 661.6,656.6 662.0,656.3 662.4,656.6 662.8,657.2 663.2,656.5 663.6,657.3 664.0,656.9 664.4,655.9 664.8,657.0 665.2,656.9 665.6,656.8 666.0,655.8 666.4,657.2 666.8,656.6 667.2,656.7 667.6,656.1 668.0,655.9 668.4,655.8 668.8,656.1 669.2,656.3 669.4,656.0 669.6,655.8 670.0,656.9 670.4,656.8 670.8,657.0 671.1,655.9 671.2,656.7 671.6,656.3 672.0,655.3 672.0,656.5 672.4,655.2 672.8,654.0 672.8,653.9 673.2,653.1 M676.0,652.9 676.3,655.2 676.4,654.6 676.8,655.6 677.1,655.8 677.2,656.9 677.6,656.4 678.0,657.1 678.0,655.9 678.4,656.2 678.8,656.9 679.2,656.4 679.6,657.0 679.7,656.7 680.0,656.1 680.4,656.1 680.8,656.6 681.2,656.8 681.6,656.2 682.0,656.3 682.4,655.8 682.8,656.2 683.2,656.2 683.6,656.2 683.7,656.5 684.0,656.9 684.4,656.5 684.8,656.4 685.2,655.4 685.4,655.6 685.6,655.8 686.0,655.6 686.2,654.1 686.4,653.4 686.8,652.1 M695.7,653.5 696.0,653.3 696.0,654.7 696.4,655.1 696.8,655.3 696.9,655.6 697.2,655.8 697.4,656.2 697.6,656.6 697.7,655.9 698.0,655.7 698.4,655.8 698.8,656.8 699.2,656.1 699.4,655.5 699.6,656.3 700.0,655.6 700.4,656.0 700.8,656.6 701.2,656.5 701.6,656.4 702.0,656.9 702.4,656.6 702.8,657.2 703.2,657.0 703.6,656.1 704.0,657.0 704.4,656.3 704.8,657.3 705.2,656.8 705.6,656.5 706.0,656.1 706.4,657.2 706.8,656.4 707.2,655.9 707.6,657.1 708.0,655.9 708.4,656.0 708.8,655.9 709.2,656.9 709.6,656.8 710.0,656.7 710.4,657.4 710.8,656.6 711.2,656.2 711.6,657.5 712.0,656.0 712.2,655.9 712.4,656.1 712.8,657.3 713.2,656.3 713.6,656.1 714.0,656.0 714.0,656.0 714.4,656.5 714.8,656.0 714.8,655.4 715.2,654.8 715.6,654.7 715.7,654.0 716.0,652.0 M719.2,653.6 719.6,653.8 719.8,652.3 M722.8,652.2 723.2,653.8 723.2,653.9 723.6,655.1 724.0,655.0 724.1,655.7 724.4,655.5 724.8,655.8 724.9,656.1 725.2,656.7 725.6,656.7 726.0,656.2 726.4,656.9 726.6,656.4 726.8,656.3 727.2,656.4 727.6,656.3 728.0,656.1 728.4,657.4 728.8,656.8 729.2,656.9 729.6,656.8 730.0,656.7 730.4,656.9 730.8,655.9 731.2,656.0 731.6,656.7 732.0,656.6 732.4,655.9 732.8,656.2 733.2,656.3 733.6,657.4 734.0,657.2 734.4,655.9 734.8,656.5 735.2,656.4 735.6,656.0 736.0,656.3 736.4,657.4 736.8,657.2 737.2,656.2 737.6,657.0 738.0,655.9 738.4,656.7 738.8,655.8 739.2,656.7 739.6,656.5 740.0,657.1 740.4,656.4 740.8,656.9 741.2,655.7 741.6,656.2 742.0,655.4 742.2,655.2 742.4,656.5 742.8,654.8 743.2,655.1 743.6,654.7 743.9,654.2 744.0,655.2 744.4,654.4 744.8,653.0 744.8,653.2 M761.6,651.7 762.0,654.8 762.0,653.7 762.4,655.6 762.8,656.2 762.9,655.1 763.2,655.1 763.6,655.5 763.7,656.2 764.0,656.4 764.4,655.9 764.8,656.8 765.2,655.7 765.4,655.7 765.6,656.3 766.0,656.8 766.4,657.2 766.8,657.4 767.2,657.3 767.6,657.5 768.0,656.9 768.4,656.7 768.8,656.1 769.2,657.0 769.6,657.5 770.0,657.3 770.4,656.8 770.8,657.1 771.2,657.3 771.6,657.7 772.0,657.3 772.4,657.1 772.8,657.6 773.2,657.6 773.6,656.1 774.0,657.6 774.1,656.5 774.4,656.0 774.8,656.4 775.2,656.0 775.6,655.7 776.0,656.9 776.1,656.1 776.4,655.6 776.8,656.3 777.1,655.2 777.2,655.3 777.6,654.7 778.0,653.2 M782.0,652.8 782.4,654.5 782.8,654.6 782.9,654.6 783.0,654.4 783.2,656.1 783.6,655.9 783.9,655.1 784.0,654.9 784.4,655.5 784.8,655.4 784.9,656.0 785.2,655.0 785.6,654.3 785.7,655.3 785.9,654.0 785.9,654.1 786.0,653.9 786.4,654.2 786.8,652.8 M793.6,653.4 794.0,654.2 794.4,655.2 794.5,655.2 794.7,654.7 794.8,655.6 795.2,655.4 795.2,654.4 795.5,655.0 795.6,655.6 796.0,655.8 796.4,655.8 796.8,655.9 797.2,655.8 797.2,656.1 797.4,655.0 797.6,656.0 798.0,655.8 798.1,655.6 798.4,654.4 798.8,654.4 799.1,653.8 799.2,653.4 M803.0,653.2 803.2,653.8 803.6,654.2 803.6,654.9 804.0,655.3 804.0,654.2 804.4,653.9 804.6,653.9 804.8,653.2 805.0,652.7 M808.0,653.1 808.4,654.1 808.5,654.8 808.8,656.3 809.2,656.5 809.5,656.0 809.6,656.1 810.0,656.2 810.4,656.2 810.4,656.3 810.8,656.1 811.2,657.3 811.6,655.9 812.0,656.1 812.4,656.8 812.4,657.2 812.5,656.9 812.8,656.0 813.2,656.5 813.6,657.3 814.0,657.0 814.4,655.9 814.7,657.0 814.8,657.0 815.2,655.4 815.6,656.3 815.8,655.1 816.0,654.6 816.4,654.6 816.8,654.3 816.9,653.4 M821.3,652.2 821.6,653.9 822.0,654.7 822.4,655.2 822.8,655.5 823.2,655.8 823.5,656.3 823.6,656.5 824.0,655.9 824.4,656.3 824.5,655.7 824.8,655.6 825.2,656.1 825.6,655.7 825.7,655.8 826.0,656.3 826.4,656.1 826.4,655.5 826.8,656.1 827.2,656.6 827.4,655.3 827.6,655.9 827.9,655.1 828.0,655.6 828.4,655.2 828.4,655.3 828.8,653.7 829.0,651.9 M835.2,651.9 835.5,653.8 835.6,653.5 835.7,653.5 836.0,654.4 836.2,654.9 836.4,653.9 836.6,655.1 836.7,654.4 836.8,654.7 837.2,654.2 837.6,653.2 837.6,652.4 837.7,652.2 M842.0,652.5 842.0,653.1 842.4,653.9 842.8,655.6 842.8,654.1 843.1,655.8 843.2,655.1 843.6,654.7 843.7,656.0 844.0,655.3 844.2,654.9 844.4,655.7 844.7,655.3 844.8,655.1 845.2,654.3 845.3,653.8 845.6,653.9 845.7,652.3 M847.6,652.7 847.6,653.9 848.0,654.9 848.0,654.8 848.4,655.6 848.6,656.0 848.8,656.4 849.2,656.3 849.6,655.6 850.0,655.6 850.4,655.8 850.6,656.8 850.8,655.8 851.2,655.6 851.6,656.1 851.9,656.0 852.0,656.9 852.4,656.8 852.5,655.6 852.8,656.2 853.2,656.5 853.6,656.0 854.0,657.0 854.2,656.7 854.4,655.5 854.8,655.7 855.2,656.6 855.4,656.5 855.6,655.1 856.0,654.8 856.4,655.0 856.6,654.0 856.8,652.9 857.2,651.6 M860.8,651.8 861.2,653.4 861.3,654.6 861.6,655.4 862.0,655.2 862.4,655.4 862.4,655.3 862.8,656.0 863.2,656.9 863.6,656.8 863.6,657.0 864.0,656.9 864.4,656.5 864.8,655.9 865.2,656.1 865.6,656.1 866.0,657.5 866.0,656.7 866.4,657.4 866.8,656.6 867.2,656.4 867.6,657.2 868.0,656.5 868.4,657.6 868.8,657.0 869.2,656.8 869.6,656.8 870.0,657.4 870.4,656.8 870.8,656.8 871.2,657.7 871.6,657.3 872.0,656.5 872.4,657.6 872.8,657.0 873.2,656.7 873.6,656.7 874.0,657.5 874.3,656.6 874.4,657.3 874.8,656.5 875.2,656.8 875.6,657.1 876.0,656.5 876.4,656.2 876.7,656.8 876.8,657.1 877.2,656.1 877.6,656.7 877.8,656.4 878.0,657.0 878.4,655.9 878.8,655.7 879.0,655.4 879.2,656.4 879.6,655.4 879.7,655.3 880.0,654.3 880.2,654.1 880.4,652.2 M882.4,653.2 882.5,654.1 882.8,653.8 883.0,655.0 883.2,654.4 883.6,655.6 883.7,655.8 884.0,655.7 884.4,656.1 884.8,655.7 884.9,657.0 885.2,655.9 885.6,656.4 886.0,656.1 886.1,656.6 886.4,656.4 886.8,657.1 887.2,656.9 887.6,657.2 888.0,656.7 888.4,655.8 888.8,657.1 889.2,656.2 889.6,657.1 890.0,656.9 890.0,656.2 890.4,657.3 890.8,656.9 891.2,656.5 891.6,656.1 892.0,656.0 892.3,655.8 892.4,655.7 892.8,656.0 893.2,655.9 893.5,656.9 893.6,655.9 894.0,656.8 894.4,655.7 894.7,654.8 894.7,654.5 894.8,655.9 895.2,653.5 895.4,653.5 895.6,652.6 M898.6,653.0 898.8,653.8 899.2,654.3 899.4,655.6 899.4,655.1 899.6,654.9 900.0,655.0 900.1,654.8 900.4,653.5 900.5,653.7 900.6,653.6 M902.8,652.8 903.0,654.2 903.2,654.4 903.4,655.7 903.6,656.0 904.0,656.7 904.0,656.7 904.1,657.0 904.4,657.3 904.8,657.1 905.2,657.6 905.3,656.6 905.6,656.4 906.0,657.7 906.4,657.3 906.5,657.4 906.8,656.5 907.2,656.8 907.6,657.7 908.0,656.8 908.4,657.9 908.8,658.0 908.8,657.7 909.0,656.7 909.2,657.6 909.6,658.0 910.0,656.6 910.4,657.1 910.8,656.6 911.2,657.9 911.4,656.6 911.6,657.7 912.0,657.6 912.4,657.5 912.5,657.7 912.8,657.5 913.2,656.1 913.6,656.9 913.7,656.0 914.0,656.6 914.4,654.7 914.4,654.5 914.8,653.6 914.9,653.0 M917.2,652.8 917.6,654.2 917.7,654.6 918.0,656.0 918.4,656.1 918.4,656.5 918.8,656.5 918.9,656.1 919.2,655.9 919.6,656.6 919.6,656.5 920.0,655.5 920.0,655.6 920.4,656.8 920.8,655.5 920.8,655.0 921.2,655.8 921.6,655.0 921.9,653.3 M925.2,652.8 925.6,654.5 925.9,654.7 926.0,655.0 926.4,656.5 926.8,656.7 927.1,657.0 927.2,656.4 927.6,656.0 928.0,656.7 928.2,656.2 928.4,656.3 928.8,656.4 929.2,657.1 929.6,657.1 930.0,656.4 930.4,657.4 930.6,657.4 930.8,656.3 931.2,656.2 931.6,656.9 932.0,656.4 932.1,657.7 932.4,656.4 932.8,657.1 933.2,656.2 933.6,657.1 934.0,656.6 934.4,656.5 934.5,656.8 934.8,656.5 935.2,657.1 935.6,657.4 935.7,656.4 936.0,656.5 936.4,656.6 936.8,657.0 936.8,655.7 937.2,655.5 937.5,654.8 937.6,655.9 938.0,653.8 938.0,654.6 938.4,653.5 M940.0,652.5 940.4,654.4 940.4,653.7 940.8,654.5 940.8,655.1 941.2,655.9 941.5,656.1 941.6,656.6 942.0,657.0 942.4,657.5 942.7,657.1 942.8,657.3 943.2,656.2 943.6,657.2 943.9,657.0 944.0,656.6 944.4,656.2 944.8,657.7 945.2,656.4 945.6,656.4 946.0,656.6 946.2,656.4 946.4,657.1 946.7,656.9 946.8,656.5 947.2,656.8 947.6,657.3 947.9,656.7 948.0,657.4 948.4,656.9 948.8,655.8 949.1,655.9 949.2,655.2 949.6,654.2 949.8,653.5 950.0,653.7 M952.8,653.4 953.1,654.3 953.2,655.1 953.6,656.3 953.8,655.8 954.0,656.2 954.4,655.8 954.8,656.6 955.0,656.4 955.2,656.0 955.6,657.6 956.0,656.1 956.1,656.4" fill="none" stroke="#1a1aff" stroke-width="1.6" stroke-linejoin="round"/><path d="M573.2,653.0 573.5,652.7 573.6,653.1 573.9,651.1 574.0,651.5 574.3,647.0 574.4,647.1 574.8,637.0 575.1,623.4 575.2,619.1 575.4,610.1 575.5,603.1 575.6,598.6 575.6,597.2 575.7,592.0 575.9,590.1 576.0,590.5 576.0,591.1 576.2,597.8 576.3,599.7 576.4,606.7 576.4,609.2 576.7,620.1 576.8,624.8 577.0,631.0 577.0,633.1 577.2,634.9 577.5,634.7 577.5,634.3 577.6,633.7 577.8,626.7 578.0,621.1 578.1,619.2 578.2,612.4 578.3,609.8 578.4,607.3 578.5,606.1 578.6,604.2 578.8,606.5 578.8,607.0 578.9,611.8 579.0,614.5 579.2,621.0 579.2,623.2 579.4,631.3 579.6,637.4 579.7,641.0 580.0,646.6 580.2,649.2 580.4,651.3 580.6,652.8 580.8,653.9 581.0,653.3 M597.6,652.9 598.0,653.7 598.4,653.0 598.6,651.9 598.8,652.1 599.2,650.7 599.6,649.2 600.0,648.4 600.3,645.6 600.4,646.4 600.8,643.8 601.2,638.3 601.2,639.2 601.6,630.1 602.0,614.8 602.1,609.3 602.4,578.5 602.6,550.9 602.8,508.8 602.9,476.8 603.2,410.7 603.2,406.4 603.4,344.2 603.6,313.9 603.6,310.4 603.8,299.5 604.0,311.6 604.0,316.9 604.1,343.8 604.4,410.5 604.4,413.5 604.6,479.2 604.8,513.4 605.0,549.6 605.2,581.3 605.5,609.4 605.6,615.8 606.0,631.4 606.4,638.5 606.4,638.3 606.8,642.6 607.2,646.1 607.2,645.5 607.6,648.1 608.0,649.0 608.4,650.4 608.8,651.1 609.0,652.0 609.2,652.2 609.6,652.5 610.0,652.9 M621.1,652.8 621.2,653.8 621.6,652.2 622.0,652.4 622.4,650.4 622.8,649.4 623.2,647.0 623.6,644.9 623.7,644.7 624.0,639.4 624.4,629.5 624.5,624.9 624.8,606.0 625.0,583.4 625.2,561.5 625.4,532.9 625.6,491.5 625.6,484.6 625.9,438.7 626.0,423.2 626.1,417.1 626.2,407.8 626.4,416.4 626.4,417.0 626.6,438.6 626.8,477.7 626.8,485.2 627.1,532.6 627.2,549.3 627.4,582.2 627.6,600.2 628.0,624.8 628.0,626.7 628.4,637.9 628.8,644.2 628.8,643.9 629.2,647.7 629.6,649.7 629.7,650.4 630.0,651.1 630.4,652.1 630.8,653.1 631.2,652.6 631.4,653.7 M642.0,654.1 642.3,652.3 642.4,652.2 642.8,650.6 643.0,647.6 643.2,646.0 643.2,645.4 643.5,636.9 643.6,633.0 643.8,624.2 644.0,616.8 644.0,615.3 644.1,611.5 644.3,599.8 644.4,595.4 644.5,593.2 644.6,590.9 644.7,591.6 644.8,590.7 644.8,592.7 644.9,595.9 645.2,604.3 645.2,604.8 645.2,605.0 645.4,609.9 645.5,612.8 645.6,614.3 645.7,614.0 645.8,613.4 646.0,612.6 646.1,611.5 646.2,612.4 646.3,613.2 646.4,614.7 646.5,614.5 646.6,619.2 646.8,624.7 646.9,628.0 646.9,630.3 647.0,630.4 647.1,635.6 647.2,638.0 647.4,643.2 647.6,646.2 647.7,647.8 647.9,650.1 648.0,650.8 648.4,652.0 648.6,652.9 648.7,652.6 648.8,652.9 649.2,651.8 649.3,651.9 649.4,651.7 649.5,652.4 649.6,652.4 650.0,650.3 650.4,648.0 650.4,647.1 650.8,640.9 650.9,638.7 651.0,634.2 651.2,628.4 651.2,626.7 651.5,614.8 651.5,614.7 651.6,609.5 651.8,604.2 651.9,599.4 652.0,596.8 652.1,596.3 652.3,598.9 652.4,603.4 652.4,604.6 652.7,615.0 652.8,619.5 653.0,626.8 653.0,630.1 653.2,636.3 653.3,638.9 653.6,645.9 653.8,649.3 653.8,649.0 654.0,651.0 654.4,652.0 654.6,652.0 654.7,653.4 654.8,652.2 655.1,653.5 655.2,652.4 655.4,651.2 655.5,651.0 655.6,651.5 655.6,650.8 655.9,650.3 656.0,649.1 656.0,650.2 656.2,649.4 656.3,650.4 656.4,649.6 656.5,650.8 656.7,651.7 656.8,652.0 657.0,652.2 657.2,654.0 M672.8,653.9 673.2,653.1 673.3,650.8 673.6,648.2 673.7,647.5 673.9,643.5 674.0,643.1 674.2,639.4 674.4,638.3 674.4,638.4 674.5,638.0 674.7,638.6 674.8,638.8 674.9,640.4 675.1,644.4 675.2,644.5 675.4,647.6 675.6,650.4 675.8,650.9 676.0,652.9 676.3,655.2 M686.4,653.4 686.8,652.1 687.1,651.1 687.1,651.3 687.2,649.3 687.6,644.0 687.6,643.4 688.0,634.3 688.0,633.3 688.2,624.1 688.4,619.4 688.5,615.8 688.7,611.5 688.8,610.5 688.8,610.6 688.8,609.9 689.0,611.7 689.1,613.8 689.2,615.3 689.2,616.2 689.4,623.6 689.6,629.7 689.6,631.5 689.7,632.9 690.0,641.5 690.0,642.0 690.4,647.2 690.5,647.8 690.5,648.5 690.8,648.5 690.8,648.4 691.0,647.8 691.2,647.7 691.4,645.4 691.4,645.2 691.6,643.3 691.6,643.3 691.7,642.8 691.9,640.5 692.0,639.6 692.1,638.5 692.2,639.1 692.3,638.8 692.4,638.6 692.5,639.4 692.6,639.9 692.8,641.0 692.8,642.1 693.1,644.0 693.1,643.2 693.2,643.7 693.4,643.3 693.4,644.3 693.6,642.8 693.7,642.4 693.9,641.3 694.0,640.6 694.0,641.2 694.0,640.4 694.1,640.3 694.3,639.7 694.4,640.6 694.4,640.7 694.6,641.7 694.8,645.0 694.8,643.9 694.9,645.3 695.1,648.5 695.2,648.9 695.5,651.2 695.6,652.2 695.7,653.5 696.0,653.3 M715.7,654.0 716.0,652.0 716.2,649.6 716.3,649.4 716.4,647.6 716.5,646.2 716.8,641.4 717.1,637.0 717.2,634.3 717.2,635.4 717.4,634.6 717.6,634.1 717.6,634.3 717.8,637.0 718.0,641.0 718.0,640.4 718.0,642.2 718.3,644.4 718.4,647.2 718.6,649.5 718.8,650.9 718.9,652.2 719.1,652.8 719.2,653.6 719.6,653.8 M719.6,653.8 719.8,652.3 720.0,652.0 720.0,652.3 720.3,650.0 720.4,649.3 720.6,645.8 720.8,643.4 720.9,643.3 720.9,642.4 721.1,638.7 721.2,638.4 721.3,637.7 721.5,637.1 721.6,637.4 721.7,637.6 721.8,639.3 722.0,642.3 722.1,643.7 722.4,647.6 722.4,648.3 722.6,649.9 722.7,650.4 722.8,652.2 723.2,653.8 M744.8,653.0 744.8,653.2 745.2,652.1 745.6,647.5 745.6,648.2 746.0,641.4 746.1,637.4 746.4,627.4 746.5,623.5 746.7,610.9 746.8,607.9 747.0,599.4 747.2,593.3 747.2,593.5 747.3,591.1 747.5,593.1 747.6,596.7 747.7,599.1 747.9,610.6 748.0,612.7 748.0,613.4 748.2,623.3 748.4,631.4 748.5,636.2 748.8,642.1 749.1,647.2 749.2,648.0 749.6,649.7 749.7,650.4 749.9,650.3 750.0,650.6 750.4,650.5 750.5,649.6 750.8,649.9 750.8,648.5 751.0,648.6 751.2,646.3 751.4,643.7 751.6,639.1 751.9,629.4 752.0,625.6 752.3,612.3 752.4,603.7 752.5,596.2 752.5,594.8 752.7,582.1 752.8,578.8 752.8,578.4 753.0,572.1 753.1,569.3 753.2,568.6 753.3,571.6 753.5,579.2 753.6,586.1 753.7,593.6 754.0,611.0 754.0,611.8 754.3,626.9 754.4,629.2 754.5,630.6 754.8,634.8 754.8,634.8 755.0,634.1 755.1,633.9 755.2,632.4 755.3,630.5 755.6,622.7 755.6,621.9 755.7,619.6 755.8,616.9 756.0,612.7 756.0,613.6 756.2,612.2 756.4,614.0 756.4,613.9 756.5,618.1 756.6,618.3 756.8,625.8 756.8,625.3 756.8,626.4 757.0,633.7 757.2,637.6 757.4,642.3 757.6,645.2 757.7,646.5 757.9,649.3 758.0,649.5 758.3,651.7 758.4,650.9 758.5,650.9 758.8,650.8 758.8,651.0 759.1,649.3 759.2,649.5 759.4,646.5 759.6,645.0 759.6,645.2 759.7,643.8 759.9,641.0 760.0,640.8 760.1,640.8 760.3,640.4 760.4,640.8 760.4,640.8 760.6,641.2 760.8,644.8 760.9,644.4 761.1,647.2 761.2,648.9 761.4,649.5 761.5,650.6 761.6,651.7 762.0,654.8 M777.6,654.7 778.0,653.2 778.0,653.6 778.4,650.2 778.6,648.9 778.8,645.8 779.0,642.1 779.2,638.4 779.3,637.2 779.6,630.6 779.8,628.1 780.0,626.9 780.0,626.7 780.2,627.5 780.4,631.1 780.4,631.6 780.7,636.2 780.8,638.7 781.0,642.6 781.2,645.1 781.4,647.7 781.6,650.9 782.0,652.5 782.0,652.8 782.4,654.5 M786.4,654.2 786.8,652.8 786.9,651.4 787.2,649.1 787.5,645.7 787.6,643.2 787.6,642.8 787.9,637.7 788.0,635.1 788.1,630.6 788.4,624.5 788.5,623.5 788.6,620.4 788.6,621.6 788.8,619.1 788.8,619.6 789.0,619.5 789.2,623.2 789.2,623.5 789.5,629.2 789.6,631.3 789.8,633.8 790.0,637.3 790.2,637.8 790.2,639.2 790.4,637.9 790.6,637.7 790.8,636.2 790.8,636.0 790.9,635.7 791.2,631.0 791.2,632.0 791.4,629.3 791.6,630.3 791.6,630.2 791.8,629.9 791.8,630.1 792.0,632.5 792.0,633.2 792.2,637.4 792.4,640.3 792.5,643.1 792.8,646.1 792.8,646.3 792.9,649.0 793.2,650.9 793.5,652.6 793.6,653.4 794.0,654.2 M799.1,653.8 799.2,653.4 799.6,649.8 799.7,648.5 800.0,645.8 800.1,643.5 800.4,639.6 800.7,634.8 800.7,634.4 800.8,634.3 800.9,633.0 801.1,631.3 801.2,632.3 801.3,632.5 801.5,635.0 801.6,637.2 801.8,640.2 802.0,642.5 802.1,643.4 802.4,649.2 802.5,648.5 802.6,651.1 802.8,652.1 803.0,653.2 803.2,653.8 M804.8,653.2 805.0,652.7 805.2,652.4 805.2,651.2 805.5,649.4 805.6,647.9 805.8,645.7 806.0,644.7 806.1,643.3 806.3,642.4 806.4,641.7 806.5,641.0 806.7,642.3 806.8,641.9 806.9,642.5 807.0,643.2 807.2,646.8 807.2,645.3 807.5,649.6 807.6,650.3 807.9,652.5 808.0,653.1 808.4,654.1 M816.8,654.3 816.9,653.4 817.2,650.9 817.6,648.4 817.6,647.3 818.0,642.3 818.0,641.6 818.4,635.8 818.4,634.6 818.7,630.1 818.8,628.2 818.9,627.7 819.1,626.0 819.2,626.7 819.3,627.0 819.5,629.1 819.6,630.7 819.9,636.1 820.0,637.7 820.2,641.4 820.4,644.7 820.6,647.4 820.8,648.9 821.2,652.3 821.3,652.2 821.6,653.9 M828.8,653.7 829.0,651.9 829.2,651.3 829.4,648.8 829.6,647.8 829.6,647.1 829.8,645.9 830.0,644.0 830.0,644.4 830.1,642.9 830.3,641.7 830.4,643.1 830.5,642.2 830.7,644.2 830.8,644.8 830.8,644.8 831.0,646.6 831.2,648.6 831.3,649.1 831.6,649.8 831.7,651.1 831.8,652.0 832.0,652.2 832.3,651.4 832.4,651.3 832.4,651.6 832.8,649.8 832.8,648.4 833.1,646.9 833.2,646.0 833.3,644.9 833.3,645.8 833.4,645.3 833.5,643.8 833.6,644.1 833.7,644.6 833.9,644.2 834.0,644.0 834.1,645.2 834.2,646.5 834.4,646.8 834.4,647.8 834.7,650.1 834.8,649.7 835.1,652.3 835.2,651.9 835.5,653.8 M837.6,652.4 837.7,652.2 838.0,651.0 838.3,649.5 838.4,648.2 838.8,642.9 838.8,643.3 839.1,638.6 839.2,636.6 839.4,634.2 839.6,632.6 839.6,632.6 839.6,631.6 839.9,631.3 840.0,631.7 840.1,631.2 840.3,633.8 840.4,634.7 840.6,639.2 840.8,642.0 841.0,644.0 841.2,646.6 841.4,649.4 841.6,650.5 842.0,652.5 842.0,653.1 M845.6,653.9 845.7,652.3 846.0,651.0 846.0,651.6 846.3,650.8 846.4,649.9 846.4,650.7 846.5,650.5 846.7,649.8 846.8,650.4 846.9,650.6 847.1,650.1 847.2,650.8 847.4,652.5 847.6,652.7 847.6,653.9 M856.8,652.9 857.2,651.6 857.3,651.1 857.6,647.3 857.7,646.6 858.0,643.9 858.1,642.5 858.4,639.0 858.4,639.6 858.7,636.5 858.8,636.0 858.9,636.4 859.1,636.5 859.2,637.0 859.4,638.8 859.6,641.3 859.7,643.4 860.0,645.4 860.1,646.3 860.4,649.8 860.6,650.8 860.8,651.8 861.2,653.4 M880.2,654.1 880.4,652.2 880.5,651.2 880.8,651.2 880.9,650.1 881.1,649.4 881.2,649.2 881.4,650.0 881.6,650.5 881.8,650.0 882.0,650.9 882.2,652.6 882.4,653.2 882.5,654.1 M895.4,653.5 895.6,652.6 895.8,650.8 896.0,649.5 896.2,648.9 896.4,647.5 896.5,646.6 896.8,645.1 896.8,645.0 897.0,645.2 897.1,644.9 897.2,645.9 897.2,645.8 897.5,646.5 897.6,647.4 897.8,649.1 898.0,650.4 898.2,651.7 898.2,651.4 898.4,652.1 898.6,653.0 898.8,653.8 M900.5,653.7 900.6,653.6 900.8,652.3 901.0,652.1 901.2,651.4 901.3,650.0 901.5,650.5 901.6,649.9 901.7,649.8 901.8,650.5 902.0,649.8 902.0,649.5 902.2,651.0 902.4,651.1 902.6,652.9 902.8,652.8 903.0,654.2 M914.8,653.6 914.9,653.0 915.2,652.0 915.2,651.5 915.6,649.9 915.6,650.1 915.8,650.1 916.0,648.9 916.1,649.5 916.3,649.6 916.4,649.3 916.5,649.3 916.5,650.0 916.8,651.0 916.9,651.1 917.2,652.9 917.2,652.8 917.6,654.2 M921.6,655.0 921.9,653.3 922.0,653.0 922.4,650.1 922.4,650.0 922.7,648.0 922.8,646.6 923.1,645.1 923.1,645.4 923.2,644.5 923.3,644.5 923.5,644.5 923.6,644.6 923.8,645.0 924.0,645.1 924.0,645.5 924.4,647.7 924.4,647.6 924.7,649.6 924.8,650.7 925.2,653.5 925.2,652.8 925.6,654.5 M938.0,654.6 938.4,653.5 938.4,653.4 938.7,651.7 938.8,651.3 939.0,650.9 939.2,651.0 939.2,651.6 939.4,650.9 939.6,652.3 939.7,652.3 940.0,652.3 940.0,652.5 940.4,654.4 M949.8,653.5 950.0,653.7 950.3,651.6 950.4,652.0 950.6,649.3 950.8,649.3 951.0,647.7 951.2,646.6 951.4,647.0 951.6,647.3 951.7,646.9 951.9,647.8 952.0,648.0 952.3,650.3 952.4,650.7 952.6,652.7 952.8,653.4 953.1,654.3" fill="none" stroke="#1a1aff" stroke-width="1.35" stroke-linejoin="round"/></g>
<rect x="548.0" y="377.0" width="408.2" height="290.5" fill="none" stroke="#3a3a3a" stroke-width="1.5"/>
<line x1="616.03" y1="667.50" x2="616.03" y2="664.30" stroke="#3a3a3a" stroke-width="1.2" />
<line x1="684.07" y1="667.50" x2="684.07" y2="661.00" stroke="#3a3a3a" stroke-width="1.2" />
<line x1="752.10" y1="667.50" x2="752.10" y2="664.30" stroke="#3a3a3a" stroke-width="1.2" />
<line x1="820.13" y1="667.50" x2="820.13" y2="661.00" stroke="#3a3a3a" stroke-width="1.2" />
<line x1="888.17" y1="667.50" x2="888.17" y2="664.30" stroke="#3a3a3a" stroke-width="1.2" />
<line x1="662.00" y1="391.30" x2="710.90" y2="391.30" stroke="#f26d6d" stroke-width="2.0" />
<line x1="662.00" y1="424.30" x2="710.90" y2="424.30" stroke="#6d6df2" stroke-width="2.0" />
<line x1="556.10" y1="510.50" x2="561.60" y2="522.40" stroke="#111" stroke-width="2.2" stroke-linecap="round"/>
<line x1="567.60" y1="510.50" x2="561.60" y2="522.40" stroke="#222" stroke-width="1.1" stroke-linecap="round"/>
<line x1="555.60" y1="510.50" x2="567.60" y2="510.50" stroke="#222" stroke-width="1.3" stroke-linecap="round"/>
<line x1="683.65" y1="496.20" x2="689.00" y2="508.10" stroke="#111" stroke-width="2.2" stroke-linecap="round"/>
<line x1="694.85" y1="496.20" x2="689.00" y2="508.10" stroke="#222" stroke-width="1.1" stroke-linecap="round"/>
<line x1="683.15" y1="496.20" x2="694.85" y2="496.20" stroke="#222" stroke-width="1.3" stroke-linecap="round"/>
<line x1="695.50" y1="490.10" x2="701.00" y2="502.00" stroke="#111" stroke-width="2.2" stroke-linecap="round"/>
<line x1="707.00" y1="490.10" x2="701.00" y2="502.00" stroke="#222" stroke-width="1.1" stroke-linecap="round"/>
<line x1="695.00" y1="490.10" x2="707.00" y2="490.10" stroke="#222" stroke-width="1.3" stroke-linecap="round"/>
<line x1="823.00" y1="472.60" x2="829.10" y2="486.00" stroke="#111" stroke-width="2.2" stroke-linecap="round"/>
<line x1="835.70" y1="472.60" x2="829.10" y2="486.00" stroke="#222" stroke-width="1.1" stroke-linecap="round"/>
<line x1="822.50" y1="472.60" x2="835.70" y2="472.60" stroke="#222" stroke-width="1.3" stroke-linecap="round"/>
<line x1="837.20" y1="479.20" x2="879.90" y2="479.20" stroke="#222" stroke-width="2.0" />
<g clip-path="url(#cf)"><path d="M1012.8,551.1 1013.1,551.9 1013.5,551.1 1013.9,551.1 1014.2,551.8 1014.5,552.5 1014.9,551.1 1015.2,551.3 1015.6,552.1 1016.0,552.7 1016.3,551.9 1016.6,551.5 1017.0,552.7 1017.4,550.8 1017.7,552.4 1018.0,551.3 1018.4,551.0 1018.8,550.9 1019.1,551.3 1019.4,552.3 1019.5,551.0 1019.8,551.8 1020.1,551.9 1020.5,551.3 1020.9,551.7 1021.2,550.7 1021.5,550.7 1021.9,550.9 1022.2,551.9 1022.3,551.3 1022.6,551.1 1023.0,551.6 1023.3,551.3 1023.4,551.0 1023.6,551.9 1023.8,551.7 1024.0,550.8 1024.3,551.3 1024.7,551.1 1025.0,551.5 1025.2,551.1 1025.4,550.0 1025.8,550.9 1026.1,548.5 1026.1,549.0 1026.3,549.2 1026.5,547.6 1026.7,547.4 M1033.8,547.6 1034.0,548.4 1034.2,548.8 1034.2,549.0 1034.5,550.1 1034.8,550.9 1035.1,550.6 1035.2,550.2 1035.5,551.3 1035.9,551.4 1036.2,551.9 1036.6,552.8 1036.6,552.3 1037.0,552.0 1037.0,552.2 1037.3,552.4 1037.7,551.2 1038.0,552.9 1038.0,552.7 1038.3,552.9 1038.7,552.8 1039.0,552.0 1039.4,552.1 1039.8,551.5 1040.1,552.6 1040.5,551.4 1040.8,551.5 1041.0,551.8 1041.2,551.7 1041.5,552.0 1041.8,551.5 1042.2,551.4 1042.5,551.7 1042.9,551.6 1043.2,552.1 1043.6,551.4 1044.0,553.1 1044.3,552.6 1044.7,551.7 1045.0,551.9 1045.3,552.1 1045.7,552.1 1046.0,551.6 1046.4,553.1 1046.8,553.4 1047.1,552.3 1047.5,552.3 1047.8,551.5 1048.2,551.6 1048.5,552.0 1048.8,551.9 1049.2,553.0 1049.5,551.7 1049.9,551.4 1050.2,553.2 1050.6,552.4 1051.0,551.6 1051.3,552.4 1051.7,551.4 1052.0,552.4 1052.3,553.3 1052.7,553.0 1053.0,552.7 1053.4,551.8 1053.8,552.0 1054.1,551.6 1054.5,552.8 1054.8,552.4 1055.2,552.8 1055.5,551.9 1055.8,551.7 1056.2,552.9 1056.5,553.2 1056.9,553.0 1057.2,552.9 1057.6,552.9 1058.0,552.7 1058.3,551.7 1058.7,552.3 1059.0,552.0 1059.3,551.3 1059.7,551.3 1060.0,551.8 1060.4,551.7 1060.8,552.6 1061.1,553.1 1061.5,552.1 1061.8,553.1 1062.2,553.1 1062.5,553.1 1062.8,551.9 1063.2,551.5 1063.5,551.5 1063.9,551.5 1064.2,551.4 1064.6,552.2 1065.0,552.8 1065.3,552.6 1065.7,551.8 1066.0,552.1 1066.3,552.4 1066.7,550.9 1067.0,552.0 1067.4,552.4 1067.8,552.1 1068.1,551.9 1068.5,551.3 1068.8,550.6 1069.2,551.7 1069.5,550.7 1069.8,551.5 1070.2,551.7 1070.5,550.3 1070.9,550.1 1071.0,551.2 1071.0,550.7 1071.2,549.4 1071.6,549.1 1072.0,548.8 1072.0,550.2 1072.3,549.7 1072.6,547.9 M1087.3,548.1 1087.7,547.7 1088.0,548.3 1088.4,548.3 1088.8,549.7 1089.1,550.2 1089.5,550.6 1089.5,549.1 1089.8,550.4 1090.2,550.4 1090.5,549.6 1090.8,551.2 1091.2,551.4 1091.5,550.1 1091.9,551.6 1092.2,550.6 1092.6,550.8 1093.0,551.9 1093.3,551.7 1093.7,550.4 1094.0,551.0 1094.3,551.2 1094.7,550.9 1095.0,550.7 1095.4,551.0 1095.8,551.8 1096.1,550.5 1096.5,551.6 1096.8,551.4 1097.2,550.5 1097.5,551.2 1097.8,551.8 1098.2,551.6 1098.5,550.7 1098.9,552.6 1099.2,552.2 1099.6,552.6 1100.0,550.9 1100.3,551.2 1100.7,550.8 1101.0,552.3 1101.3,551.3 1101.7,551.0 1102.0,551.6 1102.4,552.5 1102.8,552.3 1103.1,551.2 1103.5,551.0 1103.8,552.5 1104.2,551.8 1104.5,552.0 1104.8,550.8 1105.2,550.7 1105.5,551.9 1105.7,551.3 1105.9,550.6 1106.2,552.2 1106.6,551.5 1107.0,551.8 1107.3,550.2 1107.7,551.6 1107.9,549.9 1108.0,551.4 1108.3,550.3 1108.7,549.8 1109.0,549.8 1109.0,550.5 1109.4,548.5 1109.8,547.2 M1119.9,547.6 1120.2,548.1 1120.6,549.6 1121.0,550.3 1121.0,550.4 1121.3,550.1 1121.7,550.9 1122.0,550.1 1122.1,550.6 1122.3,550.4 1122.7,551.1 1123.0,550.5 1123.4,550.6 1123.8,551.2 1124.1,551.1 1124.3,551.9 1124.5,551.8 1124.8,552.3 1125.2,552.1 1125.5,552.3 1125.8,552.6 1126.2,551.7 1126.5,551.6 1126.9,552.9 1127.2,551.3 1127.6,552.4 1128.0,552.3 1128.3,551.1 1128.7,552.7 1129.0,552.8 1129.3,552.3 1129.7,552.5 1130.0,552.7 1130.4,551.3 1130.8,552.1 1131.1,552.0 1131.5,552.7 1131.8,552.6 1132.2,552.7 1132.5,552.2 1132.8,552.8 1133.2,552.4 1133.5,552.4 1133.9,551.4 1134.2,551.0 1134.6,551.2 1134.9,551.6 1135.0,551.1 1135.3,552.6 1135.7,552.0 1136.0,552.1 1136.3,552.0 1136.7,552.1 1137.0,551.7 1137.4,550.6 1137.8,552.1 1137.8,552.0 1138.1,551.5 1138.5,551.4 1138.8,551.6 1139.2,550.2 1139.3,551.5 1139.5,550.4 1139.8,549.8 1140.2,549.9 1140.5,550.3 1140.8,548.7 1140.9,549.5 1141.2,548.8 M1146.2,548.1 1146.5,548.0 1146.7,550.0 1146.8,550.3 1147.2,549.0 1147.5,550.2 1147.9,551.2 1148.1,551.6 1148.2,550.6 1148.6,550.3 1149.0,550.3 1149.3,551.9 1149.6,550.4 1149.7,551.2 1150.0,550.4 1150.3,551.1 1150.7,552.0 1151.0,550.4 1151.4,551.8 1151.8,551.2 1152.1,551.9 1152.5,551.6 1152.5,550.6 1152.8,551.9 1153.2,551.1 1153.5,550.2 1153.8,550.1 1154.2,551.0 1154.5,550.9 1154.9,550.6 1155.2,550.2 1155.6,550.6 1156.0,550.5 1156.0,551.5 1156.3,549.8 1156.7,551.2 1157.0,551.3 1157.3,549.7 1157.7,551.2 1158.0,550.6 1158.4,550.8 1158.6,549.4 1158.8,549.5 1159.1,549.2 1159.5,550.1 1159.8,548.8 1159.9,548.1 1160.2,547.8 M1167.2,547.1 1167.5,548.9 1167.6,549.6 1167.8,548.5 1168.2,549.8 1168.5,549.4 1168.9,550.3 1168.9,549.9 1169.2,549.7 1169.6,549.9 1170.0,550.2 1170.3,551.7 1170.7,551.0 1171.0,550.6 1171.3,552.1 1171.5,552.3 1171.7,551.3 1172.0,550.7 1172.4,550.9 1172.8,550.8 1173.1,551.3 1173.5,550.9 1173.8,551.2 1174.2,551.3 1174.5,552.0 1174.8,552.7 1175.2,552.4 1175.5,551.8 1175.9,551.8 1176.2,552.1 1176.6,551.8 1177.0,551.7 1177.3,551.2 1177.7,551.7 1178.0,553.1 1178.3,551.4 1178.7,552.2 1179.0,552.4 1179.4,552.9 1179.8,551.6 1180.1,551.8 1180.5,551.7 1180.8,552.0 1181.2,552.1 1181.5,553.1 1181.8,552.9 1182.2,553.0 1182.5,551.3 1182.9,551.3 1183.2,552.7 1183.6,553.0 1184.0,552.2 1184.3,552.4 1184.7,551.2 1185.0,552.0 1185.3,553.1 1185.7,552.9 1186.0,552.9 1186.4,553.1 1186.8,551.7 1187.1,551.4 1187.5,551.5 1187.8,552.2 1188.2,552.5 1188.5,553.0 1188.8,552.6 1189.2,552.4 1189.5,552.6 1189.9,552.0 1190.2,552.2 1190.6,551.1 1191.0,552.6 1191.3,551.5 1191.7,552.8 1192.0,552.3 1192.3,551.6 1192.7,551.2 1193.0,551.5 1193.4,552.2 1193.8,552.3 1194.1,551.1 1194.5,551.0 1194.8,551.9 1195.2,552.0 1195.5,551.6 1195.5,551.3 1195.8,552.0 1196.2,550.8 1196.5,551.4 1196.9,551.7 1197.2,552.7 1197.6,552.0 1198.0,552.5 1198.0,551.6 1198.3,551.1 1198.7,551.1 1199.0,552.5 1199.3,551.9 1199.3,551.1 1199.7,550.4 1200.0,551.1 1200.4,551.2 1200.6,550.4 1200.8,549.9 1201.1,549.9 1201.4,549.6 1201.5,547.9 1201.8,546.0 M1204.6,547.2 1205.0,548.0 1205.0,548.2 1205.3,549.6 1205.7,550.8 1205.7,551.5 1205.8,549.9 1206.0,550.7 1206.3,550.6 1206.7,552.3 1207.0,550.7 1207.0,550.6 1207.4,550.6 1207.8,551.3 1208.1,552.3 1208.3,552.3 1208.5,552.0 1208.7,552.5 1208.8,552.3 1209.2,551.0 1209.5,550.6 1209.8,552.0 1210.1,551.5 1210.2,550.0 1210.5,550.9 1210.9,549.9 1211.2,549.3 1211.6,548.2 M1217.5,549.3 1217.9,550.6 1218.2,550.1 1218.6,550.3 1218.9,552.0 1219.0,551.3 1219.3,550.8 1219.7,551.9 1220.0,551.2 1220.3,551.2 1220.4,550.7 1220.7,552.2 1221.0,552.6 1221.4,552.1 1221.8,552.8 1222.1,551.0 1222.5,551.4 1222.8,551.9 1223.2,552.9 1223.3,552.9 1223.5,551.7 1223.8,551.5 1224.2,551.8 1224.5,551.9 1224.9,552.8 1225.2,551.3 1225.6,552.5 1226.0,552.4 1226.3,552.5 1226.7,552.4 1227.0,552.1 1227.3,551.5 1227.7,551.4 1228.0,551.5 1228.4,552.3 1228.8,550.9 1229.1,551.1 1229.5,552.2 1229.8,551.1 1230.2,550.8 1230.5,550.7 1230.8,551.7 1231.2,551.2 1231.5,552.5 1231.9,552.3 1232.2,552.4 1232.6,551.0 1233.0,550.6 1233.3,550.6 1233.7,551.4 1234.0,551.8 1234.3,551.2 1234.7,550.8 1235.0,551.1 1235.4,551.5 1235.8,551.6 1236.1,551.7 1236.5,551.9 1236.8,551.5 1237.2,550.4 1237.5,551.8 1237.8,550.7 1238.2,551.2 1238.5,550.8 1238.9,551.5 1239.2,550.4 1239.6,550.5 1240.0,550.5 1240.3,550.3 1240.7,551.8 1241.0,551.1 1241.3,550.6 1241.7,550.8 1242.0,552.0 1242.4,551.0 1242.8,550.4 1243.1,551.6 1243.5,551.3 1243.8,552.0 1244.2,550.2 1244.5,550.9 1244.8,551.6 1245.2,551.7 1245.5,551.8 1245.9,550.1 1246.2,550.6 1246.6,550.3 1247.0,550.4 1247.3,552.0 1247.7,551.3 1248.0,552.0 1248.3,550.9 1248.7,551.9 1249.0,551.1 1249.4,550.7 1249.8,551.8 1250.1,552.1 1250.5,550.5 1250.8,551.5 1251.2,551.5 1251.5,550.7 1251.8,551.1 1252.2,550.6 1252.5,550.8 1252.9,550.9 1253.2,551.6 1253.6,551.7 1254.0,550.9 1254.3,550.5 1254.7,551.1 1255.0,551.8 1255.3,550.9 1255.7,551.1 1256.0,550.9 1256.4,552.1 1256.8,551.6 1257.1,550.7 1257.5,550.8 1257.8,551.3 1258.2,551.7 1258.5,551.8 1258.8,550.7 1259.2,550.9 1259.5,551.9 1259.9,551.4 1260.2,551.1 1260.6,551.1 1261.0,552.4 1261.3,551.1 1261.7,551.6 1262.0,551.2 1262.3,551.3 1262.7,552.2 1263.0,552.4 1263.4,551.1 1263.8,550.8 1264.1,551.8 1264.5,550.7 1264.8,550.3 1265.2,552.1 1265.5,551.1 1265.8,551.8 1266.2,551.0 1266.5,551.9 1266.9,551.0 1267.2,550.4 1267.6,550.0 1268.0,551.0 1268.3,551.1 1268.5,551.6 1268.7,550.0 1269.0,550.9 1269.3,550.3 1269.7,550.5 1270.0,549.7 1270.4,549.8 1270.8,550.1 1271.1,550.8 1271.5,548.9 1271.8,549.4 1272.2,549.8 1272.5,549.7 1272.8,547.7 1272.9,547.4 1273.2,548.5 M1281.6,548.4 1281.7,549.2 1282.0,549.1 1282.3,549.5 1282.7,549.1 1283.0,550.6 1283.2,550.5 1283.3,550.1 1283.7,551.3 1284.0,551.5 1284.4,551.0 1284.8,550.6 1284.9,551.2 1285.1,550.5 1285.5,550.6 1285.8,551.2 1286.2,550.5 1286.2,551.2 1286.5,551.3 1286.8,550.1 1287.2,551.0 1287.5,549.4 1287.5,550.5 1287.9,549.6 M1292.1,548.7 1292.5,550.9 1292.6,549.9 1292.8,551.0 1293.0,552.1 1293.2,550.9 1293.5,551.2 1293.8,551.8 1293.9,551.4 1294.1,550.9 1294.2,551.2 1294.5,551.1 1294.9,552.4 1295.2,551.6 1295.2,551.9 1295.6,549.6 1295.8,550.1 1296.0,548.2 M1298.8,548.7 1298.9,548.9 1299.1,550.7 1299.5,550.2 1299.6,552.0 1299.8,551.2 1300.2,552.2 1300.5,553.1 1300.7,552.4 1300.8,552.6 1301.2,551.9 1301.5,551.3 1301.8,551.4 1301.9,551.6 1302.2,552.6 1302.6,552.2 1303.0,552.4 1303.3,553.1 1303.7,551.6 1304.0,551.8 1304.0,552.6 1304.3,551.3 1304.7,551.3 1305.0,552.0 1305.4,551.4 1305.8,551.9 1306.1,551.6 1306.5,552.3 1306.8,552.3 1307.2,551.5 1307.5,552.3 1307.8,551.9 1308.2,551.2 1308.5,552.8 1308.9,551.4 1309.2,551.1 1309.6,551.0 1310.0,552.0 1310.3,552.5 1310.7,552.2 1311.0,551.4 1311.3,551.1 1311.7,550.6 1312.0,551.8 1312.4,551.6 1312.8,551.1 1313.1,551.7 1313.5,551.2 1313.8,552.2 1314.2,551.8 1314.5,550.8 1314.8,552.0 1315.2,550.3 1315.5,551.2 1315.9,551.0 1316.2,550.6 1316.6,550.2 1317.0,551.7 1317.3,550.1 1317.7,551.2 1318.0,551.9 1318.3,550.3 1318.7,550.5 1319.0,551.3 1319.4,551.1 1319.8,551.4 1320.1,551.7 1320.5,550.4 1320.8,550.7 1321.2,550.7 1321.5,550.3 1321.8,552.0 1322.2,551.8 1322.5,551.7 1322.9,550.3 1323.2,552.0 1323.6,551.9 1324.0,551.3 1324.3,551.9 1324.7,551.4 1325.0,551.0 1325.3,550.8 1325.7,551.1 1326.0,550.7 1326.4,551.4 1326.8,552.3 1327.1,552.2 1327.5,552.5 1327.8,552.3 1328.2,551.5 1328.5,552.1 1328.8,551.9 1329.2,552.6 1329.5,552.1 1329.9,551.7 1330.2,552.4 1330.6,553.1 1331.0,551.7 1331.3,553.0 1331.7,551.3 1332.0,551.8 1332.3,551.8 1332.7,552.8 1333.0,553.3 1333.4,552.9 1333.8,552.1 1334.1,553.2 1334.5,552.1 1334.8,551.9 1335.2,553.3 1335.5,552.7 1335.8,552.9 1336.2,552.8 1336.5,553.4 1336.9,552.4 1337.2,553.2 1337.6,552.9 1338.0,553.2 1338.3,552.3 1338.7,552.9 1339.0,552.6 1339.3,552.1 1339.7,551.9 1340.0,552.7 1340.4,551.6 1340.8,553.3 1341.1,551.7 1341.5,551.5 1341.8,551.6 1342.2,553.3 1342.5,552.1 1342.8,551.7 1343.2,551.5 1343.5,551.5 1343.9,552.8 1344.2,552.7 1344.6,552.8 1345.0,552.9 1345.3,551.5 1345.7,552.6 1346.0,552.1 1346.3,553.0 1346.7,553.0 1347.0,553.1 1347.4,551.5 1347.8,553.1 1348.1,553.2 1348.5,553.2 1348.8,551.6 1349.2,551.8 1349.5,551.6 1349.8,551.4 1350.2,553.0 1350.5,553.0 1350.9,552.6 1351.2,553.0 1351.6,552.6 1352.0,551.9 1352.3,551.5 1352.7,551.5 1353.0,552.9 1353.3,551.8 1353.7,552.0 1354.0,552.2 1354.4,551.4 1354.8,551.9 1355.1,551.9 1355.5,552.8 1355.8,552.1 1356.2,552.0 1356.5,553.3 1356.8,552.3 1357.2,553.0 1357.5,552.6 1357.9,551.4 1358.2,552.1 1358.6,552.2 1359.0,552.9 1359.3,552.0 1359.6,552.7 1359.7,552.4 1360.0,551.7 1360.3,553.0 1360.7,551.4 1361.0,552.9 1361.4,551.6 1361.8,551.2 1362.1,551.6 1362.5,552.7 1362.8,553.1 1362.9,551.1 1363.2,552.0 1363.5,552.0 1363.8,552.6 1364.2,551.3 1364.5,551.8 1364.9,551.4 1365.2,552.3 1365.6,550.9 1366.0,552.0 1366.2,550.4 1366.3,550.2 1366.7,550.6 1367.0,549.5 1367.2,548.2 1367.3,548.8 1367.7,546.4 M1371.5,548.0 1371.8,549.3 1371.9,549.5 1372.2,550.1 1372.6,550.1 1372.8,550.4 1373.0,550.1 1373.3,551.8 1373.7,551.6 1374.0,551.9 1374.3,550.9 1374.5,551.4 1374.7,552.1 1374.7,551.8 1375.0,550.9 1375.4,551.6 1375.8,552.5 1376.1,551.2 1376.1,551.1 1376.5,551.3 1376.8,552.1 1377.2,552.4 1377.5,551.0 1377.7,551.0 1377.8,551.2 1378.2,551.3 1378.5,551.6 1378.9,550.8 1379.1,551.1 1379.2,550.8 1379.4,552.3 1379.6,551.7 1380.0,550.3 1380.3,551.7 1380.6,549.6 1380.7,550.1 1381.0,550.7 1381.3,549.3 1381.5,548.7 M1385.6,548.3 1385.9,548.9 1386.2,550.7 1386.5,551.4 1386.6,551.4 1387.0,551.6 1387.3,552.2 1387.7,552.1 1388.0,552.1 1388.0,551.7 1388.3,551.6 1388.7,552.3 1389.0,551.3 1389.4,552.0 1389.4,552.7 1389.8,552.7 1390.1,552.5 1390.5,551.8 1390.8,552.2 1391.2,552.3 1391.5,552.7 1391.8,552.3 1392.2,552.9 1392.4,553.4 1392.5,551.9 1392.9,552.9 1393.2,553.1 1393.6,552.4 1394.0,552.6 1394.3,553.6 1394.7,551.7 1395.0,552.8 1395.3,552.0 1395.7,553.3 1396.0,553.6 1396.4,552.8 1396.8,552.0 1397.1,552.9 1397.5,552.9 1397.8,553.2 1398.2,552.8 1398.5,553.1 1398.8,553.5 1399.2,552.9 1399.5,552.7 1399.9,553.8 1400.2,552.3 1400.6,553.2 1401.0,552.7 1401.3,553.4 1401.7,552.1 1402.0,553.9 1402.3,552.6 1402.7,552.0 1403.0,552.5 1403.4,552.7 1403.8,551.9 1404.1,552.8 1404.5,552.8 1404.8,553.3 1405.2,552.6 1405.5,552.4 1405.8,552.4 1406.2,553.4 1406.5,553.8 1406.9,553.0 1407.2,552.4 1407.6,553.5 1408.0,552.7 1408.3,552.3 1408.7,552.2 1409.0,553.5 1409.3,553.5 1409.7,553.2 1410.0,552.8 1410.4,553.0 1410.8,552.4 1411.1,553.8 1411.5,552.6 1411.8,553.2 1412.2,553.5 1412.5,553.5 1412.8,552.8 1413.2,552.5 1413.5,553.0" fill="none" stroke="#ff1a1a" stroke-width="1.8" stroke-linejoin="round"/><path d="M1026.5,547.6 1026.7,547.4 1026.8,546.1 1027.1,546.1 1027.2,546.3 1027.5,544.5 1027.6,544.9 1027.8,543.2 1027.8,543.8 1027.9,543.5 1028.2,543.2 1028.2,542.9 1028.5,543.9 1028.5,544.2 1028.8,543.8 1028.9,544.6 1029.2,544.2 1029.2,545.6 1029.2,545.6 1029.6,547.2 1029.6,546.9 1030.0,546.3 1030.1,546.6 1030.2,547.1 1030.3,545.8 1030.7,546.3 1030.7,545.6 1031.0,544.8 1031.1,544.3 1031.1,545.6 1031.3,543.7 1031.6,543.3 1031.7,543.3 1031.9,543.9 1032.0,542.2 1032.2,542.9 1032.4,543.3 1032.5,544.2 1032.6,544.3 1032.8,544.9 1032.8,543.8 1033.1,545.4 1033.2,545.7 1033.5,547.7 1033.6,548.6 1033.8,547.6 1034.0,548.4 M1072.3,549.7 1072.6,547.9 1072.7,549.1 1073.0,548.5 1073.2,547.1 1073.3,545.1 1073.5,544.1 1073.7,539.9 1073.9,536.5 1074.0,535.3 1074.0,534.5 1074.1,533.5 1074.2,533.7 1074.3,532.1 1074.4,533.3 1074.4,533.4 1074.5,533.1 1074.6,535.5 1074.8,537.3 1074.8,538.0 1075.0,541.2 1075.1,541.0 1075.4,542.3 1075.5,541.8 1075.6,543.1 1075.8,541.5 1075.9,541.3 1076.2,540.3 1076.5,538.7 1076.5,537.4 1076.8,534.5 1077.2,528.1 1077.2,527.8 1077.5,519.1 1077.6,517.7 1077.9,506.5 1078.1,496.4 1078.2,488.7 1078.6,468.7 1078.7,459.0 1079.0,442.4 1079.2,423.9 1079.3,414.8 1079.7,388.4 1080.0,372.2 1080.0,370.8 1080.3,366.6 1080.3,365.7 1080.6,372.4 1080.7,377.2 1080.9,388.5 1081.0,400.8 1081.3,423.7 1081.4,427.8 1081.8,455.3 1081.8,460.0 1082.1,478.6 1082.4,497.4 1082.5,498.1 1082.8,512.9 1083.2,523.8 1083.3,527.9 1083.5,530.8 1083.8,535.6 1084.2,539.9 1084.5,541.7 1084.9,543.7 1085.2,545.1 1085.6,544.8 1086.0,546.2 1086.3,547.6 1086.4,547.6 1086.7,546.6 1087.0,547.0 1087.3,548.1 1087.7,547.7 M1109.4,548.5 1109.8,547.2 1110.1,546.1 1110.1,545.4 1110.5,542.2 1110.8,537.4 1110.8,537.0 1111.1,532.1 1111.2,530.2 1111.2,528.2 1111.5,521.9 1111.6,519.3 1111.8,511.9 1111.9,510.3 1112.1,506.5 1112.2,504.8 1112.3,504.7 1112.5,505.7 1112.8,511.1 1112.9,513.9 1113.1,518.6 1113.2,523.3 1113.3,524.7 1113.4,527.2 1113.6,532.6 1113.9,537.2 1114.0,538.5 1114.3,543.4 1114.4,543.1 1114.5,544.5 1114.7,545.4 1115.0,547.0 1115.3,545.6 1115.5,546.3 1115.6,545.4 1115.7,545.0 1116.0,541.9 1116.1,541.0 1116.4,537.0 1116.6,534.6 1116.7,531.6 1116.8,532.8 1116.9,529.1 1117.1,525.3 1117.2,522.9 1117.5,521.9 1117.5,521.9 1117.7,520.5 1117.8,520.1 1117.9,520.8 1118.1,523.8 1118.2,524.6 1118.5,529.4 1118.5,530.9 1118.8,535.6 1118.8,538.2 1119.0,539.8 1119.2,542.3 1119.2,542.0 1119.5,546.6 1119.9,547.4 1119.9,547.6 1120.2,548.1 M1140.9,549.5 1141.2,548.8 1141.6,546.1 1141.7,545.5 1142.0,543.8 1142.3,541.7 1142.3,541.6 1142.7,538.0 1142.7,537.6 1143.0,533.6 1143.1,532.6 1143.3,531.4 1143.4,531.9 1143.7,530.3 1143.7,530.8 1144.0,530.4 1144.0,530.6 1144.3,532.8 1144.4,534.3 1144.8,537.5 1144.8,537.6 1145.1,540.0 1145.2,541.3 1145.5,543.2 1145.8,545.5 1145.8,544.9 1146.2,548.1 1146.5,548.0 M1159.9,548.1 1160.2,547.8 1160.5,546.5 1160.8,544.5 1161.2,542.2 1161.5,539.8 1161.9,532.8 1162.0,532.7 1162.2,524.5 1162.5,517.8 1162.6,514.4 1162.9,504.6 1163.0,502.2 1163.2,493.7 1163.3,492.2 1163.5,487.3 1163.7,485.2 1163.8,485.3 1164.0,487.2 1164.0,486.9 1164.3,493.1 1164.3,493.8 1164.7,505.9 1164.7,506.3 1165.0,518.7 1165.4,528.3 1165.6,531.6 1165.8,534.6 1166.1,541.6 1166.3,542.4 1166.5,544.0 1166.8,545.9 1167.2,547.1 1167.5,548.9 M1201.5,547.9 1201.8,546.0 1201.9,546.2 1202.2,544.9 1202.3,544.7 1202.5,542.5 1202.7,542.8 1202.8,542.0 1202.9,541.3 1203.2,540.3 1203.2,541.8 1203.4,540.9 1203.5,542.3 1203.7,541.7 1203.9,542.8 1204.1,544.9 1204.2,544.9 1204.5,547.4 1204.6,547.2 1205.0,548.0 M1211.2,549.3 1211.6,548.2 1212.0,546.3 1212.3,543.7 1212.5,542.8 1212.7,541.4 1213.0,538.6 1213.1,536.1 1213.3,533.9 1213.5,530.2 1213.7,527.8 1214.0,525.5 1214.0,524.4 1214.2,521.9 1214.4,520.3 1214.5,520.9 1214.8,521.3 1214.8,522.9 1215.1,524.0 1215.1,524.5 1215.5,530.0 1215.6,529.8 1215.8,534.0 1216.0,537.6 1216.2,539.2 1216.5,541.5 1216.6,542.4 1216.8,544.5 1217.2,548.3 1217.5,548.1 1217.5,549.3 1217.9,550.6 M1272.9,547.4 1273.2,548.5 1273.5,547.7 1273.9,545.4 1274.2,542.5 1274.4,543.2 1274.6,540.2 1275.0,536.7 1275.3,530.5 1275.3,530.3 1275.7,520.6 1275.9,515.9 1276.0,510.5 1276.3,501.2 1276.3,500.4 1276.7,489.4 1276.7,487.0 1277.0,480.7 1277.0,480.7 1277.3,478.8 1277.4,478.7 1277.6,480.5 1277.8,483.2 1277.9,488.3 1278.1,494.0 1278.4,500.7 1278.5,504.7 1278.8,516.2 1279.2,524.3 1279.4,531.3 1279.5,532.0 1279.8,538.6 1280.2,542.4 1280.3,543.1 1280.5,544.5 1280.9,546.4 1281.2,547.9 1281.6,548.4 1281.7,549.2 M1287.5,550.5 1287.9,549.6 1288.2,547.6 1288.2,546.6 1288.6,545.3 1288.7,544.0 1289.0,543.4 1289.1,540.3 1289.3,540.2 1289.5,538.9 1289.7,537.5 1289.8,537.1 1290.0,535.3 1290.0,536.9 1290.3,536.5 1290.3,537.7 1290.5,538.8 1290.7,538.6 1290.8,540.3 1290.9,542.0 1291.0,541.4 1291.3,544.2 1291.4,545.7 1291.8,546.8 1291.8,548.7 1292.1,548.7 1292.5,550.9 M1295.8,550.1 1296.0,548.2 1296.3,547.4 1296.3,547.4 1296.6,544.9 1296.7,545.6 1296.9,543.3 1297.0,543.0 1297.2,543.0 1297.3,541.1 1297.4,542.9 1297.6,542.5 1297.7,542.5 1297.7,543.5 1297.8,542.8 1298.0,545.7 1298.1,545.4 1298.4,546.7 1298.5,547.9 1298.8,548.7 1298.9,548.9 M1367.3,548.8 1367.7,546.4 1367.9,547.2 1368.0,546.2 1368.3,545.0 1368.4,544.4 1368.8,542.3 1368.8,542.0 1369.1,541.2 1369.2,542.0 1369.5,540.0 1369.5,541.6 1369.8,540.1 1369.8,540.6 1370.2,541.6 1370.2,543.0 1370.5,543.6 1370.7,544.1 1370.8,545.9 1371.2,546.0 1371.2,546.6 1371.5,548.0 1371.8,549.3 M1381.3,549.3 1381.5,548.7 1381.7,547.2 1382.0,545.0 1382.1,545.8 1382.4,542.9 1382.5,542.4 1382.8,541.4 1383.0,539.6 1383.1,539.6 1383.2,539.9 1383.5,539.3 1383.5,538.9 1383.8,539.5 1383.8,539.3 1384.1,539.8 1384.2,540.9 1384.5,542.5 1384.6,543.6 1384.8,545.6 1385.0,545.5 1385.2,546.8 1385.5,548.7 1385.6,548.3 1385.9,548.9" fill="none" stroke="#ff1a1a" stroke-width="1.15" stroke-linejoin="round"/></g>
<g clip-path="url(#cf)"><path d="M1012.8,649.7 1013.1,649.4 1013.5,649.3 1013.9,649.4 1014.2,648.8 1014.5,650.1 1014.9,648.6 1015.2,648.8 1015.6,648.4 1016.0,648.9 1016.3,649.1 1016.6,650.1 1017.0,649.0 1017.4,648.5 1017.7,648.8 1018.0,650.2 1018.4,648.3 1018.8,649.4 1019.1,648.9 1019.5,649.5 1019.8,648.8 1020.1,649.5 1020.5,649.1 1020.9,649.4 1021.2,649.9 1021.5,649.2 1021.9,648.3 1022.2,648.2 1022.6,649.9 1023.0,649.0 1023.3,648.4 1023.6,649.9 1024.0,649.1 1024.3,649.4 1024.7,649.8 1025.0,648.6 1025.4,648.7 1025.8,649.8 1026.1,648.3 1026.5,649.5 1026.8,648.2 1027.2,649.4 1027.5,649.4 1027.8,650.0 1028.2,649.8 1028.5,649.1 1028.9,648.5 1029.2,648.4 1029.6,649.2 1030.0,649.2 1030.3,648.3 1030.7,650.0 1031.0,649.2 1031.3,649.6 1031.7,648.7 1032.0,648.7 1032.4,648.3 1032.8,649.0 1033.1,648.8 1033.5,649.2 1033.8,649.1 1034.2,650.0 1034.5,650.1 1034.8,648.7 1035.2,649.2 1035.5,648.7 1035.9,649.7 1036.2,650.3 1036.6,648.8 1037.0,649.9 1037.3,649.0 1037.7,648.4 1038.0,649.9 1038.3,649.0 1038.7,648.7 1039.0,649.2 1039.4,648.8 1039.8,649.1 1040.1,649.2 1040.5,649.1 1040.8,649.4 1041.2,648.8 1041.5,648.4 1041.8,648.3 1042.2,648.3 1042.5,649.1 1042.9,648.8 1043.2,649.6 1043.6,649.0 1044.0,649.4 1044.3,649.9 1044.7,648.0 1045.0,647.9 1045.3,648.1 1045.7,648.6 1046.0,648.9 1046.4,649.2 1046.8,648.4 1047.1,649.6 1047.5,647.6 1047.8,649.3 1048.2,648.0 1048.5,649.3 1048.8,647.6 1049.2,649.4 1049.5,649.0 1049.9,649.4 1050.2,648.5 1050.6,647.7 1051.0,649.3 1051.3,648.2 1051.7,647.5 1052.0,648.5 1052.3,648.3 1052.7,648.2 1053.0,647.5 1053.4,647.5 1053.8,648.4 1054.1,648.1 1054.5,647.4 1054.8,648.0 1055.2,648.6 1055.5,648.6 1055.8,648.1 1056.2,647.9 1056.5,647.8 1056.9,647.5 1057.2,647.4 1057.6,647.9 1058.0,647.2 1058.3,648.4 1058.7,648.4 1059.0,648.2 1059.3,647.0 1059.7,647.6 1060.0,647.7 1060.4,647.0 1060.8,648.7 1061.1,648.2 1061.5,647.7 1061.8,648.0 1062.2,646.9 1062.2,647.0 1062.5,647.5 1062.8,647.9 1063.2,647.6 1063.5,646.2 1063.9,647.4 1064.2,647.8 1064.2,647.5 1064.6,647.7 1065.0,647.7 1065.2,646.1 1065.3,646.2 1065.7,646.5 1066.0,647.1 1066.2,645.7 1066.3,646.7 1066.7,646.0 M1092.3,646.6 1092.6,646.5 1093.0,646.2 1093.3,646.5 1093.7,647.4 1094.0,647.7 1094.3,647.7 1094.7,646.2 1095.0,646.7 1095.4,646.9 1095.8,646.5 1096.1,647.8 1096.5,646.5 1096.8,648.2 1097.2,647.6 1097.5,647.7 1097.8,647.4 1098.2,648.5 1098.5,647.8 1098.9,648.5 1099.2,648.5 1099.6,648.1 1100.0,648.7 1100.3,647.7 1100.7,647.5 1101.0,648.4 1101.3,647.8 1101.7,647.4 1102.0,648.1 1102.4,647.7 1102.8,646.9 1103.1,648.3 1103.5,647.6 1103.8,648.5 1104.2,647.6 1104.5,648.3 1104.8,647.0 1105.1,646.8 1105.2,647.3 1105.5,647.7 1105.9,647.7 1106.2,647.2 1106.6,645.9 1107.0,646.2 1107.3,645.2 1107.5,645.6 1107.7,646.6 M1116.8,645.6 1117.1,646.5 1117.1,646.0 1117.5,647.0 1117.8,647.6 1118.2,647.9 1118.5,648.0 1118.8,647.9 1119.2,647.4 1119.5,648.7 1119.9,647.7 1120.2,648.9 1120.6,648.1 1121.0,648.6 1121.3,648.3 1121.7,648.7 1122.0,648.1 1122.3,648.6 1122.7,648.9 1123.0,648.2 1123.4,648.7 1123.8,648.4 1124.1,648.4 1124.5,648.3 1124.8,648.6 1125.2,648.9 1125.5,647.8 1125.8,647.8 1126.2,649.1 1126.5,647.6 1126.9,649.0 1127.2,648.9 1127.6,647.9 1128.0,648.7 1128.3,647.9 1128.7,649.2 1129.0,647.8 1129.3,647.6 1129.7,647.5 1130.0,648.8 1130.4,647.8 1130.8,648.0 1131.1,649.3 1131.5,648.9 1131.8,648.9 1132.2,648.6 1132.5,648.7 1132.8,647.4 1133.2,649.1 1133.5,648.1 1133.9,649.2 1134.2,648.3 1134.6,649.3 1135.0,647.5 1135.3,649.5 1135.7,647.7 1136.0,648.6 1136.3,648.5 1136.7,649.5 1137.0,649.0 1137.4,649.6 1137.8,649.4 1138.1,648.5 1138.5,647.9 1138.8,647.9 1139.2,649.1 1139.5,649.6 1139.8,649.0 1140.2,648.4 1140.5,648.9 1140.9,649.0 1141.2,648.2 1141.6,649.1 1142.0,648.1 1142.3,647.8 1142.7,647.8 1143.0,648.7 1143.3,649.1 1143.7,648.2 1144.0,648.5 1144.4,649.1 1144.8,648.2 1145.1,648.7 1145.5,648.9 1145.8,648.5 1146.2,648.1 1146.5,649.0 1146.8,649.0 1147.2,648.0 1147.5,649.2 1147.9,648.9 1148.2,649.3 1148.6,649.1 1149.0,648.5 1149.3,648.9 1149.7,648.1 1150.0,648.8 1150.3,647.6 1150.7,648.1 1151.0,648.4 1151.4,649.2 1151.8,648.8 1152.1,649.2 1152.5,649.1 1152.8,649.3 1153.2,648.6 1153.5,648.6 1153.8,648.3 1154.2,647.8 1154.5,649.0 1154.9,648.6 1155.2,647.7 1155.6,647.9 1156.0,647.8 1156.3,648.9 1156.7,648.6 1157.0,647.9 1157.3,648.8 1157.7,648.6 1158.0,648.0 1158.4,648.4 1158.8,649.5 1159.1,647.9 1159.5,648.1 1159.8,648.8 1160.2,649.4 1160.5,649.6 1160.8,648.5 1161.2,649.3 1161.5,648.1 1161.9,648.6 1162.2,649.6 1162.6,649.3 1163.0,648.9 1163.3,649.2 1163.7,649.0 1164.0,649.2 1164.3,649.9 1164.7,650.1 1165.0,648.6 1165.4,649.7 1165.8,650.1 1166.1,649.5 1166.5,649.3 1166.8,649.1 1167.2,649.3 1167.5,649.5 1167.8,649.6 1168.2,648.6 1168.5,650.4 1168.9,649.0 1169.2,649.6 1169.6,648.9 1170.0,649.8 1170.3,648.6 1170.7,649.2 1171.0,649.3 1171.3,649.1 1171.7,649.5 1172.0,648.8 1172.4,649.5 1172.8,650.1 1173.1,649.8 1173.5,650.4 1173.8,650.4 1174.2,649.4 1174.5,649.4 1174.8,650.0 1175.2,650.2 1175.5,649.5 1175.9,649.8 1176.2,649.8 1176.6,649.4 1177.0,649.4 1177.3,649.2 1177.7,649.3 1178.0,649.3 1178.3,650.0 1178.7,648.7 1179.0,648.6 1179.4,650.2 1179.8,649.3 1180.1,649.7 1180.5,650.1 1180.8,649.8 1181.2,649.4 1181.5,650.2 1181.8,649.5 1182.2,649.2 1182.5,648.7 1182.9,648.6 1183.2,649.9 1183.6,650.1 1184.0,649.0 1184.3,649.4 1184.7,649.7 1185.0,649.5 1185.3,648.9 1185.7,650.2 1186.0,649.4 1186.4,649.8 1186.8,649.7 1187.1,649.2 1187.5,649.8 1187.8,648.8 1188.2,649.5 1188.5,649.7 1188.8,649.7 1189.2,649.0 1189.5,648.8 1189.9,648.6 1190.2,648.7 1190.6,648.8 1191.0,649.4 1191.3,649.5 1191.7,649.8 1192.0,649.3 1192.3,649.9 1192.7,648.4 1193.0,649.0 1193.4,648.6 1193.8,649.3 1194.1,649.4 1194.5,649.4 1194.8,649.1 1195.2,648.9 1195.5,648.8 1195.8,648.3 1196.2,648.4 1196.5,648.9 1196.9,649.0 1197.2,648.0 1197.6,649.4 1198.0,647.7 1198.3,647.9 1198.7,648.4 1199.0,648.1 1199.3,648.4 1199.7,648.6 1200.0,648.3 1200.4,648.6 1200.8,647.8 1201.1,648.1 1201.5,647.4 1201.8,646.7 1202.2,646.5 1202.5,646.5 1202.8,646.9 1203.2,646.3 1203.5,646.7 1203.7,646.8 1203.9,647.2 1204.2,645.4 1204.6,646.8 1205.0,644.6 1205.3,646.0 M1223.8,646.0 1224.2,646.2 1224.5,646.3 1224.9,645.8 1225.2,646.5 1225.4,645.3 1225.6,646.4 1226.0,647.2 1226.3,647.0 1226.7,647.5 1227.0,646.9 1227.3,646.3 1227.7,645.8 1228.0,646.4 1228.4,647.6 1228.8,647.1 1229.1,647.3 1229.5,647.7 1229.8,646.8 1230.2,646.5 1230.5,648.1 1230.8,647.5 1231.2,646.4 1231.5,647.8 1231.9,647.9 1232.2,648.0 1232.6,646.8 1233.0,647.1 1233.3,648.0 1233.7,647.9 1234.0,647.3 1234.3,648.6 1234.7,647.3 1235.0,648.5 1235.4,647.0 1235.8,647.7 1236.1,648.8 1236.5,648.2 1236.8,648.4 1237.2,648.7 1237.5,648.2 1237.8,648.1 1238.2,648.7 1238.5,648.1 1238.9,649.0 1239.2,648.7 1239.6,647.2 1240.0,647.8 1240.3,649.0 1240.7,647.5 1241.0,647.4 1241.3,648.5 1241.7,648.8 1242.0,649.4 1242.4,649.4 1242.8,648.8 1243.1,648.9 1243.5,648.6 1243.8,649.3 1244.2,649.0 1244.5,647.9 1244.8,648.9 1245.2,647.8 1245.5,648.4 1245.9,648.4 1246.2,649.6 1246.6,648.2 1247.0,648.6 1247.3,649.0 1247.7,648.2 1248.0,648.8 1248.3,648.4 1248.7,649.3 1249.0,649.4 1249.4,649.0 1249.8,649.6 1250.1,648.8 1250.5,649.3 1250.8,648.0 1251.2,648.6 1251.5,648.5 1251.8,649.6 1252.2,648.8 1252.5,648.5 1252.9,649.1 1253.2,649.7 1253.6,649.4 1254.0,649.3 1254.3,649.0 1254.7,649.3 1255.0,648.8 1255.3,648.4 1255.7,648.2 1256.0,648.1 1256.4,648.2 1256.8,648.5 1257.1,649.2 1257.5,647.9 1257.8,648.2 1258.2,647.9 1258.5,648.4 1258.8,647.5 1259.2,648.6 1259.5,649.0 1259.9,649.1 1260.2,648.0 1260.6,647.6 1261.0,648.7 1261.3,648.7 1261.7,647.6 1262.0,647.3 1262.3,648.5 1262.7,647.9 1263.0,648.1 1263.4,648.2 1263.8,648.8 1264.1,647.2 1264.5,647.5 1264.8,647.0 1265.2,648.2 1265.5,647.0 1265.8,648.4 1266.2,647.9 1266.5,647.6 1266.5,647.1 1266.9,648.2 1267.2,646.6 1267.6,647.5 1268.0,647.8 1268.3,647.3 1268.7,646.0 1269.0,645.9 1269.3,646.0 1269.7,646.7 1270.0,645.2 1270.1,646.8 1270.4,646.4 M1284.4,646.1 1284.5,645.4 1284.8,645.8 1285.1,645.5 1285.5,646.0 1285.8,647.3 1286.2,645.8 1286.5,647.2 1286.8,646.5 1287.2,646.9 1287.5,647.6 1287.8,646.9 1287.9,647.2 1288.2,647.3 1288.2,647.3 1288.6,646.6 1289.0,647.3 1289.3,647.3 1289.7,647.5 1290.0,647.2 1290.3,647.6 1290.7,648.2 1291.0,646.9 1291.0,646.9 1291.4,647.8 1291.8,647.9 1292.1,648.3 1292.5,646.7 1292.6,646.6 1292.8,647.7 1293.2,646.8 1293.5,647.1 1293.8,646.3 1294.2,645.3 1294.2,646.2 1294.5,644.8 M1300.2,646.3 1300.5,646.4 1300.6,645.8 1300.8,647.5 1301.2,648.3 1301.5,648.0 1301.9,649.0 1302.2,648.1 1302.2,648.4 1302.6,648.4 1303.0,647.9 1303.3,647.9 1303.7,649.1 1303.8,649.6 1304.0,648.3 1304.3,649.7 1304.7,648.6 1305.0,648.8 1305.4,648.1 1305.8,648.0 1306.1,649.2 1306.5,649.8 1306.8,649.3 1307.0,648.3 1307.2,649.4 1307.5,648.3 1307.8,649.0 1308.2,649.5 1308.5,648.8 1308.9,648.7 1309.2,648.7 1309.6,648.6 1310.0,648.1 1310.3,649.5 1310.7,648.8 1311.0,648.4 1311.3,648.6 1311.7,648.1 1312.0,648.9 1312.4,649.2 1312.8,649.2 1313.1,648.9 1313.5,650.0 1313.8,648.3 1314.2,648.4 1314.5,649.1 1314.8,648.8 1315.2,648.6 1315.5,649.5 1315.9,649.1 1316.2,649.2 1316.6,649.4 1317.0,648.9 1317.3,649.1 1317.7,650.1 1318.0,648.4 1318.3,649.1 1318.7,649.4 1319.0,649.7 1319.4,648.4 1319.8,648.4 1320.1,648.8 1320.5,649.6 1320.8,648.7 1321.2,648.3 1321.5,649.1 1321.8,648.6 1322.2,649.7 1322.5,650.2 1322.9,649.8 1323.2,649.5 1323.6,649.2 1324.0,648.4 1324.3,649.2 1324.7,649.4 1325.0,649.0 1325.3,649.2 1325.7,650.2 1326.0,649.1 1326.4,648.9 1326.8,649.2 1327.1,650.2 1327.5,648.4 1327.8,649.2 1328.2,650.3 1328.5,649.3 1328.8,648.9 1329.2,648.9 1329.5,649.6 1329.9,648.4 1330.2,650.1 1330.6,649.5 1331.0,649.9 1331.3,648.4 1331.7,648.1 1332.0,648.7 1332.3,648.9 1332.7,649.0 1333.0,649.2 1333.4,648.0 1333.8,649.8 1334.1,648.2 1334.5,648.2 1334.8,648.0 1335.2,648.5 1335.5,648.1 1335.8,649.1 1336.2,648.4 1336.5,647.9 1336.9,648.4 1337.2,649.3 1337.6,648.7 1338.0,647.7 1338.3,648.8 1338.7,648.6 1339.0,648.6 1339.3,649.1 1339.7,647.8 1340.0,648.9 1340.4,649.1 1340.8,649.4 1341.1,648.3 1341.5,648.0 1341.8,649.0 1342.2,649.6 1342.5,649.5 1342.8,648.8 1343.2,648.2 1343.5,649.5 1343.9,647.9 1344.2,648.9 1344.6,649.4 1345.0,648.8 1345.3,649.2 1345.7,648.6 1346.0,649.1 1346.3,648.2 1346.7,649.1 1347.0,648.1 1347.4,648.2 1347.8,648.1 1348.1,648.5 1348.5,647.9 1348.8,649.3 1349.2,649.7 1349.5,649.6 1349.8,648.0 1350.2,648.9 1350.5,648.2 1350.9,649.1 1351.2,648.0 1351.6,649.9 1352.0,648.9 1352.3,648.4 1352.7,648.8 1353.0,648.6 1353.3,649.0 1353.7,648.8 1354.0,650.0 1354.4,648.6 1354.8,648.1 1355.1,649.1 1355.5,649.0 1355.8,648.7 1356.2,649.9 1356.5,649.7 1356.8,648.8 1357.2,648.2 1357.5,649.7 1357.9,649.5 1358.2,649.7 1358.6,648.7 1359.0,648.3 1359.3,648.9 1359.7,648.9 1360.0,649.3 1360.3,648.1 1360.7,649.7 1360.7,648.8 1361.0,648.3 1361.4,648.9 1361.8,647.8 1362.1,649.3 1362.5,648.7 1362.8,648.0 1363.2,647.7 1363.5,648.6 1363.8,649.1 1364.2,648.0 1364.3,649.4 1364.5,648.7 1364.9,648.4 1365.2,649.3 1365.6,648.0 1366.0,648.6 1366.1,647.9 1366.3,647.8 1366.7,648.0 1367.0,648.7 1367.3,646.7 1367.7,646.9 1367.9,645.9 1368.0,646.4 1368.4,644.9 1368.8,645.4 M1374.3,644.8 1374.7,647.3 1375.0,646.9 1375.1,647.4 1375.4,647.2 1375.8,648.4 1376.1,648.8 1376.5,649.3 1376.8,648.1 1376.9,648.4 1377.2,648.5 1377.5,648.9 1377.8,650.0 1378.2,650.2 1378.5,650.0 1378.7,649.7 1378.9,648.7 1379.2,649.2 1379.6,649.7 1380.0,650.2 1380.3,649.5 1380.7,649.7 1381.0,649.5 1381.3,649.9 1381.7,649.7 1382.0,649.6 1382.3,650.7 1382.4,650.1 1382.8,650.2 1383.1,650.6 1383.5,650.4 1383.8,649.4 1384.2,650.4 1384.5,650.1 1384.8,649.9 1385.2,650.3 1385.5,650.5 1385.9,649.5 1386.2,649.4 1386.6,649.9 1387.0,649.0 1387.3,650.4 1387.7,649.2 1388.0,649.4 1388.3,650.4 1388.7,650.6 1389.0,649.3 1389.4,649.0 1389.8,650.1 1390.1,650.0 1390.5,649.5 1390.8,649.1 1391.2,650.7 1391.5,648.9 1391.8,650.4 1392.2,649.2 1392.5,649.2 1392.9,649.5 1393.2,649.0 1393.6,650.2 1394.0,649.1 1394.3,649.3 1394.7,649.4 1395.0,650.4 1395.3,648.8 1395.7,650.2 1396.0,649.3 1396.4,650.1 1396.8,650.7 1397.1,649.2 1397.5,648.9 1397.8,649.4 1398.2,650.2 1398.5,649.3 1398.8,649.5 1399.2,650.8 1399.5,650.6 1399.9,650.8 1400.2,649.3 1400.6,650.3 1401.0,649.5 1401.3,650.3 1401.7,650.6 1402.0,650.2 1402.3,649.9 1402.7,650.2 1403.0,650.3 1403.4,649.2 1403.8,650.3 1404.1,649.1 1404.5,650.6 1404.8,649.5 1405.2,649.0 1405.5,648.9 1405.8,650.0 1406.2,648.9 1406.5,649.6 1406.9,648.8 1407.2,650.1 1407.6,650.4 1408.0,648.7 1408.3,649.9 1408.7,649.9 1409.0,649.7 1409.3,650.5 1409.7,649.1 1410.0,650.2 1410.4,649.5 1410.8,648.8 1411.1,648.9 1411.5,648.5 1411.8,649.8 1412.2,648.7 1412.5,649.4 1412.8,649.7 1413.2,648.6 1413.5,649.4" fill="none" stroke="#0d0dff" stroke-width="1.8" stroke-linejoin="round" stroke-opacity="0.9"/><path d="M1066.3,646.7 1066.7,646.0 1066.8,645.0 1067.0,644.8 1067.2,644.9 1067.4,644.1 1067.5,642.7 1067.8,643.2 1067.8,641.6 1068.0,641.5 1068.1,642.6 1068.2,642.2 1068.4,641.1 1068.5,641.1 1068.6,641.9 1068.8,642.6 1069.0,642.6 1069.2,643.4 1069.2,643.1 1069.5,643.6 1069.7,643.3 1069.8,642.9 1070.2,643.0 1070.2,643.1 1070.5,643.0 1070.9,643.3 1071.2,641.7 1071.6,640.8 1072.0,641.6 1072.2,640.1 1072.3,640.3 1072.7,638.9 1073.0,639.5 1073.3,637.4 1073.7,636.3 1074.0,636.0 1074.3,634.4 1074.4,633.3 1074.8,632.4 1075.1,628.8 1075.5,625.1 1075.8,621.6 1076.2,614.8 1076.3,612.2 1076.5,604.9 1076.8,594.4 1077.2,578.9 1077.5,565.5 1077.5,559.2 1077.9,536.6 1078.2,509.2 1078.3,507.5 1078.6,478.1 1078.9,453.3 1079.0,446.3 1079.3,414.7 1079.5,400.6 1079.7,386.6 1079.9,375.4 1080.0,370.6 1080.3,365.2 1080.3,366.3 1080.7,376.1 1080.7,377.6 1081.0,399.8 1081.1,399.6 1081.4,428.6 1081.7,454.0 1081.8,461.1 1082.1,492.4 1082.3,506.6 1082.5,523.1 1082.8,548.6 1083.1,565.1 1083.2,569.1 1083.5,587.3 1083.8,600.7 1084.2,610.8 1084.3,612.5 1084.5,617.6 1084.9,623.2 1085.2,627.5 1085.6,630.5 1086.0,633.3 1086.3,634.3 1086.3,635.6 1086.7,636.4 1087.0,637.3 1087.3,638.6 1087.7,639.8 1088.0,640.7 1088.3,641.8 1088.4,640.7 1088.8,641.6 1089.1,642.3 1089.5,642.6 1089.8,644.2 1090.2,643.3 1090.5,643.6 1090.8,644.9 1091.2,645.6 1091.5,646.0 1091.9,645.7 1092.2,645.5 1092.3,646.6 1092.6,646.5 M1107.5,645.6 1107.7,646.6 1108.0,645.0 1108.3,645.0 1108.7,644.1 1108.7,643.0 1109.0,643.0 1109.4,639.9 1109.8,637.1 1109.9,635.6 1110.1,631.9 1110.5,625.4 1110.7,617.9 1110.8,612.6 1111.1,597.8 1111.2,595.1 1111.5,577.9 1111.5,575.4 1111.8,557.5 1112.1,548.4 1112.2,546.6 1112.3,544.3 1112.5,548.4 1112.6,548.3 1112.8,557.2 1112.9,561.0 1113.2,576.2 1113.2,581.1 1113.5,596.5 1113.6,600.2 1114.0,616.5 1114.0,618.2 1114.3,627.3 1114.7,633.5 1114.7,635.1 1115.0,639.3 1115.3,642.4 1115.7,643.0 1115.9,643.2 1116.0,643.9 1116.4,645.0 1116.8,645.6 1117.1,646.5 M1205.0,644.6 1205.3,646.0 1205.7,645.9 1206.0,644.3 1206.3,644.7 1206.7,643.6 1207.0,643.2 1207.3,643.4 1207.4,643.4 1207.8,641.4 1208.1,640.5 1208.5,640.9 1208.8,639.2 1209.1,638.6 1209.2,637.1 1209.5,636.7 1209.8,633.0 1210.2,630.0 1210.5,626.0 1210.9,621.3 1210.9,619.6 1211.2,612.1 1211.6,600.5 1212.0,585.1 1212.0,582.9 1212.3,566.9 1212.7,543.5 1212.7,538.5 1213.0,517.0 1213.3,496.5 1213.3,489.9 1213.7,461.9 1213.8,453.2 1214.0,439.8 1214.2,434.1 1214.4,428.1 1214.5,426.6 1214.8,429.8 1214.9,435.2 1215.1,444.3 1215.3,453.0 1215.5,467.8 1215.8,495.7 1216.2,523.7 1216.3,538.9 1216.5,548.5 1216.8,570.6 1217.1,583.4 1217.2,588.9 1217.5,603.1 1217.9,615.0 1218.1,619.7 1218.2,622.9 1218.6,628.2 1219.0,631.9 1219.3,634.1 1219.7,635.6 1220.0,638.8 1220.0,638.8 1220.3,640.2 1220.7,640.4 1221.0,640.8 1221.4,642.3 1221.8,642.5 1222.1,642.6 1222.5,642.9 1222.8,643.9 1223.2,643.8 1223.5,644.3 1223.8,646.0 1224.2,646.2 M1270.1,646.8 1270.4,646.4 1270.8,645.4 1271.1,645.5 1271.5,644.5 1271.8,642.9 1271.9,643.1 1272.2,641.8 1272.5,641.5 1272.8,641.1 1273.2,637.9 1273.5,635.5 1273.7,633.1 1273.9,631.5 1274.2,625.3 1274.6,619.0 1274.8,612.7 1275.0,608.0 1275.3,596.4 1275.5,587.1 1275.7,582.2 1276.0,567.5 1276.1,563.6 1276.3,551.2 1276.6,540.2 1276.7,538.2 1277.0,530.6 1277.0,528.1 1277.3,524.8 1277.4,525.8 1277.7,530.6 1277.8,531.6 1278.0,540.3 1278.1,541.9 1278.5,558.4 1278.6,563.1 1278.8,573.6 1279.1,587.7 1279.2,587.7 1279.5,601.5 1279.8,613.3 1280.2,622.3 1280.5,627.0 1280.9,631.8 1280.9,632.7 1281.2,635.3 1281.6,639.6 1282.0,639.7 1282.3,641.5 1282.7,643.5 1282.7,642.9 1283.0,643.0 1283.3,643.2 1283.7,644.1 1284.0,644.7 1284.4,646.1 1284.5,645.4 M1294.2,646.2 1294.5,644.8 1294.9,643.8 1295.1,643.5 1295.2,642.0 1295.6,640.5 1295.8,638.2 1296.0,636.5 1296.2,634.4 1296.3,633.7 1296.7,631.7 1296.7,629.9 1297.0,629.5 1297.0,628.3 1297.3,628.0 1297.4,627.6 1297.7,628.2 1297.7,628.2 1298.0,631.8 1298.0,630.3 1298.4,634.9 1298.5,634.7 1298.8,637.8 1299.0,638.2 1299.1,640.0 1299.5,642.6 1299.6,642.8 1299.8,644.3 1300.2,646.3 1300.5,646.4 M1368.4,644.9 1368.8,645.4 1369.0,644.3 1369.1,644.4 1369.5,642.2 1369.7,640.0 1369.8,640.0 1370.2,636.9 1370.2,636.8 1370.5,634.6 1370.8,634.6 1370.8,633.7 1371.2,631.5 1371.2,632.0 1371.5,631.3 1371.5,632.3 1371.9,632.5 1371.9,632.6 1372.2,634.0 1372.2,633.1 1372.6,636.1 1372.8,637.9 1373.0,638.1 1373.3,639.6 1373.3,640.3 1373.7,641.6 1374.0,644.4 1374.0,644.4 1374.3,644.8 1374.7,647.3" fill="none" stroke="#0d0dff" stroke-width="1.2" stroke-linejoin="round" stroke-opacity="0.9"/></g>
<rect x="1012.8" y="376.5" width="400.8" height="293.2" fill="none" stroke="#3a3a3a" stroke-width="1.5"/>
<line x1="1146.40" y1="669.70" x2="1146.40" y2="664.70" stroke="#3a3a3a" stroke-width="1.2" />
<line x1="1280.00" y1="669.70" x2="1280.00" y2="664.70" stroke="#3a3a3a" stroke-width="1.2" />
<line x1="1146.30" y1="390.30" x2="1190.60" y2="390.30" stroke="#f26d6d" stroke-width="2.0" />
<line x1="1146.30" y1="415.80" x2="1190.60" y2="415.80" stroke="#6d6df2" stroke-width="2.0" />
<path d="M1033.3,525.5 L1037.1,530.7 L1033.3,535.9000000000001 L1029.5,530.7 Z" fill="none" stroke="#333" stroke-width="1.35" stroke-linejoin="round"/>
<path d="M1119,509.40000000000003 L1122.8,514.6 L1119,519.8000000000001 L1115.2,514.6 Z" fill="none" stroke="#333" stroke-width="1.35" stroke-linejoin="round"/>
<path d="M1144.1,518.0 L1147.8999999999999,523.2 L1144.1,528.4000000000001 L1140.3,523.2 Z" fill="none" stroke="#333" stroke-width="1.35" stroke-linejoin="round"/>
<path d="M1163.4,471.6 L1167.2,476.8 L1163.4,482.0 L1159.6000000000001,476.8 Z" fill="none" stroke="#333" stroke-width="1.35" stroke-linejoin="round"/>
<path d="M1204.6,528.1999999999999 L1208.3999999999999,533.4 L1204.6,538.6 L1200.8,533.4 Z" fill="none" stroke="#333" stroke-width="1.35" stroke-linejoin="round"/>
<path d="M1290.8,523.1999999999999 L1294.6,528.4 L1290.8,533.6 L1287.0,528.4 Z" fill="none" stroke="#333" stroke-width="1.35" stroke-linejoin="round"/>
<path d="M1385.8,526.1999999999999 L1389.6,531.4 L1385.8,536.6 L1382.0,531.4 Z" fill="none" stroke="#333" stroke-width="1.35" stroke-linejoin="round"/>
<path d="M1297.7,465.1 L1301.8,471.5 L1297.7,477.9 L1293.6000000000001,471.5 Z" fill="none" stroke="#333" stroke-width="1.25" stroke-linejoin="round"/>
<line x1="1304.40" y1="471.90" x2="1344.20" y2="471.90" stroke="#222" stroke-width="2.0" />
<text x="-0.88" y="35.01" font-size="40.44" fill="#000" textLength="44.04" lengthAdjust="spacingAndGlyphs" stroke="#000" stroke-width="0.22">(a)</text>
<text x="213.65" y="357.17" font-size="20.67" fill="#000" textLength="99.69" lengthAdjust="spacingAndGlyphs" stroke="#000" stroke-width="0.22">Time (min)</text>
<text transform="translate(27.43,221.15) rotate(-90)" x="0" y="0" font-size="20.76" fill="#000" textLength="103.46" lengthAdjust="spacingAndGlyphs" stroke="#000" stroke-width="0.22">Voltage (V)</text>
<text x="337.31" y="59.88" font-size="17.4" fill="#000" textLength="117.26" lengthAdjust="spacingAndGlyphs" stroke="#000" stroke-width="0.22">CeO<tspan font-size="10.44" dy="5.39">2</tspan><tspan dy="-5.39"> electrolyte</tspan></text>
<text x="342.76" y="107.48" font-size="16.11" fill="#000" textLength="111.45" lengthAdjust="spacingAndGlyphs" stroke="#000" stroke-width="0.22">YSZ electrolyte</text>
<text x="342.16" y="187.28" font-size="17.4" fill="#000" textLength="112.73" lengthAdjust="spacingAndGlyphs" stroke="#000" stroke-width="0.22">TiO<tspan font-size="10.44" dy="5.39">2</tspan><tspan dy="-5.39"> electrolyte</tspan></text>
<text x="340.61" y="264.38" font-size="17.4" fill="#000" textLength="114.1" lengthAdjust="spacingAndGlyphs" stroke="#000" stroke-width="0.22">ZrO<tspan font-size="10.44" dy="5.39">2</tspan><tspan dy="-5.39"> electrolyte</tspan></text>
<text x="130.15" y="189.6" font-size="17.14" fill="#fff" font-weight="bold" textLength="75.65" lengthAdjust="spacingAndGlyphs" stroke="#fff" stroke-width="0.22">Ni-NCAL</text>
<text x="130.15" y="252.6" font-size="17.0" fill="#fff" font-weight="bold" textLength="75.64" lengthAdjust="spacingAndGlyphs" stroke="#fff" stroke-width="0.22">Ni-NCAL</text>
<text x="100.49" y="218.64" font-size="12.63" fill="#000" font-weight="bold" textLength="129.66" lengthAdjust="spacingAndGlyphs" stroke="#000" stroke-width="0.22">CeO<tspan font-size="6.95" dy="3.16">2</tspan><tspan dy="-3.16">/TiO</tspan><tspan font-size="6.95" dy="3.16">2</tspan><tspan dy="-3.16">/ZrO</tspan><tspan font-size="6.95" dy="3.16">2</tspan><tspan dy="-3.16">/YSZ</tspan></text>
<text x="159.39" y="143.57" font-size="17.49" fill="#000" font-weight="bold" textLength="18.13" lengthAdjust="spacingAndGlyphs" stroke="#000" stroke-width="0.22">H<tspan font-size="11.37" dy="3.85">2</tspan></text>
<text x="154.76" y="288.0" font-size="16.0" fill="#000" font-weight="bold" textLength="25.11" lengthAdjust="spacingAndGlyphs" stroke="#000" stroke-width="0.22">Air</text>
<text x="40.15" y="318.75" font-size="20.46" fill="#000" stroke="#000" stroke-width="0.22">0.0</text>
<text x="39.63" y="224.62" font-size="20.46" fill="#000" stroke="#000" stroke-width="0.22">0.4</text>
<text x="40.15" y="130.48" font-size="20.46" fill="#000" stroke="#000" stroke-width="0.22">0.8</text>
<text x="40.15" y="36.35" font-size="20.46" fill="#000" stroke="#000" stroke-width="0.22">1.2</text>
<text x="67.23" y="333.8" font-size="19.08" fill="#000" stroke="#000" stroke-width="0.22">0</text>
<text x="190.13" y="333.8" font-size="19.08" fill="#000" stroke="#000" stroke-width="0.22">20</text>
<text x="318.03" y="333.8" font-size="19.08" fill="#000" stroke="#000" stroke-width="0.22">40</text>
<text x="445.46" y="333.8" font-size="19.08" fill="#000" stroke="#000" stroke-width="0.22">60</text>
<text x="-0.8" y="390.03" font-size="39.33" fill="#000" textLength="44.48" lengthAdjust="spacingAndGlyphs" stroke="#000" stroke-width="0.22">(b)</text>
<text x="152.87" y="698.66" font-size="21.05" fill="#000" textLength="203.23" lengthAdjust="spacingAndGlyphs" stroke="#000" stroke-width="0.22">Current density (A·cm<tspan font-size="12.63" dy="-7.58">-2</tspan><tspan dy="7.58">)</tspan></text>
<text transform="translate(33.45,568.43) rotate(-90)" x="0" y="0" font-size="19.78" fill="#000" textLength="98.18" lengthAdjust="spacingAndGlyphs" stroke="#000" stroke-width="0.22">Voltage (V)</text>
<text transform="translate(490.97,626.71) rotate(-90)" x="0" y="0" font-size="23.68" fill="#000" textLength="211.86" lengthAdjust="spacingAndGlyphs">Power density (mW·cm<tspan font-size="14.21" dy="-8.52">-2</tspan><tspan dy="8.52">)</tspan></text>
<text x="218.89" y="448.15" font-size="15.16" fill="#000" textLength="30.72" lengthAdjust="spacingAndGlyphs">CeO<tspan font-size="9.40" dy="4.55">2</tspan></text>
<text x="104.14" y="486.3" font-size="14.62" fill="#000" textLength="26.91" lengthAdjust="spacingAndGlyphs" stroke="#000" stroke-width="0.1">YSZ</text>
<text x="100.14" y="557.35" font-size="14.84" fill="#000" textLength="27.5" lengthAdjust="spacingAndGlyphs">TiO<tspan font-size="9.20" dy="4.45">2</tspan></text>
<text x="46.38" y="654.65" font-size="16.77" fill="#000" stroke="#000" stroke-width="0.22">0.0</text>
<text x="45.96" y="566.12" font-size="16.77" fill="#000" stroke="#000" stroke-width="0.22">0.4</text>
<text x="46.38" y="477.58" font-size="16.77" fill="#000" stroke="#000" stroke-width="0.22">0.8</text>
<text x="46.38" y="389.05" font-size="16.77" fill="#000" stroke="#000" stroke-width="0.22">1.2</text>
<text x="441.06" y="654.65" font-size="16.77" fill="#000" stroke="#000" stroke-width="0.22">0</text>
<text x="441.06" y="566.12" font-size="16.77" fill="#000" stroke="#000" stroke-width="0.22">200</text>
<text x="441.48" y="477.58" font-size="16.77" fill="#000" stroke="#000" stroke-width="0.22">400</text>
<text x="441.06" y="389.05" font-size="16.77" fill="#000" stroke="#000" stroke-width="0.22">600</text>
<text x="63.02" y="668.5" font-size="16.77" fill="#000" stroke="#000" stroke-width="0.22">0.0</text>
<text x="135.56" y="668.5" font-size="16.77" fill="#000" stroke="#000" stroke-width="0.22">0.2</text>
<text x="207.89" y="668.5" font-size="16.77" fill="#000" stroke="#000" stroke-width="0.22">0.4</text>
<text x="280.43" y="668.5" font-size="16.77" fill="#000" stroke="#000" stroke-width="0.22">0.6</text>
<text x="353.18" y="668.5" font-size="16.77" fill="#000" stroke="#000" stroke-width="0.22">0.8</text>
<text x="425.3" y="668.5" font-size="16.77" fill="#000" stroke="#000" stroke-width="0.22">1.0</text>
<text x="497.44" y="42.3" font-size="40.0" fill="#000" textLength="43.61" lengthAdjust="spacingAndGlyphs" stroke="#000" stroke-width="0.22">(c)</text>
<text x="718.07" y="366.86" font-size="23.22" fill="#000" textLength="62.98" lengthAdjust="spacingAndGlyphs" stroke="#000" stroke-width="0.22">2θ/ (°)</text>
<text transform="translate(532.3,227.78) rotate(-90)" x="0" y="0" font-size="20.71" fill="#000" textLength="88.52" lengthAdjust="spacingAndGlyphs" stroke="#000" stroke-width="0.22">I/arb.units</text>
<text x="536.58" y="346.9" font-size="20.0" fill="#000" textLength="22.2" lengthAdjust="spacingAndGlyphs" stroke="#000" stroke-width="0.22">20</text>
<text x="673.05" y="346.9" font-size="20.0" fill="#000" textLength="21.7" lengthAdjust="spacingAndGlyphs" stroke="#000" stroke-width="0.22">40</text>
<text x="808.38" y="346.9" font-size="20.0" fill="#000" textLength="22.2" lengthAdjust="spacingAndGlyphs" stroke="#000" stroke-width="0.22">60</text>
<text x="944.28" y="346.9" font-size="20.0" fill="#000" textLength="22.2" lengthAdjust="spacingAndGlyphs" stroke="#000" stroke-width="0.22">80</text>
<text x="712.61" y="55.44" font-size="19.63" fill="#000" textLength="225.14" lengthAdjust="spacingAndGlyphs" stroke="#000" stroke-width="0.22">CeO<tspan font-size="11.39" dy="7.46">2</tspan><tspan dy="-7.46"> electrolyte after test</tspan></text>
<text x="712.61" y="88.43" font-size="20.47" fill="#000" textLength="240.43" lengthAdjust="spacingAndGlyphs" stroke="#000" stroke-width="0.22">CeO<tspan font-size="11.87" dy="7.78">2</tspan><tspan dy="-7.78"> electrolyte before test</tspan></text>
<text x="964.7" y="41.13" font-size="39.33" fill="#000" textLength="46.48" lengthAdjust="spacingAndGlyphs" stroke="#000" stroke-width="0.22">(d)</text>
<text x="1182.18" y="367.93" font-size="21.33" fill="#000" textLength="57.59" lengthAdjust="spacingAndGlyphs" stroke="#000" stroke-width="0.22">2θ/ (°)</text>
<text transform="translate(997.2,222.6) rotate(-90)" x="0" y="0" font-size="20.71" fill="#000" textLength="89.82" lengthAdjust="spacingAndGlyphs" stroke="#000" stroke-width="0.22">I/arb.units</text>
<text x="1003.22" y="347.0" font-size="19.08" fill="#000" textLength="20.41" lengthAdjust="spacingAndGlyphs" stroke="#000" stroke-width="0.22">20</text>
<text x="1136.58" y="347.0" font-size="19.08" fill="#000" textLength="19.93" lengthAdjust="spacingAndGlyphs" stroke="#000" stroke-width="0.22">40</text>
<text x="1268.89" y="347.0" font-size="19.08" fill="#000" textLength="20.41" lengthAdjust="spacingAndGlyphs" stroke="#000" stroke-width="0.22">60</text>
<text x="1401.72" y="347.0" font-size="19.08" fill="#000" textLength="20.41" lengthAdjust="spacingAndGlyphs" stroke="#000" stroke-width="0.22">80</text>
<text x="1195.5" y="51.69" font-size="18.42" fill="#000" textLength="199.77" lengthAdjust="spacingAndGlyphs" stroke="#000" stroke-width="0.22">TiO<tspan font-size="10.68" dy="7.00">2</tspan><tspan dy="-7.00"> electrolyte after test</tspan></text>
<text x="1195.5" y="81.53" font-size="18.33" fill="#000" textLength="213.91" lengthAdjust="spacingAndGlyphs" stroke="#000" stroke-width="0.22">TiO<tspan font-size="10.63" dy="6.97">2</tspan><tspan dy="-6.97"> electrolyte before test</tspan></text>
<text x="498.84" y="390.4" font-size="40.0" fill="#000" textLength="43.61" lengthAdjust="spacingAndGlyphs" stroke="#000" stroke-width="0.22">(e)</text>
<text x="718.18" y="710.64" font-size="23.78" fill="#000" textLength="62.73" lengthAdjust="spacingAndGlyphs" stroke="#000" stroke-width="0.22">2θ/ (°)</text>
<text transform="translate(529.4,577.22) rotate(-90)" x="0" y="0" font-size="24.0" fill="#000" textLength="99.59" lengthAdjust="spacingAndGlyphs" stroke="#000" stroke-width="0.22">I/arb.units</text>
<text x="536.78" y="691.0" font-size="20.31" fill="#000" textLength="22.23" lengthAdjust="spacingAndGlyphs" stroke="#000" stroke-width="0.22">20</text>
<text x="673.42" y="691.0" font-size="20.31" fill="#000" textLength="21.72" lengthAdjust="spacingAndGlyphs" stroke="#000" stroke-width="0.22">40</text>
<text x="808.91" y="691.0" font-size="20.31" fill="#000" textLength="22.23" lengthAdjust="spacingAndGlyphs" stroke="#000" stroke-width="0.22">60</text>
<text x="944.98" y="691.0" font-size="20.31" fill="#000" textLength="22.23" lengthAdjust="spacingAndGlyphs" stroke="#000" stroke-width="0.22">80</text>
<text x="717.11" y="398.47" font-size="20.09" fill="#000" textLength="220.33" lengthAdjust="spacingAndGlyphs" stroke="#000" stroke-width="0.22">ZrO<tspan font-size="11.65" dy="7.63">2</tspan><tspan dy="-7.63"> electrolyte after test</tspan></text>
<text x="717.11" y="431.47" font-size="20.09" fill="#000" textLength="236.07" lengthAdjust="spacingAndGlyphs" stroke="#000" stroke-width="0.22">ZrO<tspan font-size="11.65" dy="7.63">2</tspan><tspan dy="-7.63"> electrolyte before test</tspan></text>
<text x="969.43" y="389.0" font-size="40.0" fill="#000" textLength="39.47" lengthAdjust="spacingAndGlyphs" stroke="#000" stroke-width="0.22">(f)</text>
<text x="1180.37" y="712.83" font-size="21.33" fill="#000" textLength="57.79" lengthAdjust="spacingAndGlyphs" stroke="#000" stroke-width="0.22">2θ/ (°)</text>
<text transform="translate(995.7,572.65) rotate(-90)" x="0" y="0" font-size="21.86" fill="#000" textLength="93.71" lengthAdjust="spacingAndGlyphs" stroke="#000" stroke-width="0.22">I/arb.units</text>
<text x="1002.52" y="692.4" font-size="19.08" fill="#000" textLength="20.41" lengthAdjust="spacingAndGlyphs" stroke="#000" stroke-width="0.22">20</text>
<text x="1136.65" y="692.4" font-size="19.08" fill="#000" textLength="19.93" lengthAdjust="spacingAndGlyphs" stroke="#000" stroke-width="0.22">40</text>
<text x="1269.72" y="692.4" font-size="19.08" fill="#000" textLength="20.41" lengthAdjust="spacingAndGlyphs" stroke="#000" stroke-width="0.22">60</text>
<text x="1403.32" y="692.4" font-size="19.08" fill="#000" textLength="20.41" lengthAdjust="spacingAndGlyphs" stroke="#000" stroke-width="0.22">80</text>
<text x="1198.11" y="397.64" font-size="18.92" fill="#000" textLength="198.15" lengthAdjust="spacingAndGlyphs" stroke="#000" stroke-width="0.22">YSZ electrolyte after test</text>
<text x="1198.11" y="422.07" font-size="18.81" fill="#000" textLength="212.3" lengthAdjust="spacingAndGlyphs" stroke="#000" stroke-width="0.22">YSZ electrolyte before test</text>
<text x="1350.7" y="134.28" font-size="19.5" fill="#000" textLength="60.57" lengthAdjust="spacingAndGlyphs" stroke="#000" stroke-width="0.22">Li<tspan font-size="10.73" dy="7.02">2</tspan><tspan dy="-7.02">TiO</tspan><tspan font-size="10.73" dy="7.02">3</tspan></text>
<text x="887.66" y="484.64" font-size="21.3" fill="#000" textLength="67.16" lengthAdjust="spacingAndGlyphs" stroke="#000" stroke-width="0.22">Li<tspan font-size="11.72" dy="7.67">2</tspan><tspan dy="-7.67">ZrO</tspan><tspan font-size="11.72" dy="7.67">3</tspan></text>
<text x="1350.7" y="476.96" font-size="20.1" fill="#000" textLength="62.3" lengthAdjust="spacingAndGlyphs" stroke="#000" stroke-width="0.22">Li<tspan font-size="11.06" dy="7.24">2</tspan><tspan dy="-7.24">ZrO</tspan><tspan font-size="11.06" dy="7.24">3</tspan></text>
</svg></body></html>
